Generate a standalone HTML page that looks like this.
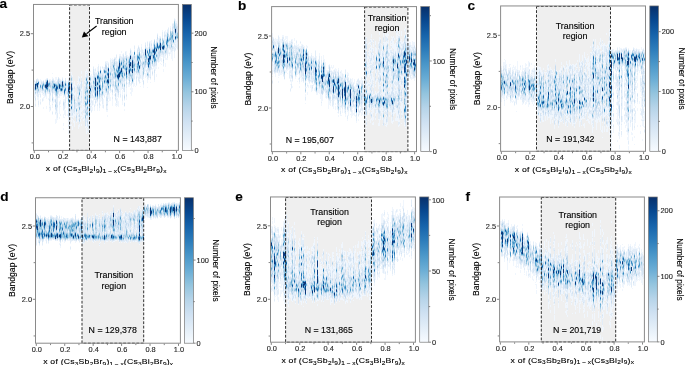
<!DOCTYPE html><html><head><meta charset="utf-8"><style>html,body{margin:0;padding:0;background:#fff;overflow:hidden}svg{display:block;will-change:transform}</style></head><body>
<svg width="685" height="365" viewBox="0 0 685 365" font-family='"Liberation Sans", sans-serif' fill="#000"><style>text{stroke:currentColor;stroke-width:0.12px}</style>
<defs><linearGradient id="cbg" x1="0" y1="1" x2="0" y2="0">
<stop offset="0" stop-color="#f7fbff"/>
<stop offset="0.1" stop-color="#e3eef8"/>
<stop offset="0.2" stop-color="#cfe1f2"/>
<stop offset="0.3" stop-color="#b6d4e9"/>
<stop offset="0.4" stop-color="#93c4de"/>
<stop offset="0.5" stop-color="#6aadd5"/>
<stop offset="0.6" stop-color="#4a97c9"/>
<stop offset="0.7" stop-color="#2d7dbb"/>
<stop offset="0.8" stop-color="#1764ab"/>
<stop offset="0.9" stop-color="#084991"/>
<stop offset="1" stop-color="#08306b"/>
</linearGradient><filter id="sb" x="-5%" y="-5%" width="110%" height="110%"><feGaussianBlur stdDeviation="0.35"/></filter></defs>
<rect width="685" height="365" fill="#fff"/>
<rect x="69.6" y="4.45" width="19.9" height="145.95" fill="#efefef"/>
<g fill="none" stroke-width="1" filter="url(#sb)"><path stroke="#f0f6fd" d="M34.5 80v1m0 1v2m0 7v7m1-17v1m0 13v1m0 5v3m0 2v1m1-14v3m1-18v1m0 18v3m1-21v1m0 13v1m0 3v4m0 4v2m1-26v6m0 6v2m1-16v5m0 8v2m0 3v1m0 1v3m0 2v1m1-25v1m0 10v2m1-12v1m0 11v2m0 3v1m0 2v1m1-22v1m0 10v2m0 1v2m0 1v4m0 6v2m1-27v1m0 5v1m0 4v5m1-19v1m0 16v1m1-19v1m0 13v7m0 7v3m1-16v1m1-13v1m0 10v2m0 4v2m1-21v1m0 25v2m0 1v4m1-33v2m0 15v6m0 3v2m0 3v1m1-31v1m0 11v1m1-20v1m0 3v2m0 23v2m0 1v3m0 3v1m0 2v1m1-37v1m0 14v1m0 3v6m1-23v1m0 12v2m0 4v3m1-25v5m0 15v2m0 11v2m0 2v1m0 4v5m1-47v3m0 1v1m0 31v10m1-44v1m0 28v5m0 5v2m1-26v1m0 1v2m1-20v1m0 13v2m0 2v2m0 3v1m0 3v9m0 3v2m1-40v1m0 14v2m0 4v4m0 2v1m0 7v2m1-36v1m0 13v2m1-19v1m0 15v2m1-15v1m0 12v5m0 1v2m0 9v1m0 3v4m0 5v3m0 2v2m1-49v1m0 14v1m0 2v3m0 7v6m0 2v1m1-15v5m0 2v6m1-35v2m0 11v1m0 2v2m1-18v4m0 10v1m0 1v2m0 15v2m1-38v2m0 38v2m0 2v3m0 2v2m0 1v4m1-58v1m0 21v1m0 4v1m0 6v1m0 10v2m0 3v4m1-27v14m0 5v4m1-54v3m0 41v1m0 1v4m0 2v2m1-51v2m0 4v1m0 34v1m0 2v1m0 6v4m1-46v4m0 1v5m0 2v1m0 3v9m0 4v5m0 2v3m1-42v5m0 7v2m0 19v2m0 5v6m1-42v3m0 4v7m0 2v1m0 7v8m1-31v1m0 14v2m0 4v1m0 14v1m1-42v1m0 1v2m0 9v3m0 9v2m0 3v2m0 2v7m1-46v8m0 24v2m0 4v1m0 2v2m0 1v2m0 3v4m1-52v1m0 6v1m0 12v1m0 26v3m1-45v2m0 8v9m0 4v1m0 2v8m0 3v3m1-51v3m0 2v2m0 11v2m0 12v2m0 3v4m0 2v2m0 1v2m0 5v2m1-44v2m0 3v24m0 4v3m1-14v1m0 1v4m0 3v4m0 2v2m1-41v1m0 3v2m0 8v1m0 8v1m0 3v2m0 4v2m0 1v4m1-49v6m0 4v1m0 44v2m1-59v3m0 1v1m0 32v1m0 9v2m0 4v5m0 1v6m1-63v2m0 54v1m0 3v1m1-52v1m0 3v3m0 1v1m0 9v1m0 3v6m0 1v1m0 2v1m0 2v3m0 2v5m0 7v1m1-63v2m0 3v1m0 52v1m1-58v1m0 3v1m0 23v4m0 2v1m0 4v1m1-37v8m0 16v2m0 3v3m0 1v3m0 2v1m1-37v9m0 13v1m0 1v1m0 4v1m0 1v4m1-45v1m0 26v1m0 1v1m0 2v7m1-36v3m0 32v1m0 2v4m1-43v1m0 2v2m0 25v1m0 5v2m1-34v1m0 24v1m0 2v3m1-36v4m0 1v2m0 28v2m0 2v5m1-47v2m0 26v7m1-28v2m0 35v3m1-45v1m0 25v1m0 4v5m0 2v2m1-36v3m0 12v1m0 12v3m1-35v1m0 1v1m0 3v1m0 31v4m1-41v2m0 19v1m0 1v1m0 4v1m0 3v6m0 3v1m1-35v1m0 15v5m0 2v1m1-37v1m0 31v2m1-34v2m0 30v3m0 14v2m1-51v4m0 41v3m0 1v2m0 3v2m1-55v1m0 32v4m0 2v1m1-33v3m0 3v1m0 13v2m0 2v8m1-43v2m0 31v2m0 4v4m1-42v3m0 13v2m0 7v2m0 3v3m1-34v2m0 12v1m0 14v2m0 6v2m0 2v7m1-47v1m0 27v1m1-31v1m0 21v1m0 1v4m0 4v4m0 1v2m1-39v1m0 2v1m0 5v3m0 23v1m0 7v1m0 2v3m1-52v1m0 3v3m0 31v7m0 4v1m0 1v2m1-46v1m0 31v4m0 1v8m1-47v1m0 37v1m0 3v6m1-53v2m0 27v1m0 1v5m0 1v1m1-38v2m0 29v9m0 3v1m1-47v2m0 3v1m0 27v6m1-36v3m0 33v5m0 6v4m1-52v1m0 28v6m0 2v2m1-36v1m0 35v2m0 6v1m0 1v1m0 3v1m0 2v2m1-60v1m0 3v1m0 4v1m0 15v5m1-30v4m0 33v6m0 3v3m1-45v2m0 15v1m0 6v1m0 3v1m1-28v1m0 23v1m0 1v5m1-34v3m0 29v2m1-39v1m0 30v3m0 1v3m0 2v2m0 2v2m1-44v4m0 26v2m0 3v11m1-44v4m0 32v4m1-38v1m0 27v5m1-42v1m0 3v1m0 29v1m0 3v3m1-31v1m0 11v4m0 1v3m0 11v1m1-33v1m0 19v2m0 9v1m1-38v1m0 26v3m1-33v1m0 5v1m0 22v3m0 4v1m1-35v1m0 31v1m0 3v1m1-34v2m0 1v1m0 15v6m0 3v1m0 3v1m0 3v1m1-43v3m0 12v1m0 1v1m0 4v13m1-30v1m0 3v2m0 15v1m0 9v2m1-32v2m0 7v2m0 16v2m0 6v3m1-39v3m0 20v2m1-32v1m0 25v3m0 2v5m1-31v1m0 17v3m0 1v1m0 2v5m1-36v1m0 4v2m0 19v1m0 3v1m0 7v4m0 4v1m1-41v4m0 27v2m1-39v1m0 30v1m0 1v4m1-37v7m0 31v1m0 2v1m1-43v3m0 21v3m0 2v1m1-23v1m0 18v1m0 1v3m0 4v1m1-34v1m0 19v2m0 3v2m1-2v2m0 11v2m1-39v2m0 21v5m1-32v2m0 17v1m0 7v3m0 5v3m1-44v1m0 27v1m1-24v6m0 18v1m0 4v2m1-33v2m0 20v4m1-26v1m0 19v5m0 2v1m1-21v1m0 11v2m0 1v4m0 2v1m1-35v2m0 23v2m1-19v1m0 27v1m0 2v3m1-41v1m0 22v4m1-28v4m0 3v2m0 4v4m0 9v4m0 3v4m1-35v3m0 19v1m0 3v2m1-31v1m0 28v2m1-33v1m0 20v6m1-19v1m0 13v1m0 2v1m0 1v2m1-30v2m0 22v4m1-2v7m1-36v1m0 21v1m0 5v10m1-38v1m0 5v1m0 14v2m0 3v2m1-33v1m0 21v2m0 3v2m0 5v6m1-39v4m0 20v1m0 3v1m0 2v1m1-30v2m0 17v8m1-24v2m0 23v1"/><path stroke="#e2edf8" d="M34.5 81v1m0 2v3m0 3v1m1-9v1m0 11v1m0 1v2m0 2v1m0 3v2m1-27v1m0 11v2m1-14v3m0 12v3m1-17v1m0 11v1m0 1v3m0 4v4m1-18v6m1-3v2m0 2v3m0 5v2m1-23v1m0 2v1m0 4v2m1-9v1m0 8v2m0 6v2m1-14v1m0 5v1m1-11v1m0 5v1m0 2v1m1-13v2m0 13v1m1-17v1m0 10v2m1-14v1m0 13v1m1-2v1m1-12v1m0 6v2m0 5v5m0 2v4m0 2v1m1-27v1m0 6v5m0 2v1m0 11v3m1-29v2m0 8v1m1-13v1m0 21v1m0 2v1m0 7v2m1-35v1m0 10v3m1-12v2m0 8v2m1-11v1m0 13v1m0 6v1m0 5v1m0 2v2m1-32v1m0 14v5m0 9v2m1-33v1m0 17v7m0 2v1m0 5v5m1-41v1m0 15v1m1-15v2m0 1v1m0 8v1m0 2v2m0 6v3m1-25v1m0 11v2m1-13v1m0 10v2m1-16v1m0 13v1m1-4v4m0 8v1m0 4v4m1-28v1m0 19v7m1-31v2m0 13v10m1-20v1m0 2v8m1-9v6m0 3v1m0 1v1m1-17v1m0 36v1m0 2v2m0 3v2m1-50v4m0 16v1m0 1v4m0 1v2m0 3v1m0 1v1m0 3v6m0 2v3m2-51v1m0 34v6m1-39v4m0 1v1m0 2v2m0 4v2m0 8v4m0 2v6m0 2v1m0 1v2m1-25v2m0 13v4m1-27v1m0 2v4m0 2v1m0 16v2m1-12v7m1-6v4m0 5v3m0 6v1m1-37v1m0 3v5m0 3v9m1-22v3m0 4v4m0 5v2m0 4v2m0 2v4m0 1v2m1-39v1m0 2v1m0 3v1m0 12v4m0 9v3m0 3v1m0 4v2m1-40v5m0 2v1m0 9v4m1-27v3m0 7v1m0 2v5m0 2v5m0 9v2m2-9v1m0 4v3m0 4v2m1-38v3m0 2v8m0 1v2m0 2v2m0 1v1m0 6v4m1-36v4m0 1v1m0 1v3m0 13v1m1-27v3m0 17v1m0 5v2m0 5v1m0 10v4m1-49v3m0 3v1m0 5v1m0 19v1m0 10v4m0 6v1m1-46v3m0 5v5m0 2v2m0 1v3m0 6v1m0 4v2m0 10v1m0 2v4m1-60v3m0 43v10m1-52v1m0 4v2m0 15v1m0 4v2m0 1v4m1-28v3m0 3v2m0 3v5m0 2v3m0 3v1m0 3v2m1-27v2m0 3v4m0 2v2m0 3v4m1-38v2m0 6v5m0 8v2m0 2v1m0 3v2m1-26v2m0 21v5m0 5v2m1-38v2m0 2v3m0 23v2m0 2v1m1-31v6m0 9v2m0 6v1m0 1v2m1-29v1m0 29v1m0 2v2m1-40v5m0 19v2m1-19v2m0 24v4m0 2v3m1-41v2m0 24v1m0 1v2m1-24v3m0 5v1m0 4v3m0 1v2m0 4v2m1-31v1m0 5v1m0 22v2m0 1v5m1-35v1m0 2v13m0 2v1m0 1v1m0 1v4m0 10v3m1-41v2m0 6v1m0 8v6m0 5v2m1-35v2m0 20v2m0 5v2m1-30v2m0 19v2m0 10v1m0 4v3m0 2v4m1-43v1m0 3v1m0 15v4m0 4v3m0 3v3m0 1v1m0 3v1m1-47v1m0 30v1m1-23v3m0 1v3m0 4v6m1-29v6m0 3v2m0 19v1m1-29v6m0 4v3m0 2v2m0 1v4m1-24v2m0 1v1m0 2v3m0 2v1m0 8v4m0 2v1m0 2v1m0 3v2m0 2v2m1-39v3m0 8v5m0 3v2m0 5v1m1-29v1m0 26v4m1-31v2m0 1v2m0 1v2m0 3v2m0 20v1m0 5v1m0 1v1m1-45v3m0 3v1m0 16v2m0 2v3m0 5v2m0 7v4m0 1v1m1-43v3m0 17v3m0 7v1m1-33v4m0 23v2m0 6v2m1-41v1m0 25v1m1-27v6m0 15v2m0 5v1m0 9v3m1-40v3m0 6v1m0 10v1m0 3v3m1-27v1m0 23v2m0 4v2m0 6v6m1-47v1m0 14v2m0 3v2m0 3v3m0 6v2m1-33v1m0 12v2m0 5v1m0 3v2m0 11v1m0 4v1m1-48v3m0 1v2m0 1v1m0 1v2m0 9v4m1-21v1m0 29v3m0 6v1m0 1v1m1-40v5m0 1v2m0 5v2m0 1v3m0 1v2m1-22v2m0 17v1m0 1v2m1-24v1m0 27v1m1-36v1m0 22v1m0 4v2m1-25v2m0 4v2m0 11v1m0 5v1m0 2v3m1-29v1m0 26v1m1-29v1m0 15v11m1-36v3m0 1v1m0 9v1m0 12v6m1-23v7m0 2v2m0 4v1m1-17v5m0 2v2m0 9v1m0 2v1m0 2v6m1-36v1m0 23v2m1-29v1m0 2v2m0 1v2m0 19v1m0 3v4m1-33v1m0 12v4m0 10v4m0 1v3m1-29v1m0 3v1m0 9v1m0 6v3m1-31v8m0 3v1m0 3v1m0 1v2m1-16v3m0 2v7m0 6v2m0 1v9m1-28v1m0 3v3m0 6v2m0 9v1m0 3v1m0 3v1m1-33v4m0 4v1m0 7v4m1-29v2m0 22v1m1-20v5m0 11v1m0 5v2m1-30v4m0 2v1m0 7v1m0 3v2m0 4v1m0 1v3m0 5v3m1-28v1m0 18v3m0 4v1m1-36v1m0 28v1m1-24v1m0 21v7m0 1v1m1-36v1m0 2v4m0 7v3m0 1v3m0 3v2m1-21v1m0 22v1m0 2v1m1-32v1m0 2v2m0 13v1m0 2v3m1-28v1m0 26v1m0 2v1m0 3v7m1-35v1m0 9v2m0 6v3m1-25v1m0 23v1m1-32v1m0 5v2m0 9v3m0 5v2m1-17v1m0 15v2m1-24v1m0 10v1m0 7v1m1-21v1m0 16v2m1-8v2m0 3v2m1-23v6m0 12v1m0 3v1m1-16v1m0 10v2m0 3v4m0 4v3m1-34v3m0 2v5m0 8v4m1-20v1m0 1v1m0 2v4m0 4v3m0 4v2m1-21v4m0 7v2m0 5v1m1-24v2m0 17v9m1-30v6m0 3v1m0 5v2m0 1v2m1-12v1m0 5v3m0 3v1m0 4v1m1-26v2m0 14v3m0 2v1m1-19v1m0 16v4m1-28v3m0 16v2m0 4v2m1-27v2m0 2v1m0 1v2m0 11v1m0 2v3m1-30v1m0 12v8m0 2v3m0 2v5m1-29v1m0 17v2m0 1v3m0 1v2m1-27v3m0 13v1m1-14v6m0 7v1m0 2v7"/><path stroke="#d4e4f4" d="M34.5 87v3m1 1v1m0 6v2m1-20v1m0 9v1m1-9v1m0 10v1m3-5v1m1-8v2m0 1v2m0 1v1m1-6v1m1-3v1m0 6v1m0 1v1m1-1v2m1-10v1m0 11v1m3-13v1m0 5v3m1-10v1m0 11v1m0 5v2m1-19v1m0 10v2m1-12v8m1-11v1m0 12v5m1-18v1m0 8v1m1 0v1m1 4v1m0 3v1m0 2v1m0 4v2m1-26v1m0 12v1m0 5v9m1-30v3m0 12v2m0 7v2m1-29v1m0 11v1m0 1v1m1-12v1m0 8v1m1-10v2m2-4v1m0 11v1m1-11v3m0 4v1m0 13v1m0 2v1m1-23v4m0 8v1m1-16v1m0 11v1m1-9v2m1 5v1m1-11v1m0 25v1m0 8v1m1-36v1m0 10v5m0 9v3m0 3v3m2-39v1m0 4v1m0 23v1m1-23v2m0 15v1m0 4v2m0 6v2m2-28v2m0 7v2m0 11v3m2-4v1m0 6v1m0 2v3m1-35v1m0 1v1m1-2v1m0 2v1m0 4v1m0 3v1m0 5v1m1-27v2m0 5v1m0 18v2m0 3v1m0 3v1m0 3v1m1-30v2m1-10v7m0 8v2m3-1v2m0 2v1m1-19v1m0 3v2m0 19v2m0 3v2m0 4v7m1-33v1m0 1v5m0 8v1m0 2v1m0 3v1m1-40v3m0 1v1m0 3v1m0 1v2m0 6v1m0 15v1m0 9v1m0 2v3m1-32v2m0 30v2m1-52v1m0 3v2m1 3v1m1 4v1m0 1v1m1-6v3m0 4v2m1-27v6m0 12v1m0 2v2m1-18v3m0 3v1m0 4v1m0 5v4m1-19v1m0 24v2m1-16v1m0 2v1m0 4v1m1-22v1m0 5v1m0 19v1m1-12v1m1-15v1m0 22v1m0 4v2m1-36v1m0 4v2m0 5v3m0 7v1m0 2v1m1-19v2m0 2v1m0 8v1m0 2v2m0 1v1m1-22v1m0 20v1m0 2v1m1-29v2m0 13v2m1-14v1m1-10v1m0 4v1m0 13v1m0 2v2m0 2v1m1-26v1m0 3v1m0 5v1m0 10v1m0 5v1m0 4v4m0 3v2m1-38v1m0 1v1m0 15v1m0 4v4m0 3v3m0 3v1m1-41v3m0 23v1m0 2v1m1-15v4m1-17v3m0 2v1m0 4v3m0 4v1m0 4v2m1-22v4m0 7v1m1-18v1m0 1v2m0 3v2m0 2v1m0 3v3m0 4v2m0 6v1m1-30v1m0 5v2m0 5v1m0 1v1m0 2v3m1-6v1m1-16v1m0 7v1m0 7v1m0 7v2m0 1v1m0 2v1m0 2v1m0 1v1m1-37v6m0 9v1m0 2v2m1-17v1m0 14v2m0 3v3m0 3v1m1-28v1m0 24v1m0 3v2m1-38v1m0 20v2m0 1v1m1-20v1m0 13v1m0 6v1m1-6v3m1-23v7m0 14v2m0 2v1m1-29v3m0 13v3m0 4v1m1-21v2m0 2v2m0 12v1m0 1v3m0 2v1m0 3v5m0 3v1m0 2v1m0 4v3m1-48v1m0 4v1m0 7v1m1-16v1m0 23v2m0 2v1m0 10v1m1-34v1m0 2v1m0 10v1m1-18v1m0 6v2m0 7v1m0 1v1m1 5v1m1-34v1m0 2v2m0 6v1m1-6v4m0 12v1m0 1v1m2-19v4m0 10v1m1-12v1m0 1v1m0 10v1m1-10v2m1-5v2m0 2v2m0 1v4m0 6v2m1-29v4m0 18v1m1-26v2m0 5v1m1-6v2m0 19v2m0 1v2m1-20v1m0 3v1m0 3v1m0 3v1m1-13v1m0 7v1m1-2v1m0 4v1m1-15v1m0 1v1m0 5v1m0 13v1m0 5v3m1-28v1m0 1v2m0 1v1m0 5v1m1-23v3m0 18v1m1-14v1m0 9v1m1-15v1m0 4v2m0 1v1m0 7v1m0 6v1m1-4v1m0 3v1m0 2v1m1-34v1m0 26v1m1-22v1m0 11v1m0 6v2m0 7v1m1-34v2m0 4v1m0 5v1m0 3v1m1 4v1m0 6v2m1-30v2m0 2v1m0 11v1m1 3v2m0 4v3m1-11v1m1-21v1m0 9v2m0 3v1m0 1v1m0 2v3m1-30v2m0 2v1m0 9v2m0 3v1m0 2v2m1-9v2m0 2v3m0 2v1m1-21v1m0 10v1m0 5v1m1-4v1m1-10v1m0 5v3m1 0v1m1-2v3m0 4v1m0 1v2m1-28v2m0 5v2m0 5v1m1-15v1m0 17v1m1-3v2m1-21v1m0 15v1m1-11v1m0 3v1m0 2v1m1-5v1m0 3v3m1-18v1m0 10v3m0 3v2m1-17v1m1-6v4m0 10v2m0 3v3m1-23v2m0 4v1m0 2v4m1-19v1m0 9v2m1-8v1m0 10v1m0 4v1m1-15v1m0 5v2m1 6v2"/><path stroke="#c6dbef" d="M35.5 93v1m1-13v1m0 7v1m1-1v4m1-8v4m0 2v1m2-8v1m0 3v1m1-2v1m1 2v1m1-9v1m0 3v1m0 2v1m1-6v1m0 2v1m1-5v1m0 9v1m1-14v1m1-2v1m0 11v1m1-5v1m1 4v1m1-10v2m0 2v1m2-5v2m0 5v3m0 5v1m0 1v1m1-20v2m1 6v1m1-7v1m0 8v3m0 5v2m0 2v1m2-21v1m0 5v1m0 3v2m1-17v3m0 7v1m0 1v1m1-3v1m1-7v1m0 7v1m1-10v2m1-4v1m1 22v2m1-18v2m1-8v1m0 4v1m0 4v1m2 0v2m1 12v1m0 1v1m0 2v5m3-39v1m0 26v1m1-18v1m0 2v1m0 2v1m0 5v1m2-2v1m0 5v5m2 7v2m1-31v1m1 0v2m0 6v1m0 5v1m0 1v1m1-18v2m0 6v1m0 6v1m0 12v2m0 2v1m0 1v1m6-33v2m0 4v1m0 11v1m0 2v1m0 7v1m1-42v1m0 3v2m0 6v1m0 2v1m0 9v1m0 2v1m0 3v2m0 1v1m1-25v2m0 3v1m0 10v1m0 6v1m0 3v1m0 5v2m2-6v1m1-41v1m0 2v1m0 2v2m0 1v1m0 5v1m0 1v4m1-13v1m0 1v1m0 3v1m2-12v1m0 3v3m1-6v1m0 2v1m0 5v1m1 6v1m1-19v2m0 10v4m1 4v1m1-29v1m0 13v4m1-13v1m0 20v1m1-22v1m0 3v1m0 3v1m1-7v2m0 14v1m1-20v2m0 3v1m0 8v2m2-22v1m0 6v1m1-12v4m0 4v2m0 7v1m0 5v2m1-24v3m0 1v1m0 2v2m0 1v1m0 2v1m0 3v1m0 3v1m1-19v1m0 6v3m1 10v1m0 1v2m2-11v1m0 4v1m2-12v1m0 13v2m1-28v1m0 12v1m0 6v2m1-27v3m0 4v1m0 8v3m1 0v1m0 1v1m0 8v1m0 4v2m1-24v2m0 11v1m0 3v1m1-24v4m0 9v1m0 8v1m0 1v1m1-26v1m0 15v1m0 4v1m0 3v3m1-13v1m1-14v3m0 5v1m0 3v1m1-20v1m0 15v1m1-12v1m0 3v1m0 8v1m0 7v1m1-29v1m0 17v1m1-17v1m0 3v1m0 4v1m0 2v1m0 23v2m1-34v1m1-8v1m0 7v1m0 13v1m0 2v2m1-18v1m0 2v1m1-10v1m0 2v1m0 1v1m0 2v1m0 5v1m1-18v1m0 18v4m0 1v2m1-32v2m0 7v1m0 10v1m0 1v1m0 2v1m1-10v2m0 9v1m1-22v1m0 18v2m0 4v1m1-23v2m0 6v2m1-19v1m0 3v1m0 2v1m0 3v1m2 3v1m0 4v2m1-12v2m0 7v2m2-21v1m0 20v1m1-17v2m0 4v1m0 1v1m0 1v1m1-11v2m1 5v1m0 1v2m1-13v1m0 9v1m0 2v1m1-11v1m0 4v5m1-9v1m0 6v1m1-12v1m0 5v3m1-5v2m1-8v1m0 4v1m0 10v1m0 5v2m1-32v3m0 18v5m1-20v1m0 11v6m1-17v1m1 1v2m0 1v4m0 4v1m1-12v1m1-14v1m0 22v1m1-18v1m0 7v1m1-12v1m0 16v2m1-25v2m0 16v2m1-12v1m0 6v2m0 3v2m1-19v3m0 8v5m1-18v1m1 8v1m1-10v1m0 2v1m0 9v2m1 7v1m1-17v1m1 5v1m1-12v1m0 5v1m0 2v3m2-17v3m1 0v1m1 2v1m1 1v2m0 3v1m1-8v1m1-8v2m1-6v1m1-5v3m1-1v5m0 2v1m0 3v1m1-7v1"/><path stroke="#afd1e7" d="M35.5 83v1m0 6v1m0 1v1m1-11v1m0 4v1m2-7v1m4 2v1m3 4v1m0 2v1m4-11v1m0 3v1m0 2v1m1-5v2m2-6v2m0 2v1m0 3v1m0 9v1m3-13v1m0 3v1m0 13v2m1-12v1m1-5v3m1-12v1m0 4v2m1-6v1m2 0v1m0 2v1m0 3v1m2-8v1m0 2v1m2-6v1m0 4v1m3 14v1m0 6v2m1-29v1m0 8v1m2-12v1m0 1v1m0 26v1m1-16v1m0 1v3m2 0v1m0 1v3m2 7v1m2-15v2m0 4v1m1-15v3m0 11v2m0 15v1m6-27v1m0 4v1m0 1v1m0 4v1m0 4v2m0 2v1m1-33v1m0 1v2m0 3v1m0 23v1m1-20v1m0 10v1m0 2v1m2-33v1m0 1v1m0 8v2m0 1v2m0 12v1m0 2v2m1-23v1m0 5v1m1-8v1m3-10v1m0 1v1m0 2v2m0 2v1m2-6v3m0 2v1m1-8v1m0 1v1m0 4v1m0 11v1m1-19v5m1-2v2m0 11v1m3-20v1m0 1v1m0 14v1m2-16v1m0 3v1m1-14v1m0 8v3m1-11v2m0 7v1m0 10v1m1-20v1m0 12v1m1-19v1m0 16v2m2-14v1m0 2v1m0 3v1m0 4v1m2-11v2m1-8v1m1-7v4m0 1v1m0 3v1m0 2v1m1-3v1m0 8v1m0 4v1m1-19v1m0 5v1m0 1v1m0 9v1m0 1v1m1-16v1m0 15v1m1-8v1m1-25v1m1 4v1m0 2v1m0 13v1m0 1v1m1-18v1m0 1v1m1-2v1m0 1v1m0 1v1m0 13v2m1-27v1m0 17v1m1-17v1m0 3v3m0 16v1m0 1v1m1-20v1m0 2v1m1-10v2m0 3v1m1 0v2m1-8v2m0 1v1m0 4v1m0 2v2m1 1v1m0 4v1m1-14v1m0 6v1m1-13v1m0 1v3m0 8v3m1-20v1m0 15v2m1-14v2m1-8v2m0 5v1m0 3v1m0 3v1m3-18v1m1 0v1m0 3v1m0 8v1m0 3v1m1-13v1m0 8v1m1-10v2m0 3v1m2-2v1m1 4v3m0 2v1m2-27v1m0 8v1m0 5v2m1-6v1m1 2v1m0 1v1m0 8v1m0 1v1m1-20v1m1-10v1m0 6v1m1-4v1m0 1v2m0 5v1m1-7v2m1-7v1m0 5v1m0 4v1m1-7v1m0 4v1m1-19v3m0 18v1m1-14v2m0 6v1m0 3v1m1-18v2m0 8v1m1-13v1m2 0v1m0 4v1m1-9v2m0 10v1m1-8v2m1-8v2m0 1v1m0 2v1m1-6v1m0 3v1m1 3v1m1 3v1m2-20v1m0 13v1m1-9v1m2-9v1m0 4v1m1-4v1m0 5v3m0 2v1m1-14v1m1 7v1m1-19v1m0 6v1m1 5v1m1 0v1m1 2v1"/><path stroke="#97c6df" d="M36.5 86v1m0 1v1m2 0v2m4-2v1m1-7v1m1 1v2m1 1v1m0 1v2m1-11v1m0 7v1m1 0v1m1-5v1m1-2v1m0 4v2m3-4v1m1-6v1m0 1v1m0 2v1m1-6v1m0 4v1m1-3v1m1-3v1m0 8v2m1-10v1m0 3v1m1-7v4m2-3v1m0 2v1m1-3v1m1 4v1m2 3v1m4-13v1m0 14v2m0 4v1m0 1v1m1-23v1m2-6v2m1 8v2m0 5v1m2 4v1m2 8v1m3-3v1m0 1v1m6-19v1m0 1v1m0 2v1m0 8v1m0 10v2m1-34v1m0 2v2m0 2v1m0 21v1m1-17v2m0 13v3m2-37v1m0 3v1m0 7v1m0 2v2m0 9v1m0 1v1m0 3v1m0 5v1m1-39v2m0 11v1m3-9v1m1-6v1m0 10v1m2-6v2m1-1v1m0 11v1m1-26v1m0 1v1m0 4v1m1 15v1m1-23v1m0 3v1m0 1v1m0 5v2m2-9v1m0 2v1m0 6v1m0 2v1m2-15v2m1-1v1m1-2v2m0 9v1m1-5v1m1 3v1m2-9v2m0 4v1m4-17v1m0 1v2m1 3v1m0 4v4m1-15v1m0 3v1m0 11v1m2-8v1m1-10v1m1-8v2m0 8v1m0 6v1m1-21v1m0 12v2m1-9v1m0 3v1m0 5v1m1-18v2m0 1v2m0 3v1m1-1v1m0 16v1m1-21v2m1-9v1m0 5v1m0 13v1m2-9v2m1-14v1m0 15v1m1-16v1m0 6v1m0 8v1m1-13v1m0 5v1m0 1v1m1-13v1m0 13v1m0 4v1m1-15v1m0 2v1m1-2v1m3 2v1m1-10v1m0 6v1m0 1v1m1-18v1m0 3v1m4 5v2m0 4v1m0 3v2m2-15v2m0 1v1m1-8v1m0 2v1m1-6v1m0 9v1m2-16v1m1 3v1m1-1v2m1-2v1m0 10v1m4-18v1m1 1v1m1 0v1m1-6v1m1-6v1m0 11v1m2-9v2m0 4v1m1-7v1m2 7v1m1-12v1m1-7v2m0 7v1m1-3v1m1-4v1m0 1v1m1-9v4m0 1v1m1-4v2m0 2v1m0 6v2m1-15v3m0 4v1m1 2v1m1-21v6m1 0v1m1 7v2m1-5v3"/><path stroke="#7ab6d9" d="M37.5 88v1m1-5v1m2 2v1m3-3v1m5-3v1m4 2v2m1-4v1m0 1v1m2-3v1m1 7v1m4-3v1m1-5v1m1 1v1m1-4v2m5 6v1m0 7v1m0 2v1m3-13v1m5 17v1m3-19v1m0 15v1m6-17v1m0 5v1m0 3v1m1-25v1m0 1v1m0 22v2m1-24v1m0 1v1m0 8v1m0 3v1m0 2v1m0 8v1m2-2v1m0 3v2m4-32v2m1 4v1m1-11v1m0 8v1m2-12v1m1-3v1m0 1v1m1 1v1m0 16v1m1-25v1m0 16v1m0 2v1m2-9v1m0 4v1m0 5v1m3-22v1m1 8v2m0 7v1m1-16v1m0 7v1m3-11v2m0 10v1m3-21v1m0 1v1m1 0v2m1 3v1m1-5v1m1 0v1m0 3v1m0 3v1m1-13v1m0 5v1m0 12v1m1-27v1m0 9v2m0 6v1m1-8v1m1 2v1m1-2v1m1-11v1m1 10v1m0 1v1m1-8v2m1-10v1m0 2v1m3 4v1m2 1v1m1-3v1m0 12v1m1-17v2m1-3v2m3-11v1m0 4v1m0 2v1m0 1v1m0 2v1m1-3v1m0 4v1m1-19v1m0 1v1m6 0v1m0 4v1m1-6v2m1-8v1m0 23v1m1-22v1m1-1v1m0 1v1m0 8v1m3-3v1m2-19v1m1 2v1m0 10v1m1-12v1m0 8v1m4-15v1m0 7v1m3-10v2m1 2v1m3-10v1m0 7v1m0 1v1m1-7v1m1-2v1m1-2v2m1-4v2m1 0v1m3-6v1m0 5v1m2-4v1"/><path stroke="#5fa6d1" d="M36.5 83v1m4 1v1m2-1v1m1-2v1m2-1v1m2 4v1m2-7v2m6 3v1m5-3v1m0 1v1m2-2v1m0 1v1m2-1v1m1-7v1m0 6v1m3 5v1m1-13v1m0 5v1m2 2v1m0 7v1m0 1v1m0 2v1m8-13v1m6 2v1m0 6v1m2-15v1m0 9v1m0 6v1m2-25v1m0 3v1m0 7v1m5-8v1m1 7v1m2-1v1m1-19v1m1-1v1m0 13v2m1-16v1m2 4v4m0 5v1m2-23v1m0 9v1m1-10v1m0 3v1m1 13v1m2-18v1m7 1v3m1-7v1m1 1v1m1-2v1m0 11v1m1-24v1m3 13v1m1-10v1m1 8v1m2-16v1m0 7v1m0 9v1m3-19v1m1-5v1m0 12v1m0 1v1m2 8v1m2-26v1m0 13v1m0 1v1m3-7v1m0 1v2m1-10v1m0 11v1m1-17v1m0 2v1m0 1v1m0 5v1m9-11v1m0 11v1m2-13v1m2-6v2m0 9v1m1-13v1m0 8v1m1 2v1m1-14v1m0 2v1m0 1v1m0 6v1m1-10v1m0 3v1m2-10v1m5-2v1m1 1v1m2-7v1m0 2v1m1-3v1m5-6v1m5-1v1"/><path stroke="#4896c8" d="M36.5 85v1m4 0v1m2 1v1m5-2v1m1-4v2m5 1v1m1-1v1m1-3v1m0 4v1m1-6v1m0 5v1m1-6v1m3-2v1m0 3v1m4 3v1m1-9v1m0 2v1m3-4v2m0 5v1m0 1v1m0 4v2m3-18v1m0 7v1m0 8v1m0 1v1m8-10v1m6 9v1m1-25v1m1 2v1m0 8v1m0 11v1m2-8v1m0 2v2m0 2v1m0 9v1m0 1v1m6-25v1m4-13v1m0 2v1m0 6v1m0 1v1m5-20v1m0 9v1m1-6v1m2-5v1m0 5v1m1-2v1m0 4v1m0 3v1m5-22v1m4 4v1m1 1v1m0 5v1m0 4v1m3-23v1m0 1v1m0 7v1m1 0v1m0 1v2m4-2v2m3-17v1m0 12v1m5-22v1m3 3v4m1-4v1m0 8v1m10-12v1m0 7v1m1-11v1m0 7v2m1-3v1m4-15v2m0 8v6m1-2v1m2-17v1m1 4v1m1-4v1m3 0v1m1 2v1m1-4v1m2-5v1m1-6v1m0 7v1m5-11v2m3-1v1"/><path stroke="#3484bf" d="M35.5 89v1m2-3v1m1-6v2m4 2v2m4-6v1m1-3v1m0 7v1m8 0v1m6-2v1m1-8v1m3 7v1m3-7v2m0 10v1m3 12v1m18-23v1m0 10v1m0 3v1m0 12v1m6-23v1m2-15v1m0 3v1m0 6v2m1-15v2m1 2v1m0 9v1m1-3v1m4-18v1m1 4v1m2-3v1m1-4v1m0 7v1m0 6v1m10-17v1m1-10v1m0 6v1m1 4v1m3-7v1m3 2v1m3-10v3m0 5v1m1-1v1m2 10v1m2-28v1m0 15v1m4-9v1m1-4v1m6-4v1m2-5v2m1 10v1m1-15v1m0 1v1m0 10v2m4-12v1m0 2v1m1-9v1m1 4v1m1-5v1m2-2v1m1-1v1m7-5v1m1-6v1m0 2v1m6-2v2"/><path stroke="#2070b4" d="M46.5 83v1m0 4v1m10-3v1m0 3v1m1-3v1m2-5v1m0 3v1m2 1v1m1-5v1m2 3v1m0 1v1m1-9v1m3 2v1m1-3v1m0 1v1m2 2v1m16 10v2m2-19v2m0 12v1m0 3v1m1-15v1m0 1v1m5-1v1m0 2v1m0 1v1m2-20v1m0 10v1m0 7v1m2-15v1m0 3v1m1-14v1m0 16v1m4-9v1m3 0v1m1-15v1m9 8v1m1-11v1m0 1v1m1-8v1m0 9v1m1-2v1m1-9v1m2 2v1m3 1v1m6-9v1m6-4v1m0 6v1m1 3v1m6-20v1m3 8v1m1-9v1m0 8v1m8-16v1m0 2v1m2-2v1m8-8v1"/><path stroke="#125ea6" d="M36.5 84v1m9 2v1m9-4v1m3 2v1m7 3v1m5-6v1m0 1v1m2 5v1m0 4v1m0 7v1m24-14v1m2-11v1m3-14v1m8 1v1m0 6v1m10-13v1m3-1v1m5 0v1m0 1v1m0 2v1m3-8v1m1-6v1m18 1v3m5-17v1m0 5v2m1-10v1m3-4v2m5 1v1m5-9v1m8-9v1m0 5v1"/><path stroke="#084c95" d="M46.5 84v1m10 2v3m12-2v1m0 2v1m1-3v1m2 8v1m24-12v1m2-11v1m0 10v1m0 5v1m2-7v1m18-14v1m1 2v1m1-12v1m1 4v1m9-3v1m0 1v1m9-10v1m11-8v1m11-14v1m0 1v2m2 0v1"/><path stroke="#083979" d="M35.5 84v5m2-6v4m8-2v2m1-2v3m1-7v6m7-2v2m5-2v3m2 1v1m1-8v4m6 3v2m3-7v6m0 5v3m19-9v1m5-12v8m0 2v2m2-7v1m0 7v3m2-8v2m8-8v2m1-13v2m0 3v4m0 3v2m9-7v1m1-3v4m1-15v4m0 6v4m2-8v3m5 0v2m3-10v3m0 4v1m1-16v3m0 4v3m2-5v7m0 1v4m6-11v1m1 3v2m6-18v5m3 4v3m1-5v2m1-3v3m3-8v1m1-3v6m2-6v2m4-7v1m0 2v3m3-4v3m12-20v3m0 5v1"/></g>
<rect x="69.6" y="4.9" width="19.9" height="145.5" fill="none" stroke="#1a1a1a" stroke-width="0.9" stroke-dasharray="2.8 1.6"/>
<rect x="33.5" y="4.45" width="144.9" height="145.95" fill="none" stroke="#8a8a8a" stroke-width="1"/>
<path d="M34.3 150.9v2.2M48.52 150.9v1.4M62.74 150.9v2.2M76.96 150.9v1.4M91.18 150.9v2.2M105.4 150.9v1.4M119.62 150.9v2.2M133.84 150.9v1.4M148.06 150.9v2.2M162.28 150.9v1.4M176.5 150.9v2.2M33 142.9h-1.4M33 106.5h-2.2M33 70.1h-1.4M33 33.7h-2.2" stroke="#666" stroke-width="0.8" fill="none"/>
<text x="34.8" y="159.3" text-anchor="middle" font-size="7.4" fill="#333">0.0</text>
<text x="63.24" y="159.3" text-anchor="middle" font-size="7.4" fill="#333">0.2</text>
<text x="91.68" y="159.3" text-anchor="middle" font-size="7.4" fill="#333">0.4</text>
<text x="120.12" y="159.3" text-anchor="middle" font-size="7.4" fill="#333">0.6</text>
<text x="148.56" y="159.3" text-anchor="middle" font-size="7.4" fill="#333">0.8</text>
<text x="177" y="159.3" text-anchor="middle" font-size="7.4" fill="#333">1.0</text>
<text x="30" y="109.2" text-anchor="end" font-size="7.4" fill="#333">2.0</text>
<text x="30" y="36.4" text-anchor="end" font-size="7.4" fill="#333">2.5</text>
<text transform="translate(12.5 77.42) rotate(-90)" text-anchor="middle" font-size="8.6">Bandgap (eV)</text>
<text transform="translate(106.25 171) scale(1.085 1)" text-anchor="middle" font-size="8" letter-spacing="0.2"><tspan>x of (</tspan><tspan>Cs</tspan><tspan dy="1.8" font-size="6.0">3</tspan><tspan dy="-1.8">Bi</tspan><tspan dy="1.8" font-size="6.0">2</tspan><tspan dy="-1.8">I</tspan><tspan dy="1.8" font-size="6.0">9</tspan><tspan dy="-1.8">)</tspan><tspan dy="1.8" font-size="6.0">1 − x</tspan><tspan dy="-1.8">(</tspan><tspan>Cs</tspan><tspan dy="1.8" font-size="6.0">3</tspan><tspan dy="-1.8">Bi</tspan><tspan dy="1.8" font-size="6.0">2</tspan><tspan dy="-1.8">Br</tspan><tspan dy="1.8" font-size="6.0">9</tspan><tspan dy="-1.8">)</tspan><tspan dy="1.8" font-size="6.0">x</tspan></text>
<rect x="182.5" y="4.45" width="8.8" height="145.95" fill="url(#cbg)" stroke="#777" stroke-width="0.7"/>
<path d="M191.3 150.4h2.2M191.3 91.79h2.2M191.3 33.17h2.2M191.3 121.09h1.4M191.3 62.48h1.4" stroke="#666" stroke-width="0.8" fill="none"/>
<text x="194.5" y="153.1" font-size="7.4" fill="#333">0</text>
<text x="194.5" y="94.49" font-size="7.4" fill="#333">100</text>
<text x="194.5" y="35.87" font-size="7.4" fill="#333">200</text>
<text transform="translate(211.3 77.42) rotate(90)" text-anchor="middle" font-size="8.3">Number of pixels</text>
<text x="-0.6" y="7.8" font-size="13.6" font-weight="bold" fill="#000">a</text>
<text x="137.7" y="142.2" text-anchor="middle" font-size="8.8">N = 143,887</text>
<g><text x="114.2" y="23.9" text-anchor="middle" font-size="8.9">Transition</text><text x="114.2" y="34.5" text-anchor="middle" font-size="8.9">region</text></g>
<rect x="364.6" y="6.6" width="43.3" height="145" fill="#efefef"/>
<g fill="none" stroke-width="1" filter="url(#sb)"><path stroke="#f0f6fd" d="M272.5 33v4m0 14v1m0 14v4m0 4v1m0 1v1m0 3v1m0 2v1m1-47v1m0 13v1m0 6v1m0 2v2m0 1v8m1-33v2m0 32v1m1-36v4m0 4v1m0 2v1m0 23v4m1-38v6m0 5v1m0 21v1m1-34v2m0 3v1m0 3v1m0 10v1m1-25v1m0 35v5m0 1v1m0 3v2m1-46v4m0 27v1m0 4v3m1-37v8m0 18v10m1-36v4m0 3v4m0 16v4m0 3v2m1-40v2m0 15v1m0 19v2m1-39v2m0 2v1m0 36v1m1-38v5m0 24v2m0 9v1m1-44v4m0 1v1m0 25v1m0 2v3m1-37v3m0 1v3m0 7v1m0 19v3m1-37v6m0 27v2m0 2v1m1-31v2m0 4v1m0 2v1m0 14v3m1-29v2m0 26v2m0 7v1m1-38v2m0 26v1m0 3v2m0 1v4m0 1v1m0 2v1m0 3v1m0 2v1m1-53v1m0 28v2m0 8v1m0 1v4m0 4v1m1-50v3m0 2v1m0 36v1m0 4v2m1-42v1m0 9v1m0 3v1m0 2v1m0 1v4m1-31v3m0 2v2m0 4v1m0 1v1m0 8v1m0 4v4m0 2v2m1-28v1m0 7v1m0 23v2m1-39v1m0 2v3m0 19v2m0 8v2m1-32v2m0 3v1m0 19v5m0 6v1m1-38v3m0 22v5m0 4v2m1-34v2m0 5v1m0 12v1m0 8v2m0 5v2m0 2v2m1-47v1m0 1v1m0 2v2m0 24v6m1-34v2m0 31v5m1-38v1m0 31v1m0 2v2m1-36v2m0 35v1m1-37v3m0 3v2m0 4v4m0 9v1m0 3v4m1-30v1m0 44v3m0 3v1m0 2v1m1-59v3m0 31v2m0 6v1m1-42v2m0 30v2m0 3v2m0 1v1m0 5v3m1-44v3m0 27v1m0 3v3m1-32v4m0 1v1m0 21v1m1-28v1m0 18v5m0 1v1m0 3v3m1-35v2m0 27v1m0 2v7m1-36v4m0 7v2m0 1v1m0 2v3m0 7v1m0 5v2m1-35v2m0 23v1m0 2v2m1-29v1m0 2v4m0 20v1m0 3v3m1-41v1m0 34v2m0 4v1m1-36v4m0 33v2m1-34v14m0 3v4m0 4v2m0 1v6m1-36v1m0 26v7m1-40v3m0 33v5m1-26v4m0 2v1m0 9v1m0 2v12m1-43v4m0 34v8m0 1v3m1-43v2m0 30v6m1-46v5m0 33v1m1-35v4m0 14v1m0 9v2m0 2v1m1-30v12m0 12v1m0 6v5m1-28v4m0 14v1m0 6v1m0 2v1m1-29v1m0 25v2m1-33v4m0 1v1m0 29v9m1-45v1m0 36v4m1-38v4m0 1v3m0 19v2m0 7v3m1-41v3m0 2v1m0 23v1m0 5v1m1-34v2m0 2v1m0 2v3m0 16v1m0 12v1m1-42v3m0 2v2m0 33v4m1-40v1m0 4v1m0 1v1m0 17v1m0 4v2m1-33v3m0 23v2m0 3v1m0 3v2m0 1v4m1-41v5m0 25v1m1-29v1m0 1v3m0 33v1m0 2v1m1-45v2m0 43v1m0 1v2m1-42v1m0 25v1m0 1v7m1-39v1m0 1v3m0 12v1m0 14v3m0 1v4m0 3v2m1-46v7m0 19v1m0 2v6m0 2v1m0 7v1m1-43v1m0 35v4m1-39v6m0 17v10m1-31v2m0 31v4m1-44v1m0 44v3m1-40v3m0 2v2m0 19v2m1-33v3m0 8v2m0 17v4m0 4v2m0 3v1m0 3v2m1-48v3m0 1v1m0 5v1m0 27v5m1-36v1m0 22v2m0 1v2m1-30v1m0 32v1m0 2v1m1-36v3m0 8v2m0 9v3m0 8v6m1-40v6m0 20v2m0 1v2m0 1v6m1-34v1m0 24v1m0 5v2m1-36v5m0 2v1m0 14v2m0 1v1m0 2v9m1-31v4m0 4v2m0 8v1m0 5v4m0 2v2m1-36v2m0 4v2m0 32v2m1-44v1m0 2v1m0 4v1m0 19v1m1-30v1m0 33v2m0 2v1m0 2v2m1-41v1m0 25v1m0 3v1m0 2v2m1-35v4m0 2v2m0 1v2m0 13v3m0 1v1m0 3v1m1-36v6m0 27v1m0 1v4m1-38v1m0 1v1m0 9v2m0 12v4m0 3v4m1-31v4m0 3v2m0 6v4m0 5v2m1-70v7m0 5v2m0 6v1m0 6v3m0 2v2m0 1v5m0 3v1m0 2v2m0 22v1m0 8v1m0 2v1m1-86v2m0 10v2m0 9v2m0 14v1m0 5v1m0 29v2m0 1v2m0 1v3m1-84v1m0 4v1m0 7v1m0 27v2m0 4v2m0 8v2m0 21v1m0 3v1m0 3v1m0 2v1m1-73v7m0 2v2m0 5v1m0 10v2m0 6v2m0 11v1m0 3v3m1-68v2m0 6v1m0 2v1m0 2v2m0 3v5m0 1v3m0 3v3m0 5v2m0 2v7m0 3v5m0 2v1m0 3v2m0 1v5m0 5v1m1-79v2m0 4v8m0 3v4m0 1v2m0 1v8m0 5v2m0 1v1m0 2v1m0 3v3m0 17v3m1-74v1m0 2v1m0 1v1m0 2v1m0 2v1m0 2v5m0 6v1m0 3v2m0 6v3m0 3v1m0 1v2m0 5v1m0 13v5m0 9v4m1-89v4m0 1v3m0 3v7m0 9v2m0 1v1m0 8v1m0 5v5m0 26v1m0 1v2m0 4v2m1-79v1m0 6v1m0 4v1m0 1v9m0 6v2m0 1v7m0 6v1m0 4v3m0 1v1m0 11v1m0 1v12m0 2v2m1-86v1m0 2v1m0 1v3m0 1v3m0 2v2m0 5v2m0 4v1m0 3v1m0 6v4m0 1v1m0 1v4m0 6v2m0 8v1m0 3v5m0 4v3m0 2v3m1-60v1m0 28v1m0 11v3m1-68v4m0 2v6m0 1v4m0 1v2m0 4v2m0 3v3m0 8v3m0 1v2m0 4v3m0 5v1m0 8v1m0 4v3m0 2v2m1-72v6m0 19v3m0 3v3m0 11v2m0 13v1m0 1v4m1-60v4m0 6v5m0 10v1m0 12v1m0 13v1m0 3v3m1-71v2m0 4v1m0 21v2m0 3v2m0 5v7m0 2v2m0 26v1m0 3v3m1-94v3m0 2v4m0 32v1m0 11v1m0 33v7m1-88v1m0 16v1m0 17v2m0 7v1m0 2v1m0 8v1m0 13v3m0 5v4m1-76v1m0 6v6m0 2v2m0 7v11m0 1v2m0 4v3m0 4v1m0 13v2m0 1v3m1-68v6m0 6v4m0 8v3m0 2v2m0 5v4m0 1v9m0 11v5m0 1v8m0 4v1m1-92v4m0 5v1m0 50v3m1-54v7m0 3v7m0 1v1m0 11v1m0 1v1m0 2v3m0 3v1m0 2v2m0 2v6m0 15v1m0 7v4m1-90v3m0 6v10m0 10v3m0 7v3m0 16v1m0 18v1m0 3v1m0 2v7m0 1v1m1-92v3m0 4v4m0 15v1m0 49v2m0 3v2m0 7v3m1-95v6m0 4v1m0 79v3m1-91v2m0 4v4m0 2v6m0 5v1m0 4v3m0 9v2m0 4v1m0 4v3m0 4v1m0 12v2m0 2v2m1-62v4m0 3v3m0 5v1m0 1v3m0 2v3m0 2v4m0 4v3m0 4v1m0 15v5m0 3v2m1-76v5m0 3v1m0 3v3m0 4v2m0 7v1m0 1v7m0 2v1m0 2v1m0 3v7m0 16v2m1-76v2m0 1v2m0 2v1m0 1v1m0 2v2m0 10v1m0 4v1m0 10v4m0 4v3m0 2v2m0 19v5m0 2v6m1-86v11m0 3v1m0 2v1m0 66v3m1-88v2m0 3v8m0 33v2m0 7v1m0 20v4m0 4v2m1-84v2m0 4v10m0 14v1m0 10v3m0 2v2m0 3v5m0 10v2m0 1v1m0 2v1m0 1v2m1-71v8m0 28v2m0 4v3m0 2v1m0 16v6m0 5v3m1-91v1m0 2v6m0 2v1m0 5v8m0 3v3m0 6v2m0 4v1m0 6v2m0 4v5m0 3v1m0 2v1m0 10v13m1-90v4m0 1v5m0 3v2m0 39v2m0 2v4m0 4v1m0 4v1m0 7v6m0 2v3m1-87v2m0 79v7m0 3v2m1-97v4m0 1v1m0 47v1m0 29v1m0 6v2m0 2v2m1-85v1m0 2v3m0 3v2m0 23v1m0 4v1m0 1v4m0 4v2m0 4v2m0 1v1m0 1v2m0 3v3m1-78v5m0 3v5m0 2v2m0 28v3m0 6v4m0 13v9m0 2v2m0 3v1m0 4v1m1-82v2m0 7v1m0 18v1m0 5v2m0 2v1m0 2v1m0 1v3m0 2v5m0 1v1m0 4v1m0 1v12m0 2v2m1-78v2m0 7v1m0 19v3m0 3v4m1-51v2m0 4v2m0 85v4m1-99v2m0 3v2m0 93v1m1-93v3m0 3v3m0 55v1m0 17v2m1-86v4m0 4v2m0 24v2m0 7v3m0 11v2m0 12v1m0 4v1m0 1v2m0 3v7m1-80v2m0 25v2m0 2v2m0 2v1m1-37v3m0 30v2m1-35v3m0 2v2m0 21v5m0 3v1m1-34v2m0 1v2m0 24v2m0 1v3m1-39v6m0 4v1m0 4v3m0 16v4m1-37v5m0 31v1m1-37v3m0 4v1m0 7v1m0 20v3m1-34v1m0 26v2m0 1v1"/><path stroke="#e2edf8" d="M272.5 37v3m0 5v2m0 5v1m0 9v4m0 4v4m0 7v2m1-45v1m0 2v1m0 7v2m0 1v1m1-12v5m0 5v2m0 6v2m0 4v3m0 4v1m1-31v4m0 4v1m0 21v1m1-28v5m0 1v1m0 15v5m1-31v3m0 14v1m0 13v1m1-37v6m0 28v1m1-30v2m0 14v3m0 9v1m0 2v1m1-26v1m0 15v2m1-15v1m0 7v2m0 3v3m0 4v3m1-36v2m0 2v1m0 9v1m0 1v1m0 3v2m0 8v5m1-35v2m0 1v1m0 31v4m1-32v1m0 3v1m0 18v1m0 2v1m1-29v1m0 16v2m0 2v1m1-15v1m0 9v4m0 6v1m1-28v1m0 25v1m1-24v4m0 4v1m0 2v4m0 2v2m0 1v2m1-24v4m0 21v1m0 2v7m1-35v2m0 17v3m0 2v2m0 1v3m0 2v1m0 4v1m0 8v2m1-51v2m0 1v1m0 26v5m0 2v1m0 6v4m1-46v2m0 1v1m0 3v3m0 19v4m0 4v2m1-34v4m0 2v3m0 1v3m0 1v2m1-18v4m0 1v1m0 1v2m0 4v1m0 2v4m1-19v7m0 1v2m0 20v1m1-36v2m0 3v2m0 1v3m0 8v2m0 5v1m0 5v2m1-28v3m0 1v1m0 4v6m0 7v1m1-23v1m0 3v3m0 3v1m0 10v1m1-21v1m0 3v1m0 1v3m0 8v1m0 1v3m0 4v1m0 2v1m0 1v3m1-40v1m0 5v5m0 18v1m1-26v3m0 4v2m0 7v2m0 9v4m1-32v9m0 14v8m0 1v2m1-9v3m0 3v2m0 3v1m1-33v1m0 1v1m0 2v4m0 4v1m0 3v1m1-17v1m0 36v1m0 4v1m0 4v3m1-27v2m1-23v1m0 3v2m0 18v2m0 7v1m1-32v2m0 18v1m0 5v1m1-21v1m0 1v1m0 18v2m1-26v6m0 5v7m0 5v1m1-26v3m0 13v1m0 7v3m1-22v3m0 3v1m0 4v2m0 3v5m0 1v1m0 2v2m0 1v1m1-31v1m0 16v3m0 1v2m1-23v2m0 4v1m0 3v5m0 2v4m0 4v1m1-33v7m0 26v1m0 2v4m1-31v1m0 31v1m1-18v3m0 4v4m0 2v1m1-29v4m0 20v2m1-30v5m0 27v1m1-14v1m0 3v1m0 5v2m1-27v4m0 38v1m1-38v2m0 1v2m1-10v2m0 17v1m0 4v1m0 6v2m1-30v2m0 13v3m0 5v1m0 2v2m1-17v1m0 12v1m0 2v3m1-15v2m0 4v4m0 1v1m0 3v2m0 1v2m1-27v1m0 4v3m0 9v2m0 4v2m1-25v1m0 14v2m0 11v1m1-35v1m0 27v3m0 4v1m1-30v1m0 12v4m0 5v1m0 2v1m0 2v4m1-32v2m0 2v2m0 7v1m0 4v2m0 1v2m1-22v2m0 3v2m0 7v3m0 5v1m0 5v6m1-34v1m0 26v6m1-35v4m0 3v1m0 9v4m0 2v1m0 4v1m1-28v1m0 7v2m0 12v1m0 2v3m1-25v3m0 13v3m0 2v2m0 1v1m1-27v1m0 3v1m0 27v2m0 1v2m1-39v2m0 39v2m1-37v1m0 21v3m1-29v1m0 3v1m0 1v4m0 5v1m0 14v1m0 3v1m0 4v3m1-37v1m0 3v1m0 13v1m0 9v2m1-33v4m0 1v2m0 25v3m1-29v3m0 3v1m0 4v6m1-19v1m0 6v1m0 21v2m1-39v4m0 4v2m0 30v1m0 1v2m1-30v1m0 8v4m0 5v1m1-28v4m0 2v2m0 2v1m0 8v1m0 6v1m0 4v1m0 9v3m1-41v3m0 1v1m0 1v1m0 6v1m0 13v6m1-30v2m0 3v3m0 8v3m0 1v2m0 2v1m1-27v4m0 27v1m1-29v3m0 7v1m0 3v2m0 6v8m1-28v1m0 4v2m0 1v8m0 3v1m0 2v1m1-24v3m0 16v2m0 2v1m1-20v2m0 16v2m1-18v2m0 1v1m0 2v1m0 6v1m0 1v5m1-26v4m0 2v1m0 26v5m1-41v2m0 1v1m0 22v1m1-28v5m0 5v1m0 14v1m0 3v4m0 2v2m1-35v6m0 24v2m1-25v1m0 2v2m0 3v8m0 5v3m1-29v1m0 21v5m1-29v3m0 5v1m0 2v2m0 3v7m0 4v3m1-23v3m0 2v1m0 3v2m1-52v5m0 2v3m0 4v6m0 3v2m0 8v3m0 5v5m0 13v1m0 2v1m0 1v1m0 5v1m0 2v2m1-83v5m0 4v1m0 2v1m0 1v2m0 2v3m0 2v1m0 4v3m0 5v1m0 4v1m0 2v1m0 3v3m0 1v4m0 19v1m1-77v4m0 1v1m0 5v1m0 1v1m0 1v1m0 4v3m0 8v1m0 7v1m0 2v1m0 5v3m0 7v1m0 18v1m0 2v3m0 1v1m0 1v1m1-32v1m0 9v1m1-52v2m0 13v1m0 3v3m0 10v2m0 7v3m0 5v2m0 1v3m0 2v1m1-54v3m0 4v1m0 20v2m0 7v1m0 14v2m1-70v2m0 6v2m0 8v2m0 1v3m0 1v3m0 6v2m0 3v3m0 4v2m0 2v1m0 1v1m0 11v1m0 7v4m1-74v3m0 7v1m0 1v4m0 2v1m0 4v4m0 1v2m0 2v5m0 5v1m0 2v3m0 2v3m0 13v2m0 7v1m1-69v4m0 1v1m0 9v6m0 10v6m0 10v1m0 8v2m1-67v2m0 13v1m0 2v2m0 2v4m0 1v3m0 18v6m0 2v1m0 5v2m0 1v3m1-13v1m0 6v4m1-61v2m0 14v1m0 2v1m0 2v3m0 3v1m0 2v2m0 2v1m0 3v1m0 9v1m0 3v1m0 1v4m0 5v4m0 3v2m1-64v1m0 15v3m0 22v2m0 8v3m1-50v2m0 1v3m0 29v1m0 11v1m1-62v4m0 1v1m0 6v3m0 3v1m0 4v3m0 2v3m0 2v1m0 2v2m0 11v3m0 17v6m1-78v2m0 6v3m0 19v2m0 1v5m0 4v2m0 2v5m0 16v2m0 4v5m1-80v1m0 3v12m0 1v5m0 6v6m0 2v1m0 5v1m0 4v4m0 2v2m0 1v1m0 8v4m0 3v5m1-59v2m0 2v1m0 2v4m0 26v3m0 6v4m1-56v2m0 3v1m0 4v1m0 6v1m0 3v2m0 23v1m0 7v1m1-69v1m0 2v2m0 1v2m0 6v3m0 1v1m0 36v1m0 15v3m0 1v1m0 5v5m0 2v1m1-65v6m0 4v1m0 3v2m0 7v2m0 2v2m0 6v1m0 9v5m1-75v6m0 10v1m0 8v1m0 3v1m0 3v3m0 3v1m0 8v1m0 3v3m0 1v1m0 3v1m0 9v4m0 1v3m0 10v1m1-88v4m0 4v1m0 12v1m0 2v1m0 10v1m0 11v1m0 4v8m0 12v1m0 2v3m0 2v2m0 3v1m1-85v1m0 1v1m0 2v1m0 10v2m0 32v2m0 5v2m0 20v5m1-70v1m0 3v1m0 1v1m0 2v1m0 11v1m0 2v1m0 2v1m0 13v2m0 8v2m1-52v3m0 3v1m0 2v2m0 1v1m0 3v2m0 21v3m0 3v2m0 6v1m1-57v3m0 3v4m0 2v4m0 2v1m0 12v2m0 11v1m0 7v1m0 5v2m1-69v2m0 3v2m0 2v2m0 1v7m0 1v1m0 2v1m0 1v2m0 2v6m0 4v1m0 2v1m0 3v2m0 2v1m0 4v1m0 8v5m1-58v2m0 1v1m0 9v1m0 7v7m0 4v3m0 7v5m0 7v3m0 4v1m0 3v4m1-83v3m0 8v4m0 19v1m0 8v1m0 2v7m0 1v1m0 17v2m1-58v2m0 1v1m0 7v3m0 1v1m0 2v1m0 4v2m0 3v2m0 10v2m0 7v1m0 4v2m1-59v1m0 16v2m0 6v3m0 2v4m0 3v2m0 1v5m0 5v6m1-76v2m0 9v5m0 8v3m0 3v1m0 2v3m0 2v1m0 1v2m0 1v1m0 3v2m0 2v4m0 5v3m0 4v7m1-64v3m0 2v2m0 2v7m0 21v7m0 8v1m0 2v1m0 4v1m0 2v1m0 3v1m0 7v2m1-82v2m0 10v3m0 10v1m0 3v1m0 27v1m0 12v4m0 4v1m0 7v3m1-89v1m0 6v2m0 8v2m0 8v2m0 15v3m0 1v1m0 15v2m0 3v2m0 2v4m0 1v1m0 3v1m0 3v2m1-82v2m0 3v1m0 1v1m0 3v1m0 3v2m0 11v2m0 1v2m0 1v1m0 2v1m0 12v4m0 4v1m1-57v2m0 2v1m0 7v3m0 16v1m0 3v2m0 3v1m0 4v1m0 6v2m0 3v1m0 9v2m0 2v3m1-74v4m0 2v1m0 1v2m0 2v1m0 7v1m0 4v1m0 1v2m0 2v1m0 5v2m0 5v2m0 7v4m0 1v1m1-60v1m0 25v1m1-33v1m0 6v6m0 24v2m0 12v2m0 15v2m0 10v5m1-93v3m0 2v1m0 4v3m0 48v1m0 22v1m0 11v2m1-89v3m0 3v3m0 19v3m0 9v1m0 6v5m0 7v2m0 1v10m0 2v5m1-80v1m0 2v1m0 2v2m0 16v2m0 3v1m0 2v1m0 4v2m0 3v2m0 5v1m0 5v1m0 4v6m0 2v1m0 2v1m0 4v3m1-71v1m0 4v2m0 4v1m0 4v2m0 2v5m0 2v2m0 2v2m1-33v1m0 17v1m0 4v2m0 4v1m1-30v2m0 2v4m0 16v1m0 5v3m1-31v1m0 2v1m0 18v5m1-27v4m0 1v1m0 11v2m0 8v1m1-28v2m0 17v1m0 9v2m1-33v1m0 2v1m0 1v1m0 5v1m0 20v1m1-30v1m0 24v1m0 2v1"/><path stroke="#d4e4f4" d="M272.5 40v1m0 2v2m0 2v1m0 2v1m1-12v2m0 1v2m0 9v1m0 3v1m1-12v5m0 2v1m0 3v2m0 2v2m0 1v1m0 3v2m0 1v1m1-7v1m0 4v2m1-20v1m1-4v1m0 5v1m0 1v1m0 2v1m0 10v1m1-30v1m0 12v1m0 13v1m1-27v2m0 2v1m0 4v1m0 14v1m0 2v2m1-16v7m1-12v1m0 2v1m0 5v3m1-24v2m0 1v1m0 13v1m1-16v1m0 29v1m1-27v3m0 1v1m0 25v4m1-36v1m0 2v5m0 2v1m0 7v2m0 1v3m1-24v1m0 7v1m0 6v1m0 4v6m1-26v1m0 20v1m0 2v1m1-14v2m0 4v2m0 2v1m1-4v1m0 5v1m1-23v1m0 3v8m0 4v1m0 3v2m1-25v1m0 24v1m0 7v2m1-31v1m0 5v1m0 8v1m0 8v1m0 4v1m0 2v1m1-28v2m1 1v1m1 1v2m0 6v1m1-17v1m0 3v1m0 11v1m0 3v1m0 3v1m1-18v1m0 6v1m0 5v1m1-21v3m0 7v5m1-6v1m0 6v1m0 8v1m0 4v1m2-30v4m0 2v1m0 16v1m1-19v1m0 12v1m1-21v1m0 21v1m0 3v3m0 2v3m1-31v1m0 12v3m0 1v1m0 2v1m1 10v2m0 3v1m0 1v1m1-41v1m0 16v1m0 6v1m0 5v1m1-21v1m0 4v2m0 5v6m1-20v1m0 4v1m0 6v4m0 1v1m0 1v2m0 1v2m1-17v1m0 14v3m1-18v1m0 3v1m1 4v1m0 2v4m1-16v3m0 15v1m0 5v1m1-29v1m0 3v7m0 3v2m0 3v1m1-14v1m0 1v1m0 5v2m0 4v1m1-22v2m1 1v1m2 11v2m0 6v3m1-23v1m0 2v2m0 2v2m0 8v2m0 7v1m1-12v3m0 1v1m0 2v1m1-20v1m0 16v3m0 5v1m0 3v1m1-27v1m0 2v3m0 16v2m0 3v1m1-17v1m0 1v1m0 4v1m0 4v1m1-26v1m0 15v1m0 3v1m1-11v1m0 2v1m0 6v1m0 2v2m1-16v1m0 2v1m0 5v1m0 6v1m0 1v1m1-21v1m0 2v1m0 11v1m0 2v4m1-6v1m1-23v1m0 25v1m0 3v1m0 2v1m1-25v1m0 3v5m0 4v2m0 2v1m0 4v2m1-26v2m0 2v1m0 5v1m0 1v4m0 2v1m1-7v1m0 6v1m0 2v5m1-27v2m0 19v3m0 1v1m1-13v1m0 4v2m0 2v3m1-26v2m0 7v2m1-6v2m0 5v1m0 8v2m0 2v1m1-21v1m0 13v2m0 3v2m0 3v3m0 2v1m1-35v1m0 25v2m0 5v1m0 4v1m1-34v2m0 3v3m0 12v1m1-21v1m0 4v1m0 6v1m0 11v1m1-24v3m0 6v5m1-14v1m0 2v1m0 23v1m1-23v3m0 1v1m1-9v1m0 4v1m0 13v1m0 4v4m1 2v1m0 1v1m1-27v1m0 15v1m1-23v2m0 5v1m0 6v1m0 1v1m0 13v1m1-29v1m0 10v1m0 6v2m0 3v1m1-22v3m0 3v1m0 10v1m1-18v1m0 23v3m1-25v1m0 3v1m0 3v1m0 1v1m0 2v1m0 1v1m1-16v4m0 2v1m0 8v1m0 1v1m1-17v1m0 5v3m0 3v1m0 5v2m1-17v2m0 4v1m0 4v1m1-10v1m0 4v6m1-12v3m0 20v3m1-30v1m0 1v1m0 13v4m1-16v1m0 2v1m0 9v1m0 1v1m0 1v1m1-21v1m0 17v1m1-13v3m1-12v1m0 8v2m0 5v2m0 1v2m1-21v1m0 3v1m0 5v3m1-3v3m1 8v1m0 1v2m0 3v2m1-70v1m0 2v1m0 4v1m0 2v2m0 13v1m0 3v1m0 2v1m0 6v3m0 3v1m0 4v1m0 15v1m1-68v2m0 6v1m0 1v4m0 3v1m0 1v2m0 2v2m0 1v1m0 5v1m0 4v1m0 1v1m0 9v1m0 3v1m0 6v2m0 3v1m0 13v1m1-24v3m3-43v1m0 9v1m0 2v1m0 14v2m0 7v1m0 5v1m1-51v1m0 4v2m0 9v1m0 15v2m0 3v2m0 3v2m0 8v3m0 6v1m0 1v1m1-13v1m1-49v2m0 39v1m0 3v1m1-6v6m1-40v2m0 10v2m0 2v2m0 15v1m0 1v1m0 9v1m1-45v2m0 4v1m0 27v1m0 6v1m1-45v1m0 33v1m0 7v3m1-55v1m0 4v1m0 3v1m0 1v1m0 1v1m0 2v1m0 11v2m0 16v1m0 11v1m0 3v1m1-70v3m0 2v1m0 3v1m0 9v2m0 6v1m0 8v4m0 9v6m0 12v1m0 2v1m1-74v3m0 18v1m0 14v1m0 13v2m0 11v1m1-42v2m0 33v1m0 4v1m1-50v3m0 6v1m0 4v1m1-30v2m0 14v1m0 1v1m0 11v4m0 10v1m0 4v2m0 12v1m0 9v1m0 1v1m0 9v2m1-55v1m0 34v1m1-53v1m0 1v2m0 3v1m0 7v1m0 7v1m0 8v3m0 5v1m0 1v1m0 9v1m1-60v5m0 11v5m0 3v2m0 1v1m0 9v1m0 4v1m0 8v1m0 21v3m1-83v1m0 9v1m0 6v1m0 12v2m0 7v2m0 10v1m0 3v1m0 2v1m0 11v1m0 2v2m0 2v1m1-64v3m0 3v1m0 5v1m0 6v1m0 4v2m0 16v3m0 4v1m1-43v2m0 33v3m0 2v4m1-38v2m0 27v1m0 2v4m0 1v2m0 1v2m1-56v1m0 9v2m0 4v2m0 11v2m0 9v4m0 8v1m1-49v1m0 7v1m0 1v1m0 5v1m0 14v1m0 1v5m0 5v1m0 5v1m0 3v1m0 2v1m0 1v3m1-64v2m0 18v1m0 6v1m0 12v4m0 9v1m0 2v1m1-54v1m0 13v2m0 4v1m0 19v2m0 4v1m1-51v1m0 3v2m0 8v2m0 2v3m0 1v2m0 20v1m0 2v2m1-39v2m0 6v1m0 4v3m0 27v3m1-60v2m0 19v2m0 23v2m0 2v3m1-50v1m0 8v1m0 1v1m0 19v6m0 3v2m0 1v1m0 7v1m0 2v1m0 4v1m0 2v1m1-77v1m0 4v1m0 2v1m0 6v1m0 9v1m0 2v3m0 10v2m0 5v4m0 7v1m0 5v3m0 2v2m0 6v3m1-70v1m0 5v1m0 4v1m0 6v4m0 2v1m0 4v2m1-30v4m0 2v1m0 3v3m0 19v3m0 6v2m0 1v3m1-48v2m0 4v2m0 1v1m0 7v1m0 2v1m0 4v2m1-31v2m0 3v1m0 1v1m0 13v1m0 2v1m1-31v4m0 1v1m0 14v1m0 38v1m0 9v1m0 8v1m1-79v1m0 3v1m0 32v1m0 15v1m0 5v2m0 3v2m0 10v1m0 8v2m1-78v1m0 3v4m0 1v2m0 19v1m0 1v1m0 2v3m0 5v4m0 16v2m1-74v2m0 5v1m0 6v2m0 9v1m0 6v1m0 10v5m0 7v4m0 9v2m1-62v1m0 2v1m0 5v1m0 1v1m0 2v1m0 2v2m1-19v4m0 14v1m0 8v1m1-21v3m0 4v2m1-11v1m1 3v1m0 3v1m0 3v1m0 5v5m1-25v2m0 6v1m0 9v2m0 6v1m1-30v2m0 3v1m0 6v1m0 17v1m1-28v2m0 20v2"/><path stroke="#c6dbef" d="M272.5 41v2m0 18v1m1-18v1m0 11v1m1 6v1m0 6v1m1-13v1m0 5v1m0 1v1m0 2v1m1-17v1m0 12v1m1-17v1m0 2v2m0 1v1m0 9v5m1-28v2m1 0v2m0 1v1m0 14v2m1-17v1m0 6v1m1-4v2m0 1v3m1-15v1m0 10v2m0 3v1m1 10v1m1 0v1m0 2v1m1-31v2m0 5v2m0 5v1m1-11v1m0 8v1m1-14v1m0 20v2m2-20v1m0 1v3m0 10v1m0 3v1m1-21v1m0 1v1m0 8v1m1-14v1m0 3v1m1-2v2m0 4v3m0 13v1m0 6v2m2-23v3m1 7v1m0 9v1m1-23v1m0 5v1m0 2v2m0 5v3m1-20v1m0 14v1m1-14v3m0 10v1m1-8v2m0 8v1m1-18v1m0 7v1m1-6v1m0 7v5m0 2v1m1-14v1m0 1v1m0 4v2m1-19v1m0 12v4m0 3v1m1-1v2m1-19v1m0 3v2m0 28v1m0 3v1m0 1v1m1-26v1m0 8v1m1-23v1m0 1v1m0 3v1m0 2v1m0 2v1m0 2v2m1-13v1m0 2v1m0 6v1m0 4v1m0 4v1m1-7v1m0 2v2m0 1v1m1-14v3m1-9v1m0 5v1m0 8v2m2-15v1m0 1v1m0 7v3m1-7v1m0 13v3m1-18v1m0 17v1m1-17v2m0 22v1m2-28v1m0 2v1m0 4v1m0 7v1m1-19v2m0 2v2m0 9v1m0 2v1m0 5v1m1-5v1m1-18v1m0 7v1m0 6v1m0 3v1m0 3v1m0 1v3m1-11v2m0 4v1m0 2v3m1-11v1m1-2v3m1-9v2m0 1v3m1-7v2m0 3v1m0 1v1m0 8v1m1-19v2m0 4v1m0 5v2m1-15v1m0 12v1m0 12v1m1-32v4m0 26v2m1-21v1m0 11v2m1-14v2m0 2v1m1 0v2m0 4v1m0 1v1m1-17v1m0 2v1m0 4v1m0 13v1m1-20v1m1-5v2m0 2v1m0 13v1m1-14v3m0 1v1m0 1v1m0 3v1m1 5v1m0 2v3m1-28v3m0 27v2m0 1v1m0 2v1m1-31v3m0 8v1m0 5v1m1-5v4m0 4v1m1-19v1m0 3v1m0 5v3m1 9v1m1-15v1m1-11v1m0 2v1m0 13v1m0 4v1m1-23v1m0 27v1m1-23v4m0 2v1m0 4v1m1-2v1m0 3v1m0 6v2m1-19v1m0 2v3m0 1v2m0 2v1m1-12v3m0 3v1m2-11v1m0 7v1m0 4v1m1 1v1m1-15v1m0 7v3m0 1v1m1-6v1m0 1v1m0 2v1m2-7v1m1-10v2m0 5v2m0 3v2m0 3v1m1-18v1m0 6v2m0 13v1m3-22v1m0 9v1m0 6v1m3 11v3m1-72v2m0 24v3m0 4v2m0 26v2m0 2v1m1-65v3m0 13v1m0 2v2m0 8v1m0 6v1m0 6v1m0 16v3m0 1v2m0 2v1m1-21v1m2-1v1m0 8v1m0 3v1m1-12v1m0 5v1m1-6v1m0 5v2m0 10v1m1-13v1m1-6v3m2-5v1m1-42v1m0 6v1m1 32v1m0 5v1m1-51v1m0 8v1m0 3v2m0 31v1m0 3v1m0 5v1m0 1v3m1-66v2m0 9v1m0 11v1m0 37v1m0 3v2m1-51v1m0 3v1m0 10v1m0 2v1m0 15v1m0 5v1m1-2v1m1-36v1m0 31v1m0 1v1m1-56v1m0 4v1m0 25v2m0 3v1m0 18v1m0 5v2m0 9v1m1-51v1m0 29v1m0 6v1m1-51v1m0 2v3m0 6v2m0 9v3m0 3v1m0 10v1m0 2v1m0 3v1m0 2v1m1-51v2m0 11v1m0 10v5m0 2v1m0 22v1m1-65v1m0 2v2m0 1v1m0 2v1m0 3v4m0 2v3m0 5v1m0 1v2m0 5v1m0 2v1m0 3v1m0 3v1m0 6v1m0 11v2m0 2v2m1-56v1m0 8v1m0 28v1m0 1v2m1 2v2m1-10v2m0 7v1m1-3v1m1-47v2m0 3v2m0 3v5m0 8v1m0 2v1m0 4v1m0 21v2m1-57v1m0 18v1m0 22v1m0 3v1m0 3v1m0 1v2m1-51v1m0 5v1m0 8v3m1-23v3m0 2v1m0 5v2m0 7v1m0 23v2m2-42v2m0 2v1m0 9v7m0 27v1m0 1v1m1-70v2m0 12v1m0 10v2m0 1v1m0 14v1m0 6v3m0 10v1m0 1v2m0 6v2m1-72v1m0 7v3m0 9v1m0 6v1m0 5v2m0 1v1m0 11v1m0 1v5m0 1v1m0 1v1m1-45v2m1-4v2m0 7v5m0 1v2m0 4v1m0 17v1m0 5v3m1-43v1m0 7v1m1-21v3m0 15v1m0 1v2m1-26v1m0 47v1m0 4v2m0 16v3m1-81v1m0 7v1m0 30v1m0 1v1m0 9v1m0 12v3m0 10v1m0 6v4m1-75v3m0 4v1m0 2v1m0 6v1m0 3v3m0 8v2m0 12v3m1-51v6m0 2v1m0 5v1m0 4v1m0 7v1m1-27v2m0 3v3m0 3v2m1-10v1m0 2v1m0 13v1m0 2v1m1-15v1m0 5v1m0 4v2m1-1v1m1-16v2m0 7v1m0 3v1m0 1v1m1-18v3m0 1v2m0 12v1m0 2v3m1-23v1m0 2v1m0 16v2m1-23v2m0 3v2m0 3v1m0 8v1"/><path stroke="#afd1e7" d="M272.5 48v2m0 3v1m1 0v2m1-2v1m0 1v1m1-6v1m0 5v1m0 1v1m0 7v2m1-6v2m1-14v2m0 8v1m1-17v1m0 8v1m0 1v1m0 7v1m0 3v1m1-18v1m0 4v1m0 3v1m0 5v1m1-18v2m2-7v1m0 5v1m0 11v3m0 1v1m1-25v1m0 9v1m0 12v1m0 3v1m1-12v1m0 7v1m0 6v1m1-20v1m1-8v1m0 4v1m1-8v1m0 4v1m2-3v1m0 4v3m1-9v1m0 10v1m0 1v1m1-14v1m0 8v1m0 2v2m0 4v2m1-11v1m0 3v1m0 1v1m0 5v1m3 0v2m1-17v2m0 2v1m1-6v2m0 8v1m0 2v1m1-4v4m1-18v1m0 1v1m0 6v2m0 2v2m0 7v2m1-16v1m0 12v1m1-14v1m0 11v2m1-16v1m0 1v1m0 1v1m0 1v1m1 3v1m0 1v1m2-16v1m0 1v1m0 2v1m0 22v1m0 2v2m0 5v1m1-27v1m0 2v1m0 9v1m1-24v1m0 5v2m0 4v2m1-10v2m0 2v1m0 3v1m1-1v1m0 5v2m0 2v1m2-18v1m0 5v1m0 4v1m2-10v1m2-2v1m0 5v1m0 15v1m1-21v1m0 3v1m0 9v2m2-13v2m0 1v1m0 10v1m1-10v1m0 14v1m1-5v1m1-3v1m0 5v3m1-15v1m0 10v1m1-23v1m0 14v1m0 3v2m0 3v1m0 2v1m1-24v1m0 2v4m0 3v1m1 5v1m1-2v1m1-2v1m0 3v1m1-12v1m0 15v2m1-20v2m0 4v2m1-3v2m1 2v2m1-3v1m0 10v1m1-15v2m2-2v2m0 5v1m1-2v1m1-5v1m0 6v2m0 3v1m0 2v1m1-18v1m0 23v3m0 5v1m1-24v1m0 3v1m0 5v1m1-6v2m0 4v1m0 2v1m2-18v1m0 20v1m1-16v2m1-9v2m0 3v1m0 12v1m1-26v1m0 2v1m0 28v2m1-18v2m0 6v1m0 1v1m1-4v1m1-2v1m0 5v2m1-11v1m1-10v1m0 3v1m3-1v2m0 1v1m0 9v1m1-11v3m0 3v1m2-4v2m1-7v2m0 4v1m0 4v1m1-7v1m0 7v1m1-15v1m0 15v1m2-9v4m1-15v1m0 1v1m2 5v1m0 10v1m1-42v1m0 2v1m0 41v2m1 2v2m3-14v3m0 1v3m1-36v2m0 20v1m0 4v1m1-1v1m1-2v1m0 4v1m3 1v1m0 1v1m1-46v1m0 40v2m1-8v1m0 3v1m1-49v1m0 1v1m0 47v1m1-50v1m0 2v1m0 7v1m0 33v1m0 7v1m1-42v1m0 12v2m0 21v1m1-4v1m1-36v1m0 1v1m0 33v1m0 1v1m1-24v1m0 17v1m0 17v1m1-46v1m1 32v2m1-53v1m0 4v2m0 10v2m0 7v1m0 9v1m0 10v1m0 2v2m1-58v2m0 4v2m0 8v2m0 3v3m0 3v1m0 2v3m0 3v2m0 10v1m0 5v1m0 8v1m1-43v1m0 1v1m0 1v2m0 27v1m3-3v1m1-39v1m1-4v1m0 10v1m0 3v1m0 3v1m0 3v1m0 20v1m0 1v1m0 1v1m1-4v1m1-39v1m2-5v2m0 45v1m1-67v4m0 3v1m0 11v1m0 35v1m0 3v2m1-63v1m0 7v1m0 1v1m0 6v1m0 3v2m0 8v1m0 3v1m0 2v1m0 13v1m0 7v1m1-34v1m1 1v1m0 2v1m1-12v1m0 3v1m0 3v1m1-16v1m1 20v1m0 20v1m0 3v1m0 5v1m1-68v1m0 6v4m0 29v1m0 9v1m0 1v1m0 6v1m0 7v1m2-41v1m0 6v2m2-22v2m0 9v1m0 2v1m0 5v2m1-16v1m0 1v1m0 6v1m2-7v2m0 5v1m1-14v1m0 3v1m0 2v1m0 8v2m1-19v1m0 20v2m1-18v1m0 1v1m0 1v1"/><path stroke="#97c6df" d="M272.5 55v1m0 4v1m1-13v1m1 6v1m2-2v1m0 10v1m1-1v1m1-20v1m0 12v2m0 4v1m1-17v2m0 2v1m0 8v1m0 2v1m1-15v1m2-7v3m0 12v2m0 3v1m1-23v1m0 9v1m1 9v1m0 8v1m1-16v1m1-14v1m0 11v1m1-11v2m0 1v1m0 1v4m0 1v1m0 6v1m2-12v1m0 3v1m0 6v1m0 1v1m1-7v1m1-15v1m0 3v3m0 3v1m0 1v2m0 2v1m0 1v2m1-8v1m0 1v1m3-2v1m0 4v1m0 2v1m0 1v1m0 2v1m0 2v1m1-19v2m1 7v1m2-16v1m1 3v1m0 1v1m0 1v1m0 1v1m0 1v1m1-2v1m1-6v1m0 5v1m0 1v1m1 1v1m2-14v1m0 4v1m0 18v1m1-29v1m0 21v1m0 4v1m3-13v1m0 5v1m2-11v1m4 3v1m0 15v2m1-17v1m0 15v1m0 3v2m0 3v1m2-22v3m0 6v1m1 2v1m0 2v1m2-19v1m0 1v2m2-5v1m0 21v2m1-22v2m0 4v1m1 9v2m3 6v1m0 5v1m1-7v1m3-10v1m1 1v1m0 8v1m1-15v1m1 7v2m0 2v1m2-13v1m0 7v1m0 6v1m1-18v1m0 19v1m0 9v1m2-25v1m0 13v2m1-16v3m1-3v2m0 16v2m2-7v1m0 4v1m1-21v1m0 23v1m1-7v1m1-8v1m0 5v2m1-15v1m1 8v2m1-11v3m0 18v1m1-20v2m2 1v1m0 9v1m1-3v1m3-1v1m1 2v1m1-13v1m0 6v1m0 3v4m2-18v1m0 3v1m0 1v1m1-7v1m2 14v3m1-8v1m0 2v1m0 5v1m1-16v1m0 1v1m0 5v1m0 4v1m1-9v1m0 3v1m2-1v1m1-1v1m0 1v1m2-4v1m3 6v1m1-50v1m0 8v1m0 32v1m2-46v1m0 44v1m0 1v1m0 2v1m0 2v1m1-39v1m0 35v1m1-42v1m0 33v1m0 2v1m1-2v2m1-37v1m0 39v1m1-59v1m0 2v1m0 17v1m0 4v1m0 6v2m0 2v1m0 2v1m0 2v1m0 1v1m1-24v1m0 29v2m1-20v1m0 19v1m1-49v2m0 32v1m0 13v1m0 2v1m0 3v1m1-24v1m0 7v1m0 7v4m1-37v1m3 34v1m1-43v2m0 19v2m1-26v1m0 8v1m0 9v3m0 24v1m1-45v5m0 34v1m1-40v1m0 2v1m2-1v1m1-5v1m0 8v1m0 1v2m0 3v3m0 20v2m1-60v2m0 6v1m0 22v1m2 2v1m2-21v2m0 8v1m1-14v1m0 8v1m0 3v1m0 12v1m0 14v3m0 6v3m0 5v1m0 3v1m1-77v1m0 14v1m0 10v1m0 10v1m0 4v1m0 6v1m0 2v1m0 16v1m0 9v1m0 2v1m1-55v1m0 7v1m0 3v1m3-11v1m1-9v1m1-7v1m0 14v1m2-3v1m1-12v1m0 16v1m1-19v1m0 1v1m0 3v1m0 9v1"/><path stroke="#7ab6d9" d="M272.5 56v1m3 6v1m1-3v2m1 1v1m1-8v1m1 3v1m1-8v1m2-7v1m1 15v1m0 1v1m0 1v1m1-16v1m0 10v2m1-11v1m1-10v1m0 6v1m1-6v1m0 6v1m2 8v1m2-19v1m0 5v3m0 7v1m1-5v1m0 4v1m0 3v1m3-9v1m0 7v1m0 4v2m2-10v1m3-10v1m0 3v1m0 6v1m2-4v1m3-5v2m0 15v1m0 1v2m1-20v1m0 7v1m2-6v1m0 1v1m1-1v1m0 1v1m7-5v2m0 8v1m0 13v1m2-13v1m1-5v1m0 4v1m2-10v1m0 2v1m0 1v1m1 12v1m0 1v1m6-14v1m0 9v1m0 7v2m0 1v2m1-10v2m5-9v1m0 4v1m1 0v1m0 2v2m1-5v1m1-3v1m0 3v2m2-4v1m0 4v1m1-6v1m2-2v1m0 14v1m2-1v1m1-26v2m0 24v1m2-15v1m1 1v1m2 9v1m6 12v1m1-20v2m0 4v1m1-12v1m0 6v1m1-2v2m2-7v1m0 1v1m3 8v1m1-3v1m1-28v1m0 2v1m1 21v1m3-2v1m0 4v1m2-2v3m4-1v1m1-5v1m1 1v1m0 5v1m1-52v2m0 5v1m0 3v1m0 39v1m1-42v1m3-8v1m0 17v1m0 39v2m2-19v1m1-25v1m0 1v1m0 22v1m0 4v1m1-19v1m0 17v2m0 1v1m5-4v1m1-47v1m0 5v2m0 32v2m1 0v1m4-57v1m0 23v1m0 4v1m0 3v1m0 18v1m1-39v1m0 12v2m1-13v1m0 3v1m3-6v4m1-6v1m0 25v1m0 15v1m0 3v1m1-56v1m0 1v1m0 10v1m0 17v1m0 3v2m0 7v1m0 2v1m1-37v1m1-5v1m0 3v1m2-6v1m1 10v1m1-2v1m2-6v2m2-7v1m0 8v1m0 3v2"/><path stroke="#5fa6d1" d="M272.5 54v1m0 2v1m0 1v1m3-8v1m0 3v1m0 3v1m2 1v1m1-5v1m0 4v1m0 2v2m2-16v1m2-4v1m1 1v1m0 11v1m1-5v1m0 2v1m1-7v1m1-12v1m0 9v1m9 4v1m5 2v1m0 1v1m0 1v1m0 1v1m3-21v1m0 10v1m2 0v1m0 13v1m1-26v2m0 7v1m2 4v1m3-4v1m0 1v1m0 2v1m0 2v1m4 9v1m1-11v1m0 5v1m0 2v1m0 1v1m0 1v1m0 1v1m0 3v2m2-13v1m1-6v1m0 9v2m2-10v1m1-1v1m0 11v1m1-24v2m0 1v1m1 7v1m3 6v1m0 1v1m1-9v1m0 18v1m1-22v1m0 5v1m0 9v2m3-11v1m1 4v1m1-5v1m1 2v1m1 3v1m1-9v1m1 2v1m1 3v2m0 5v1m3-9v2m0 11v1m5-12v4m9 15v1m2-8v1m3-14v2m4-24v1m0 31v1m0 2v1m0 1v3m1-14v1m0 7v1m1-3v2m2-4v1m1-2v1m6-35v1m0 7v1m1 29v2m1 4v1m1-47v1m0 40v1m0 3v1m1-6v2m2 2v1m1-56v2m0 10v2m0 29v1m1 9v1m1-20v2m0 16v1m1 5v2m1-22v1m0 20v1m4-6v1m3-3v1m1-40v2m2 6v1m1-24v2m0 6v1m0 17v2m0 7v1m1-25v1m1 6v1m1 7v2m1-13v1m1-6v1m1 6v1m1-14v1m0 6v1m0 1v1m0 52v1m4-57v1m1 7v1m1-8v1m0 6v1m0 1v2m3-1v1"/><path stroke="#4896c8" d="M273.5 45v1m3 9v6m1 2v1m1-17v1m0 5v1m0 7v1m2-9v1m3-10v1m0 3v1m0 5v1m0 12v1m1-18v1m2 3v1m1 2v1m2 2v1m3 5v1m3-6v2m5 1v1m0 3v1m1-11v1m2-7v1m3-1v1m0 16v2m9-10v1m0 1v1m0 12v3m1-7v1m0 1v1m0 4v1m0 3v1m2-8v1m1-4v1m0 1v1m2-5v1m3 3v1m3 6v1m1-7v1m0 6v1m4-3v1m3 3v1m1 1v1m2-4v1m4 3v1m3 11v1m0 1v1m0 1v1m3-19v1m8 21v1m2-24v1m0 10v1m1 0v1m0 1v1m5-6v1m0 4v1m1-36v1m0 36v1m4-4v1m7-42v1m3 8v2m3 35v1m1-46v1m0 14v1m0 25v1m0 5v1m1-3v1m2-29v1m6 24v1m1-38v1m0 4v1m4-6v1m1-7v1m1-1v1m1 3v2m2-1v1m1-5v1m1 5v1m0 46v1m1-60v1m0 4v1m0 1v2m0 11v1m0 7v3m0 23v1m0 1v3m0 5v2m1-45v1m1-18v1m2 4v1m1 2v1m1-12v1m0 3v1m3 1v1m1 6v1"/><path stroke="#3484bf" d="M272.5 58v1m3-6v1m0 1v1m0 6v1m3-1v1m1-9v2m5-2v1m0 2v1m0 2v1m5-4v1m3 6v1m11-15v2m0 1v1m0 2v1m2 5v1m0 11v1m1-20v2m0 4v1m0 1v1m3 4v2m2-8v1m4 4v1m4 6v1m3 0v1m1-3v1m0 2v1m5 5v1m5-4v1m4 1v1m1-4v1m2 5v2m2 12v1m2-12v1m0 5v1m0 1v1m6 2v1m0 1v1m8-2v1m1-2v1m5-2v2m2 3v1m10-45v2m0 6v1m0 32v2m7-37v1m0 1v1m0 7v1m0 9v2m0 11v1m8 0v1m2-29v1m5 7v2m4-19v1m1-5v1m1 7v1m0 21v1m0 21v1m1-55v1m0 37v2m0 12v1m2-51v2m4-5v2m0 6v1m2-1v1m1 2v1m0 4v1"/><path stroke="#2070b4" d="M275.5 54v1m0 6v1m8-15v1m0 1v2m1 1v1m0 8v1m8 3v1m9-6v1m2-2v1m12 2v1m0 11v2m6 2v1m2-7v1m5 8v1m1-2v1m4 1v1m0 9v1m1-11v1m3 0v1m2 8v2m5 0v1m1 4v1m0 3v1m3-16v1m2 12v1m0 3v1m6-6v1m0 5v1m2-10v2m1-9v1m5 5v1m2-25v2m0 26v1m10-34v1m3 34v1m4-38v1m0 36v1m8-4v2m2-42v1m10-4v1m1-6v1m0 8v1m0 11v1m0 4v1m0 1v2m0 3v1m0 25v1m1-48v1m0 2v2m0 1v2m1-8v1m0 11v1m3-16v1m2-3v1m3 8v1m1-4v1"/><path stroke="#125ea6" d="M273.5 47v1m14 10v2m0 2v1m14-4v1m2-3v2m2 8v1m1-6v1m5 4v2m4 3v2m1-4v2m7-3v2m0 3v2m5 1v1m5 8v1m1-3v1m10 7v1m4-6v1m2 1v1m6 6v1m0 6v2m3-12v1m5 1v1m2 5v1m3-6v1m10-38v2m4 0v1m0 36v1m10-30v1m5-16v1m6 1v1m0 4v1m0 4v1m0 15v1m1-15v1m0 2v1m4-16v1m4 7v1m2 0v1"/><path stroke="#084c95" d="M273.5 46v1m11 4v1m19 2v2m2 7v1m1-6v1m17 12v1m6 14v1m8-5v1m1 13v1m6-9v1m0 2v1m1-10v1m5 19v1m6-2v1m0 3v1m2-19v1m11 9v1m2 4v1m8-3v1m4-38v1m1 37v2m13-39v1m1-9v1m6 21v1m0 2v1m1-29v2m0 10v1m1 8v1"/><path stroke="#083979" d="M278.5 48v5m5-8v2m0 8v8m1-8v2m3 3v2m2-4v2m16 4v3m0 1v6m1-21v2m0 2v1m9 10v4m6 3v3m1-2v6m1-15v2m5 9v3m1-7v3m0 4v5m4-6v2m0 5v5m1-9v1m4-5v4m0 2v11m4-7v9m2-9v2m1-8v16m5-9v8m0 5v2m6-8v3m0 2v1m0 6v3m2-26v1m1 4v2m12 6v3m8-1v1m4-40v1m0 40v2m9-4v3m1-44v3m4 2v3m1-13v1m6-4v4m0 11v5m0 13v2m1-23v1m1-5v3m3-6v3m2-1v3m2 1v1m1-4v5m0 3v2"/></g>
<rect x="364.6" y="7.05" width="43.3" height="144.55" fill="none" stroke="#1a1a1a" stroke-width="0.9" stroke-dasharray="2.8 1.6"/>
<rect x="271.6" y="6.6" width="144.9" height="145" fill="none" stroke="#8a8a8a" stroke-width="1"/>
<path d="M272.4 152.1v2.2M286.62 152.1v1.4M300.84 152.1v2.2M315.06 152.1v1.4M329.28 152.1v2.2M343.5 152.1v1.4M357.72 152.1v2.2M371.94 152.1v1.4M386.16 152.1v2.2M400.38 152.1v1.4M414.6 152.1v2.2M271.1 144h-1.4M271.1 108h-2.2M271.1 72h-1.4M271.1 36h-2.2" stroke="#666" stroke-width="0.8" fill="none"/>
<text x="272.9" y="160.5" text-anchor="middle" font-size="7.4" fill="#333">0.0</text>
<text x="301.34" y="160.5" text-anchor="middle" font-size="7.4" fill="#333">0.2</text>
<text x="329.78" y="160.5" text-anchor="middle" font-size="7.4" fill="#333">0.4</text>
<text x="358.22" y="160.5" text-anchor="middle" font-size="7.4" fill="#333">0.6</text>
<text x="386.66" y="160.5" text-anchor="middle" font-size="7.4" fill="#333">0.8</text>
<text x="415.1" y="160.5" text-anchor="middle" font-size="7.4" fill="#333">1.0</text>
<text x="268.1" y="110.7" text-anchor="end" font-size="7.4" fill="#333">2.0</text>
<text x="268.1" y="38.7" text-anchor="end" font-size="7.4" fill="#333">2.5</text>
<text transform="translate(250.6 79.1) rotate(-90)" text-anchor="middle" font-size="8.6">Bandgap (eV)</text>
<text transform="translate(344.35 172.2) scale(1.085 1)" text-anchor="middle" font-size="8" letter-spacing="0.2"><tspan>x of (</tspan><tspan>Cs</tspan><tspan dy="1.8" font-size="6.0">3</tspan><tspan dy="-1.8">Sb</tspan><tspan dy="1.8" font-size="6.0">2</tspan><tspan dy="-1.8">Br</tspan><tspan dy="1.8" font-size="6.0">9</tspan><tspan dy="-1.8">)</tspan><tspan dy="1.8" font-size="6.0">1 − x</tspan><tspan dy="-1.8">(</tspan><tspan>Cs</tspan><tspan dy="1.8" font-size="6.0">3</tspan><tspan dy="-1.8">Sb</tspan><tspan dy="1.8" font-size="6.0">2</tspan><tspan dy="-1.8">I</tspan><tspan dy="1.8" font-size="6.0">9</tspan><tspan dy="-1.8">)</tspan><tspan dy="1.8" font-size="6.0">x</tspan></text>
<rect x="420.8" y="6.6" width="8.8" height="145" fill="url(#cbg)" stroke="#777" stroke-width="0.7"/>
<path d="M429.6 151.6h2.2M429.6 60.97h2.2M429.6 106.29h1.4M429.6 15.66h1.4" stroke="#666" stroke-width="0.8" fill="none"/>
<text x="432.8" y="154.3" font-size="7.4" fill="#333">0</text>
<text x="432.8" y="63.67" font-size="7.4" fill="#333">100</text>
<text transform="translate(449.6 79.1) rotate(90)" text-anchor="middle" font-size="8.3">Number of pixels</text>
<text x="238" y="10.1" font-size="13.6" font-weight="bold" fill="#000">b</text>
<text x="309.8" y="142.6" text-anchor="middle" font-size="8.8">N = 195,607</text>
<g><text x="387.1" y="20.8" text-anchor="middle" font-size="8.9">Transition</text><text x="387.1" y="31.4" text-anchor="middle" font-size="8.9">region</text></g>
<rect x="536.5" y="5.95" width="74" height="145.35" fill="#efefef"/>
<g fill="none" stroke-width="1" filter="url(#sb)"><path stroke="#f0f6fd" d="M501.5 66v2m0 29v5m1-32v3m0 23v2m1-36v4m0 28v5m1-40v1m0 2v6m0 2v2m0 4v1m0 19v4m0 1v5m1-46v5m0 7v2m0 15v1m0 2v1m1-29v5m0 7v3m0 14v1m0 1v1m0 2v2m1-27v1m0 22v3m1-31v2m0 25v2m1-33v3m0 1v2m0 22v2m0 1v2m1-33v1m0 2v1m0 33v2m1-29v1m0 2v1m0 18v6m1-35v3m0 28v2m0 1v2m1-38v3m0 1v2m0 3v2m0 15v3m0 3v1m0 2v2m1-35v3m0 3v3m0 10v1m0 7v2m0 5v1m0 3v1m1-40v5m0 28v4m1-34v4m0 3v1m0 18v2m0 7v1m0 6v1m1-51v9m0 22v1m0 3v4m1-30v2m0 4v1m0 20v3m1-30v1m0 2v1m0 22v1m1-32v1m0 1v3m0 18v1m0 3v1m0 2v2m0 2v1m1-28v2m0 3v1m0 20v2m1-35v6m0 21v1m0 9v3m1-37v2m0 1v1m0 31v1m1-36v2m0 16v1m0 13v2m1-39v5m0 32v1m0 1v3m1-41v2m0 1v7m0 3v4m0 10v13m1-37v6m0 15v3m0 1v2m0 1v7m1-41v10m0 24v3m0 4v5m1-45v1m0 3v1m0 33v3m0 1v1m1-31v2m0 14v1m0 7v2m1-37v2m0 5v3m0 1v1m0 23v1m0 1v2m1-33v1m0 2v4m0 23v5m1-36v3m0 1v5m0 15v2m0 6v2m0 2v2m1-41v3m0 13v1m0 14v2m0 3v3m1-34v6m0 14v5m0 5v1m1-33v6m0 22v2m0 1v2m1-34v2m0 1v3m0 5v3m0 5v3m0 4v1m0 14v5m0 1v1m1-49v6m0 2v1m0 13v3m1-24v2m0 42v1m0 1v5m1-51v5m0 4v4m0 31v2m0 9v1m1-53v4m0 37v2m0 1v1m0 1v4m1-48v4m0 5v2m0 10v1m0 19v9m1-54v2m0 50v2m1-50v1m0 8v1m0 3v4m0 20v7m1-46v1m0 1v3m0 3v1m0 17v2m0 18v5m1-49v1m0 2v7m0 15v2m0 12v1m0 1v3m1-51v5m0 3v2m0 2v1m0 1v1m0 3v6m0 4v2m0 19v6m1-56v2m0 2v3m0 46v1m1-30v1m0 7v2m0 13v1m0 2v4m1-51v3m0 38v1m0 6v9m1-55v1m0 3v1m0 5v2m0 5v3m0 4v1m0 21v4m1-49v2m0 1v1m0 10v1m0 26v3m0 1v2m0 3v3m1-51v6m0 10v2m0 16v2m0 3v6m1-48v3m0 2v1m0 17v2m0 1v1m0 23v1m0 5v4m1-70v3m0 45v2m0 8v1m0 3v2m1-53v1m0 46v2m0 1v5m1-54v1m0 3v3m0 5v1m0 7v1m0 23v5m1-43v1m0 48v2m1-58v2m0 38v2m0 8v1m0 1v3m1-57v5m0 19v2m0 14v2m0 6v1m0 2v3m1-60v3m0 1v4m0 25v2m0 21v2m0 1v1m1-47v2m0 1v2m0 10v3m0 17v1m0 9v1m1-56v2m0 56v1m1-58v3m0 3v7m0 2v2m0 6v1m0 1v1m0 7v1m0 8v1m0 5v1m1-47v4m0 12v3m0 2v1m0 6v1m0 18v1m0 6v4m1-65v4m0 2v2m0 42v4m0 1v2m0 1v1m0 1v2m1-59v8m0 25v2m0 17v2m0 1v2m0 5v1m1-61v3m0 3v3m0 3v5m0 5v5m0 3v4m0 10v2m0 3v1m0 2v4m1-62v6m0 19v4m0 25v1m0 3v1m0 2v2m1-59v1m0 6v2m0 50v1m1-59v1m0 3v5m0 2v2m0 12v1m0 13v3m0 8v7m1-58v1m0 11v2m0 11v1m0 29v7m1-62v7m0 1v2m0 2v1m0 18v1m0 1v1m0 14v1m0 10v1m1-59v2m0 4v2m0 50v1m0 2v2m1-64v3m0 3v3m0 2v9m0 1v2m0 7v2m0 7v1m0 1v2m0 3v1m0 3v3m0 5v2m1-61v2m0 2v1m0 1v1m0 3v2m0 27v1m0 16v3m1-62v2m0 5v1m0 5v9m0 2v2m0 5v8m0 15v2m1-45v1m0 5v8m0 5v8m0 3v4m0 2v7m0 1v3m1-64v8m0 5v1m0 1v2m0 43v1m0 6v6m1-65v4m0 46v1m0 3v6m1-61v1m0 2v1m0 3v2m0 16v1m0 31v2m0 5v1m1-71v6m0 37v2m0 13v3m0 1v2m1-56v3m0 8v4m0 2v3m0 1v2m0 2v1m0 2v3m0 4v6m0 4v7m0 1v3m0 5v2m1-74v6m0 11v1m0 1v1m0 4v2m0 13v1m0 26v1m0 4v5m1-71v3m0 3v1m0 2v1m0 2v4m0 35v1m0 1v2m0 1v3m1-57v3m0 2v2m0 6v2m0 11v2m0 5v1m0 15v1m0 4v1m0 6v1m1-67v1m0 3v7m0 2v2m0 7v3m0 1v2m0 6v1m0 4v3m0 3v3m0 8v2m0 7v2m1-65v6m0 1v8m0 4v1m0 1v1m0 23v2m0 6v3m0 4v2m0 1v4m1-61v5m0 1v9m0 2v1m0 5v12m0 2v1m0 7v2m0 5v5m0 2v3m1-78v2m0 4v1m0 6v2m0 19v1m0 4v2m0 9v1m0 11v2m0 4v5m1-67v2m0 1v13m0 2v2m0 1v1m0 14v1m0 8v1m0 1v8m0 1v2m0 5v10m1-81v3m0 3v1m0 3v1m0 27v1m0 19v3m0 14v2m0 2v1m0 1v8m1-94v2m0 11v1m0 56v1m0 9v1m0 7v1m1-81v4m0 2v1m0 5v4m0 12v7m0 4v7m0 2v1m0 6v6m0 7v3m1-79v9m0 1v1m0 33v1m0 36v2m1-74v1m0 6v2m0 4v1m0 1v1m0 11v1m0 42v12m1-85v8m0 3v3m0 4v4m0 16v1m0 10v1m0 5v1m0 8v1m0 2v1m0 6v4m1-77v4m0 4v4m0 1v3m0 2v5m0 37v1m0 10v3m1-78v3m0 3v1m0 14v1m0 23v2m0 3v1m0 13v1m0 5v2m0 4v4m1-84v4m0 3v4m0 2v2m0 10v4m0 32v2m0 2v2m0 11v14m1-86v3m0 4v1m0 4v3m0 1v3m0 9v3m0 7v1m0 7v6m0 8v8m0 3v1m0 14v2m1-92v1m0 2v1m0 1v1m0 4v1m0 41v2m0 28v1m0 3v7m0 4v1m1-94v8m0 5v4m0 2v1m0 2v2m0 6v2m0 2v2m0 13v1m0 4v1m0 3v1m0 3v1m0 3v8m1-75v3m0 11v2m0 1v7m0 24v1m0 12v1m0 10v2m0 5v2m0 2v6m1-87v1m0 6v1m0 3v1m0 6v1m0 3v1m0 30v2m0 5v1m0 2v8m1-83v2m0 10v2m0 60v3m0 4v1m0 10v2m0 2v3m1-88v2m0 2v2m0 6v1m0 24v1m0 26v6m0 1v1m0 4v1m0 5v6m1-91v7m0 9v5m0 46v1m0 1v3m0 3v2m0 2v1m0 2v4m1-98v2m0 1v4m0 5v1m0 86v1m0 3v3m1-100v3m0 9v2m0 7v3m0 5v8m0 1v1m0 7v1m0 6v1m0 3v2m0 11v3m0 6v1m0 2v2m1 9v1m0 7v5m0 1v8m1-101v1m0 10v1m0 1v1m0 1v2m0 10v1m0 9v4m0 3v2m1-46v3m0 17v2m0 11v10m0 4v2m0 4v3m0 2v5m0 5v5m0 2v1m0 2v6m1-82v1m0 5v1m0 8v3m0 13v2m1-34v1m0 19v1m0 2v2m0 4v1m0 2v7m1-39v1m0 16v1m0 1v2m0 1v2m0 7v1m0 4v2m0 2v4m0 8v3m0 3v2m0 3v1m0 5v3m1-75v1m0 28v1m0 10v1m0 3v2m0 6v3m0 3v1m0 3v13m0 2v1m0 15v2m1-92v1m0 15v1m0 5v1m0 5v2m0 6v4m0 6v5m0 8v7m0 3v7m0 6v4m1-89v3m0 46v1m0 5v2m0 15v2m0 4v1m0 5v2m0 1v5m0 6v4m1-101v4m0 14v3m0 6v3m0 2v3m0 1v3m1-39v1m0 73v2m0 1v5m0 5v2m1-88v1m0 3v3m0 10v1m0 1v2m0 5v3m0 4v14m0 3v10m0 7v6m1-74v1m0 16v1m1-18v1m0 17v5m0 1v2m0 2v2m0 1v4m0 4v4m0 6v1m0 3v5m0 1v1m0 2v1m0 3v1m0 1v4m0 2v2m1-77v1m0 22v3m0 7v1m0 1v1m0 2v7m0 1v1m0 2v4m0 2v10m0 4v6m0 3v3m1-81v1m0 29v1m0 8v1m0 4v2m0 8v1m0 9v2m0 4v1m0 1v1m0 3v3m0 4v2m1-53v2m0 5v1m0 1v1m0 33v6m0 4v3m0 2v3m1-92v1m0 72v2m0 10v8m0 3v1m0 1v4m1-100v2m0 4v1m0 11v2m0 2v3m0 2v2m0 6v3m0 3v10m0 4v3m0 4v6m1-68v4m0 32v4m0 2v1m0 1v1m0 7v3m0 8v1m0 2v4m0 3v4m1-75v1m0 8v1m0 20v2m0 4v1m0 1v2m0 6v3m0 3v5m0 3v10m0 10v3m1-36v1m0 2v7m0 13v1m0 7v1m0 2v2m0 2v4m1-94v1m0 18v2m0 9v3m0 12v3m0 4v3m0 6v3m1-63v2m0 44v5m0 5v2m0 5v1m0 1v1m0 2v3m0 1v6m0 2v2m0 6v2m0 6v1m1-96v2m0 23v4m0 3v1m0 3v1m0 3v1m0 1v8m0 1v3m0 3v2m0 2v1m0 3v9m1-75v1m0 13v1m0 6v3m0 4v3m0 1v3m0 3v4m1-41v3m0 20v1m0 2v6m0 2v5m0 9v1m0 4v2m0 4v3m0 14v2m1-78v1m0 13v2m0 1v5m1-22v2m0 15v1m0 3v3m0 28v3m1-53v1m0 17v2m0 5v2m0 8v6m0 5v1m0 10v3m0 2v2m0 10v2m0 4v3m1-87v3m0 1v1m0 10v2m0 10v1m0 3v4m0 5v2m0 1v6m0 1v10m0 2v2m0 4v1m0 3v2m1-72v1m0 68v2m0 1v5m0 13v2m1-93v1m0 16v2m0 12v1m0 13v1m0 3v7m0 2v3m0 4v2m0 1v4m0 1v6m1-77v2m0 12v2m0 2v3m0 3v1m0 13v2m0 21v10m0 5v2m0 1v1m0 2v1"/><path stroke="#e2edf8" d="M501.5 68v2m0 21v6m1-24v2m0 20v1m1-30v3m0 2v3m0 18v2m1-26v2m0 2v1m0 2v1m0 1v2m0 6v2m0 8v1m0 4v1m1-36v4m0 2v1m0 2v3m0 1v2m0 8v1m0 1v2m1-23v2m0 4v1m0 3v1m0 7v6m0 3v2m1-17v2m0 12v1m1-26v3m0 3v1m0 3v6m0 5v4m1-25v1m0 3v11m0 6v1m0 2v1m1-27v5m0 1v1m0 5v1m0 13v1m0 4v2m1-26v2m0 1v1m0 3v1m0 9v4m1-26v2m0 4v3m0 6v1m0 11v1m1-27v3m0 2v1m0 13v1m0 3v3m1-21v1m0 2v2m0 4v1m0 1v1m0 3v3m0 8v3m1-34v1m1 5v1m0 19v7m1-34v2m0 5v2m0 12v1m0 1v3m1-24v4m0 3v1m0 6v3m0 7v1m1-26v2m0 1v1m0 20v1m1-30v1m0 9v1m0 10v1m0 1v3m0 5v2m1-25v3m0 1v1m0 3v1m0 4v3m0 4v4m1-27v4m0 21v6m1-30v4m0 8v1m0 10v3m0 1v4m1-33v3m0 3v3m0 16v5m1-32v3m0 19v2m0 5v3m1-19v1m0 7v2m1-18v2m0 3v1m0 1v2m0 3v3m0 3v1m1-21v3m0 18v3m0 3v1m0 1v2m1-39v3m0 3v1m0 1v8m0 16v2m0 2v1m0 3v1m1-28v2m0 13v1m0 3v3m1-25v1m0 1v2m0 11v1m0 3v1m0 4v1m0 1v1m1-30v2m0 4v1m0 17v5m1-28v1m0 6v1m0 15v1m0 4v1m1-32v8m0 6v1m0 12v1m0 2v3m1-25v4m0 3v1m0 1v1m0 3v1m0 5v5m1-26v1m0 5v3m0 12v1m0 2v1m1-30v1m0 3v5m0 3v2m0 2v1m0 6v1m0 5v1m0 8v1m1-36v2m0 1v8m0 2v3m0 3v3m0 15v3m0 3v1m1-47v2m0 16v2m0 19v1m0 1v1m1-39v1m0 2v1m0 4v1m0 15v2m0 2v3m0 6v2m0 5v2m0 3v1m1-48v2m0 29v2m0 3v1m0 4v1m1-40v1m0 2v2m0 2v2m0 2v6m0 1v1m0 14v2m0 1v1m1-43v4m0 35v1m0 5v5m1-31v11m0 8v1m1-30v1m0 4v3m0 2v1m0 5v1m0 2v1m0 11v2m0 3v1m1-43v2m0 7v1m0 4v5m0 3v1m0 3v2m0 2v1m0 5v2m0 1v1m1-43v3m0 2v2m0 3v3m0 6v2m0 1v1m0 2v1m0 14v4m1-48v2m0 3v2m0 4v2m0 29v2m0 6v1m1-47v1m0 3v1m0 1v4m0 2v1m0 4v1m0 1v5m0 1v1m0 2v1m0 8v4m0 1v2m1-44v5m0 6v2m0 24v1m0 1v1m0 2v3m1-45v3m0 1v5m0 2v1m0 2v2m0 8v1m0 4v2m0 10v4m1-43v1m0 2v1m0 6v1m0 2v1m0 2v1m0 8v2m0 11v1m0 3v1m0 2v3m1-42v1m0 4v5m0 2v4m0 3v2m0 3v4m0 2v3m1-36v2m0 9v2m0 2v2m0 4v2m0 13v3m0 4v1m0 1v1m0 3v1m1-61v1m0 41v1m0 2v3m0 3v2m0 1v3m1-45v2m0 4v1m0 4v2m0 20v5m0 2v1m1-45v3m0 3v5m0 1v2m0 4v1m0 1v1m0 6v3m0 3v2m0 1v4m0 1v2m1-37v4m0 4v2m0 25v7m0 4v2m1-54v2m0 9v6m0 16v1m0 6v4m0 2v2m1-47v3m0 2v3m0 1v2m0 2v2m0 3v1m0 2v1m0 11v2m0 2v1m0 4v1m1-46v1m0 1v3m0 9v1m0 6v4m0 2v1m0 12v2m0 5v1m0 2v1m1-44v1m0 2v2m0 1v7m0 3v1m0 20v6m1-53v1m0 3v3m0 11v4m0 4v2m0 3v2m0 9v5m0 1v8m1-44v2m0 2v1m0 3v2m0 3v7m0 1v1m0 2v5m0 1v1m0 3v1m1-42v12m0 6v1m0 2v3m0 1v1m0 8v2m0 3v1m0 2v1m0 1v3m0 1v2m1-57v2m0 2v6m0 35v1m0 4v1m0 4v1m1-47v1m0 6v2m0 12v2m0 18v1m0 5v5m1-51v3m0 15v3m0 4v1m0 8v1m0 2v1m0 1v1m1-49v1m0 2v2m0 2v5m0 6v1m0 11v1m0 7v1m0 3v1m0 4v1m0 1v3m1-53v1m0 3v2m0 2v1m0 7v4m0 30v2m0 5v1m1-57v3m0 5v2m0 2v5m0 3v4m0 1v1m0 1v3m0 7v1m0 3v4m0 1v3m1-50v4m0 6v1m0 8v1m0 3v1m0 25v5m1-42v1m0 12v5m0 3v1m0 12v1m0 1v10m1-56v4m0 2v1m0 41v1m0 5v2m0 1v2m1-53v2m0 12v1m0 1v5m0 2v2m0 4v1m0 8v3m1-49v2m0 3v3m0 2v2m0 2v1m0 4v1m0 9v3m0 4v1m0 1v3m0 6v4m0 1v2m1-51v5m0 9v2m0 2v5m0 8v1m0 3v2m0 5v4m1-42v2m0 2v1m0 8v1m0 3v1m0 8v3m1-39v1m0 2v2m0 4v1m0 10v3m0 10v2m0 18v1m0 3v2m1-55v2m0 5v6m0 6v1m0 8v5m0 12v1m1-50v2m0 1v1m0 1v1m0 2v2m0 3v2m0 2v3m0 3v1m0 1v1m0 6v2m0 14v2m0 4v2m0 2v5m1-64v2m0 2v2m0 5v2m0 9v6m0 8v1m0 2v1m0 6v3m0 2v1m0 3v1m1-34v1m0 5v2m0 6v1m0 17v1m1-58v7m0 2v2m0 6v1m0 2v3m0 2v1m0 1v1m0 6v5m0 10v5m0 2v4m1-58v3m0 10v1m0 3v2m0 3v2m0 10v4m0 6v2m0 1v1m0 4v1m1-47v6m0 2v1m0 5v5m0 2v3m0 3v4m0 1v1m0 8v1m0 1v4m0 1v6m1-41v1m0 2v2m0 1v3m0 1v4m0 3v3m0 3v8m1-39v4m0 7v4m0 5v2m0 7v1m0 2v3m0 2v1m0 3v4m1-39v2m0 1v5m0 15v1m0 5v1m0 2v1m0 3v1m1-61v6m0 2v5m0 3v5m0 2v4m0 1v1m0 2v1m0 2v2m0 4v3m0 6v6m0 2v1m0 1v2m1-60v1m0 13v2m0 4v5m0 3v6m0 1v8m0 10v1m0 2v5m1-68v3m0 1v3m0 1v7m0 8v1m0 12v1m0 3v3m0 2v1m0 8v1m0 3v1m0 4v3m0 5v1m0 2v2m1-78v1m0 2v2m0 1v1m0 1v1m0 48v1m0 5v1m0 5v1m0 3v1m0 1v7m1-76v2m0 10v3m0 8v1m0 7v4m0 7v2m0 1v2m0 2v2m0 6v1m0 2v1m1-62v1m0 29v3m0 1v1m0 3v1m0 23v8m1-71v6m0 2v4m0 1v1m0 1v7m0 3v1m0 1v1m0 2v3m0 3v12m0 6v2m0 10v3m1-65v3m0 5v2m0 4v5m0 9v2m0 1v1m0 10v5m0 1v1m0 5v2m0 1v2m0 1v6m1-69v4m0 4v1m0 3v2m0 5v1m0 10v2m0 4v7m0 1v2m0 8v1m0 2v1m0 1v3m0 4v1m1-68v6m0 7v1m0 1v8m0 14v1m0 2v3m0 1v1m0 3v1m0 1v2m0 7v1m0 5v4m1-76v3m0 8v1m0 7v2m0 4v1m0 14v5m0 8v4m0 6v1m0 3v2m0 1v1m0 2v1m1-53v1m0 2v6m0 3v2m0 3v1m0 2v1m0 5v1m0 6v2m0 4v2m0 8v3m1-74v2m0 3v4m0 1v1m0 32v2m0 8v1m0 19v4m0 3v1m1-69v2m0 1v1m0 4v2m0 5v6m0 2v2m0 2v9m0 3v1m0 1v1m0 1v2m0 1v3m0 5v3m1-64v7m0 3v1m0 2v1m0 7v1m0 6v2m0 16v1m0 4v3m0 3v1m0 1v2m0 6v2m0 6v1m0 2v2m1-80v6m0 5v6m0 5v1m0 9v3m0 2v9m0 3v1m0 10v2m1-61v2m0 3v3m0 17v3m0 20v3m0 12v3m0 2v4m0 1v1m0 3v1m1-75v2m0 3v1m0 1v2m0 3v2m0 2v1m0 3v2m0 8v1m0 1v2m0 1v2m0 10v1m0 4v6m0 6v1m0 6v1m0 2v2m1-78v4m0 3v2m0 5v5m0 3v4m0 4v2m0 2v2m0 3v6m0 6v5m0 3v1m0 5v3m0 2v2m1-89v1m0 4v1m0 3v1m0 1v1m0 37v1m0 36v3m0 3v5m1-79v3m0 3v1m0 7v1m0 10v1m0 5v1m0 1v3m0 2v1m0 1v3m0 16v2m0 3v1m0 1v2m1-67v1m0 66v2m0 7v2m0 2v2m0 1v3m1-86v2m0 7v1m0 3v1m1-12v1m0 18v1m0 9v1m0 10v1m0 2v1m0 2v4m0 3v2m0 6v1m0 2v1m0 8v2m1-69v1m0 6v1m1-15v3m0 9v7m0 5v4m1-28v1m0 7v8m0 4v1m0 2v7m0 1v4m1-38v3m0 13v3m0 3v1m0 6v2m0 4v4m0 1v3m0 2v2m0 7v3m0 17v2m1-73v5m0 9v1m0 1v5m0 2v2m0 1v1m0 2v6m0 4v6m0 5v8m1-59v1m0 40v5m0 1v5m0 2v1m0 13v1m0 2v1m0 2v1m0 1v5m0 2v1m1-82v1m0 2v2m0 7v2m1-17v3m0 12v2m0 5v4m0 4v4m0 5v2m0 3v4m0 2v4m0 3v10m0 4v2m0 2v1m0 6v4m1-85v2m0 4v1m0 8v1m0 4v5m0 3v4m0 14v3m1-50v3m0 11v2m1-16v1m0 11v1m0 2v2m0 8v2m0 7v4m0 4v6m0 11v2m0 5v1m1-68v2m0 19v1m0 3v3m0 3v1m0 3v2m0 9v2m0 16v4m1-68v1m0 9v2m0 16v1m0 1v1m0 4v3m0 1v4m0 2v4m0 3v1m0 1v9m0 2v2m0 1v1m0 3v3m1-72v1m0 26v1m0 2v2m0 6v1m0 9v1m0 5v1m0 6v10m0 6v4m1-83v1m0 73v5m0 4v1m0 8v3m1-92v1m0 2v1m0 11v1m0 11v6m0 3v3m1-37v5m0 26v1m0 4v2m0 3v2m0 4v1m0 3v5m0 2v1m0 7v3m1-70v1m0 6v1m0 1v1m0 1v3m0 2v2m0 6v5m0 2v4m0 1v1m0 2v6m0 3v3m0 5v3m1-62v1m0 18v2m0 7v1m0 19v1m0 1v2m0 11v4m0 3v2m0 1v7m1-82v1m0 2v1m0 10v1m0 2v1m1-16v1m0 12v1m0 5v2m0 12v1m0 8v2m0 5v1m0 3v1m0 4v3m0 3v2m0 3v1m0 6v2m1-55v1m0 4v3m0 1v3m0 1v3m0 22v3m1-65v1m1 2v2m0 14v4m0 1v2m0 18v1m0 2v1m0 1v4m1-52v1m0 9v3m0 2v1m1-15v1m0 13v1m1-14v1m0 11v5m0 9v8m1-34v1m0 8v1m0 2v1m0 5v1m0 11v2m0 1v2m0 2v1m0 21v4m1-65v1m0 4v2m0 12v3m0 2v1m0 9v2m0 9v4m0 2v4m0 1v12m0 2v1m1-72v1m0 1v2m0 11v1m0 2v2m0 5v5m0 1v1m0 3v3m0 5v1m0 1v3m0 12v4m0 7v1m1-69v1m0 2v2m0 5v2m0 7v3m0 1v7m0 4v2m0 2v1m0 6v1m0 4v2m0 2v1m0 23v2"/><path stroke="#d4e4f4" d="M501.5 70v3m1 2v1m0 17v2m1-26v2m0 3v1m0 15v2m1-19v2m0 4v1m1-11v2m0 6v1m0 2v1m0 6v1m1-17v1m0 8v1m0 5v1m1-13v1m0 8v1m0 4v3m0 3v1m1-22v1m0 1v1m0 1v1m0 8v5m1-20v1m0 1v1m0 11v1m0 3v2m1-18v1m0 1v1m0 3v1m0 1v1m0 8v4m0 4v1m1-20v3m0 1v1m0 1v2m0 4v1m1-20v4m0 7v2m0 1v1m0 2v2m0 2v4m1-20v3m0 9v1m1-13v2m0 2v1m0 6v1m0 1v1m1-19v1m0 3v4m0 13v2m1-17v1m0 1v6m0 4v1m0 3v1m1-23v2m0 2v1m0 2v1m0 10v1m1-11v1m0 3v2m0 3v4m0 2v1m1-14v3m0 7v3m2-16v1m0 1v1m0 1v1m0 1v2m1-12v1m0 15v1m0 1v3m1-20v1m0 8v1m0 8v1m0 3v1m1-26v3m0 18v1m1-24v1m0 24v1m1-15v1m0 4v2m1-14v3m0 1v1m0 2v3m1-11v1m0 16v1m0 7v1m1-30v1m0 8v1m0 14v1m0 2v2m1-21v1m0 13v3m1-13v1m0 6v1m0 3v1m1-17v1m0 4v1m0 10v1m1 1v1m0 2v1m1-23v1m0 17v1m1-15v3m0 5v1m1-14v1m0 3v1m1 3v2m0 4v1m0 4v1m0 2v1m0 1v1m0 6v1m1-24v2m0 9v1m0 13v1m0 3v1m1-42v1m0 1v2m0 10v2m0 2v1m0 17v1m0 1v1m1-37v2m0 9v1m0 10v1m0 2v2m0 8v1m0 4v3m0 2v3m1-34v8m0 12v1m1-31v2m0 6v2m0 8v1m0 12v1m0 2v1m1-38v1m0 5v2m0 11v1m0 14v1m0 1v1m0 2v2m1-8v1m1-28v1m0 6v2m0 1v3m0 1v1m0 4v2m0 1v2m0 1v5m0 4v1m1-32v4m0 5v3m0 6v2m0 1v1m0 3v1m1-18v1m0 4v1m0 12v1m1-37v1m0 9v4m0 15v1m0 9v4m1-43v1m0 1v1m0 4v2m0 1v1m0 2v1m0 7v1m0 4v5m0 2v1m1-32v1m0 2v3m0 2v1m0 3v2m0 5v7m0 5v1m0 3v2m1-30v2m0 5v1m0 2v1m0 2v1m0 2v1m0 2v1m0 4v3m0 1v1m1-35v6m0 4v2m0 1v1m0 6v1m0 2v1m1-21v4m0 11v1m1-18v1m0 6v2m0 2v2m0 8v1m0 4v1m0 6v1m0 3v4m0 3v3m1-59v1m0 39v1m0 6v3m1-40v1m0 5v1m0 4v1m0 2v1m0 4v2m0 12v1m0 5v2m1-27v1m0 3v6m0 3v1m0 1v1m0 2v1m0 4v1m1-28v1m0 2v1m0 23v1m0 7v1m0 2v1m1-50v2m0 6v1m0 13v1m0 4v4m0 4v1m0 6v2m1-42v2m0 3v1m0 2v2m0 2v1m0 9v1m0 5v2m0 5v1m0 2v1m1-44v1m0 3v2m0 4v3m0 1v6m0 21v1m0 3v1m1-35v1m0 11v1m0 14v1m1-40v1m0 3v1m0 4v1m0 4v1m0 7v1m0 2v3m0 2v2m0 6v1m0 5v1m1-31v3m0 14v2m0 7v3m1-22v2m0 5v2m0 5v1m0 4v1m0 1v2m0 5v1m1-45v1m0 8v1m0 4v3m0 14v4m1-35v1m0 11v2m0 10v1m0 3v1m0 10v1m1-14v1m0 11v1m1-47v2m0 2v2m0 5v1m0 12v1m0 3v1m0 1v1m0 5v1m0 1v3m0 1v1m0 2v1m1-47v3m0 5v1m0 4v2m0 4v1m0 31v1m1-35v1m0 1v1m0 6v1m0 3v3m0 12v1m1-43v6m0 3v1m0 4v1m0 1v1m0 4v1m0 3v1m0 4v2m0 12v1m1-36v2m0 19v1m0 3v1m0 6v1m1-26v2m0 27v1m0 1v5m1-33v1m0 9v1m0 2v1m1-25v2m0 1v1m0 2v1m0 1v1m0 11v1m0 13v1m0 4v1m1-17v1m0 4v1m1-32v2m0 10v3m1-26v2m0 7v4m0 5v1m0 3v1m0 11v1m0 15v1m1-46v2m0 2v1m0 6v1m0 3v2m0 1v1m0 2v1m0 9v1m0 5v2m0 3v1m1-45v1m0 5v3m0 2v2m0 5v1m0 3v2m0 6v6m0 7v1m0 2v1m1-50v2m0 2v5m0 2v1m0 7v1m0 10v1m0 12v1m0 3v2m1-18v1m0 12v1m1-43v2m0 5v1m0 8v2m0 1v1m0 1v1m0 3v1m0 10v2m0 1v3m0 5v2m1-40v1m0 1v1m0 2v3m0 2v1m0 1v4m0 3v1m0 4v1m0 4v1m0 2v1m1-32v1m0 1v3m0 17v1m0 5v1m1-20v1m1-7v1m0 2v1m0 4v5m0 4v3m0 1v1m0 6v2m1-7v5m0 4v3m1-47v3m0 5v2m0 13v4m0 4v1m0 3v1m0 9v1m1-33v3m1-20v1m0 2v2m0 8v3m0 3v1m0 2v3m0 3v2m0 1v1m0 3v1m0 2v1m0 5v4m1-69v1m0 2v1m0 1v2m0 2v1m0 3v1m0 15v2m0 35v1m0 2v1m0 2v1m0 1v1m0 1v1m1-52v1m0 2v5m0 24v2m0 9v2m1-60v1m0 2v1m0 10v2m0 12v1m0 5v3m0 1v1m0 16v1m0 4v1m1-41v1m0 5v2m0 3v1m0 1v1m0 12v1m0 11v6m1-56v2m0 14v1m0 4v1m0 4v2m0 19v1m1-37v2m0 10v2m0 1v1m0 7v1m0 2v5m0 7v1m0 3v4m1-61v1m0 16v9m0 4v1m0 8v3m0 1v1m0 2v1m0 3v1m0 3v1m0 1v1m1-44v1m0 3v3m0 1v2m0 9v2m0 4v2m0 11v3m0 2v1m0 1v2m1-51v2m0 13v1m0 4v1m0 3v1m0 9v1m1-47v2m0 15v2m0 3v2m0 10v1m0 18v6m0 2v1m0 4v1m0 1v1m1-66v1m0 33v1m0 1v1m0 3v1m1-43v3m0 12v2m0 3v1m0 6v1m0 15v1m0 3v1m0 6v1m0 9v1m1-49v1m0 4v4m0 3v2m0 9v3m1-46v3m0 3v7m0 8v2m0 3v1m0 2v3m0 6v4m0 15v1m0 12v1m0 1v1m1-70v3m0 4v3m0 2v2m0 1v3m0 2v1m0 3v2m0 1v1m0 4v1m0 2v1m0 7v2m0 1v4m0 20v2m1-72v3m0 12v3m0 4v1m0 2v1m0 2v2m0 2v3m0 6v3m0 8v1m0 1v1m1-70v3m0 3v1m0 27v1m0 35v2m0 11v1m0 1v1m1-71v3m0 4v1m0 2v1m0 16v1m0 5v2m0 7v1m0 3v4m0 2v1m0 5v1m0 1v1m1-62v2m0 46v4m0 20v3m0 6v1m1-81v1m1 15v1m0 3v2m0 6v1m0 12v2m0 19v2m1-64v1m0 3v1m0 2v1m0 4v1m1-3v1m1-8v4m1-8v1m0 10v2m0 5v1m0 9v4m0 15v1m1-43v1m0 19v1m1 4v1m0 3v2m0 3v1m0 14v1m0 7v5m0 4v2m1-71v2m0 2v7m1-1v1m0 2v5m0 12v1m0 3v1m0 2v3m0 4v2m0 4v3m0 10v4m1-56v1m1-13v5m0 3v3m1-3v1m0 1v2m1-14v4m0 4v1m0 9v1m0 7v3m1-27v1m0 7v1m0 6v2m0 3v1m0 2v1m0 6v1m0 14v3m0 15v1m1-33v3m0 12v1m0 5v1m0 1v1m0 3v2m1-8v2m0 7v1m0 1v1m0 4v1m0 7v1m0 2v1m1-79v2m0 2v1m0 3v6m1-8v1m0 5v3m0 5v7m0 4v1m0 25v2m1-49v1m0 3v2m0 2v1m0 4v1m1-16v2m0 4v2m0 2v3m0 3v1m0 1v2m0 9v2m0 1v2m0 14v1m0 2v1m0 6v1m1-71v1m0 2v1m0 4v1m0 3v1m0 1v2m1-14v1m0 16v1m0 2v1m0 4v1m0 5v1m0 1v4m0 3v1m0 10v1m1-52v1m0 16v5m1-23v4m0 7v1m1-8v1m0 7v1m0 4v1m0 26v2m1-45v1m0 7v1m1 1v4m1-12v3m0 7v1m1-4v1m0 8v1m0 1v3m0 10v1m1-17v1m0 3v2m0 1v1m0 6v2m0 2v1m0 2v2m0 2v2m0 4v2m0 4v1m1-56v1m0 12v1m0 5v2m0 1v2m0 13v1m0 1v3m1-39v2m0 6v1m0 20v1m0 2v1m0 5v6m0 1v1m0 2v1m0 2v2"/><path stroke="#c6dbef" d="M501.5 79v1m1 7v3m0 2v1m1-18v1m0 4v1m0 3v1m0 4v1m1 4v1m1-14v1m0 4v1m1-15v3m0 6v1m1-5v2m0 1v1m0 3v1m0 2v1m0 3v1m0 1v1m1-20v1m0 3v2m1-8v1m1 3v1m0 11v2m0 5v1m1-12v1m0 2v1m0 2v1m1-4v2m0 2v2m1-13v1m0 4v4m1-5v1m0 4v1m1-17v1m0 1v1m0 22v1m1-20v1m0 6v1m0 2v1m1-16v2m0 8v4m1-7v3m0 9v2m1-20v1m0 5v1m0 3v1m0 1v1m0 3v1m1-15v1m0 3v2m0 3v1m1-7v1m0 3v1m0 5v1m0 2v1m1-8v2m1-6v2m0 5v2m1-12v1m1-6v1m0 4v1m0 9v1m0 2v1m1-10v4m2 3v1m1 2v1m1-15v1m0 4v2m1-9v2m0 2v1m0 1v1m0 6v2m1-14v4m0 5v1m0 3v2m1-14v1m0 2v1m0 8v1m0 4v2m1-21v1m0 2v1m0 2v1m0 2v1m0 4v3m1-8v2m1-12v1m0 1v1m0 4v1m0 10v1m1-5v2m0 3v2m0 8v1m1-11v1m0 4v2m0 5v1m0 6v1m1-43v1m0 2v3m0 6v1m0 5v1m0 1v1m1-12v1m0 8v1m0 12v1m1-28v1m0 9v1m0 8v1m0 8v1m0 3v2m1-11v1m1-25v1m0 1v3m0 12v1m0 11v2m0 5v2m1-13v1m0 2v2m1-12v1m0 7v1m0 2v1m0 7v2m2-6v1m1-35v1m0 1v1m0 2v1m0 2v1m0 7v1m0 10v1m0 1v1m0 3v1m0 2v1m1-40v2m0 11v2m0 18v2m1-30v2m0 8v1m0 2v5m0 7v1m0 3v1m1-10v2m0 7v1m0 3v1m1-20v1m0 2v3m0 13v1m1-15v2m0 2v1m0 1v1m1-24v1m0 20v1m0 2v1m0 1v1m0 4v1m1-44v5m0 2v2m0 4v2m0 2v1m0 13v2m0 4v2m1-34v1m0 6v1m0 1v1m0 2v1m0 6v2m0 1v1m0 6v1m0 6v1m1-22v3m0 14v1m1-22v3m0 4v4m0 10v1m0 17v2m1-47v2m0 2v2m0 7v1m0 7v2m0 1v1m0 5v1m1-18v2m0 4v3m0 1v1m0 12v2m1-37v1m0 2v1m0 17v1m0 10v1m0 3v3m1-21v1m0 2v3m1-33v2m0 8v1m0 10v1m0 12v1m2-3v1m0 3v1m0 3v2m1-34v4m0 3v1m0 4v1m0 7v1m0 8v1m1-26v1m0 2v1m0 5v1m0 10v1m0 3v1m0 1v4m1-8v3m1-22v1m0 18v1m0 7v1m1-36v4m0 35v1m0 3v1m0 1v2m1-38v1m0 14v1m0 2v1m1-17v2m0 10v1m0 6v2m0 1v5m1-33v7m0 2v1m0 10v3m0 5v2m1-36v1m0 9v1m0 2v1m0 19v1m0 4v2m1-15v2m1-15v2m0 4v2m0 6v1m0 5v1m0 1v3m1-5v1m0 2v1m2-34v1m0 3v1m0 9v1m0 7v2m0 16v1m0 1v1m1-49v2m0 8v3m0 5v1m0 1v1m0 2v1m0 6v1m0 8v1m1-28v2m0 9v1m0 10v2m0 9v1m1-35v1m0 7v1m0 2v1m0 3v1m0 8v1m1-11v2m1-23v1m0 12v3m0 13v1m1-29v1m0 9v1m0 4v1m0 1v1m1-17v1m0 29v1m2-28v2m0 12v2m0 3v1m2-17v2m0 16v1m2-37v1m0 4v1m0 1v1m0 24v1m0 16v1m0 3v1m1-39v2m0 2v2m0 18v1m0 8v1m0 3v1m1-50v2m1-17v2m0 1v2m0 10v1m0 10v1m0 18v2m0 4v3m0 1v4m1-38v1m0 9v1m0 14v1m0 2v2m0 2v1m0 2v1m1-37v3m0 12v2m0 4v1m0 8v1m0 2v1m1-34v5m0 2v1m0 4v1m0 18v1m1-48v2m0 44v1m0 1v1m0 5v1m1-57v1m0 2v1m0 2v1m0 8v1m0 1v1m0 3v1m0 2v1m0 2v1m0 7v4m1-16v1m0 7v3m0 11v3m1-44v1m0 3v2m0 9v1m0 2v1m0 18v1m0 8v1m0 6v2m0 6v1m1-30v1m1-21v3m0 3v1m0 13v1m0 10v2m0 9v1m0 5v1m0 1v1m2-59v1m0 2v1m0 10v2m0 3v2m0 11v1m0 3v1m0 23v2m1-51v1m0 1v1m0 2v1m0 9v1m0 1v5m1 3v1m0 6v1m1-59v3m0 15v1m0 4v1m0 1v4m0 17v3m0 13v1m0 2v3m0 1v1m0 4v1m1-62v2m0 13v1m0 2v1m0 18v1m0 4v2m0 7v1m1-54v2m0 38v1m0 4v1m0 8v1m0 3v1m0 2v1m0 2v1m2-70v2m0 19v2m0 3v1m2-26v1m0 6v1m1-10v1m0 1v1m1 6v1m0 5v2m0 26v1m0 1v1m1-34v1m1-14v1m0 13v4m0 4v2m0 5v1m0 3v1m0 2v1m0 18v7m2-51v1m0 15v1m0 5v1m0 1v1m2-30v1m1-8v1m0 3v1m0 1v1m1-3v1m0 2v1m0 7v3m1-19v1m0 1v1m0 1v1m0 3v1m0 3v3m0 7v1m0 1v2m0 4v1m0 1v1m1-30v1m0 24v1m0 12v1m0 9v1m1-51v1m0 47v3m0 2v1m0 2v1m0 5v1m0 1v1m0 1v1m0 12v1m1-70v1m1-1v1m0 3v1m0 3v1m0 3v1m0 7v1m0 2v1m0 13v1m0 2v1m1-29v1m0 2v1m1-25v1m0 14v1m0 7v1m0 6v1m0 3v5m0 2v1m0 17v2m0 5v2m1-69v1m0 9v1m1-9v4m0 6v1m0 1v1m0 2v1m0 9v1m0 3v1m0 6v1m0 1v1m0 9v2m1-50v1m0 1v1m0 12v1m1-8v1m1-6v1m0 7v1m0 2v1m1-15v1m0 5v1m1-7v1m0 7v1m1-5v2m1-5v1m0 5v1m0 5v1m1-15v1m0 2v1m0 10v3m0 8v6m0 5v2m0 2v2m1-40v1m0 5v1m0 1v2m0 8v1m0 9v3m0 4v1m1-32v1m0 26v1m0 14v1"/><path stroke="#afd1e7" d="M501.5 73v1m0 4v1m0 11v1m1-15v2m0 3v1m0 4v1m0 3v2m1-16v1m0 1v2m0 3v1m0 1v1m0 2v1m1-5v1m0 2v1m1-6v1m0 1v2m1-4v1m1-8v2m0 2v1m0 6v1m0 5v1m2-7v1m0 1v1m1-12v2m0 8v1m0 8v2m1-10v2m1-11v1m1 1v1m1 0v1m1-9v1m0 17v1m1-6v2m0 2v1m0 1v1m1-11v1m0 4v2m2-11v2m0 5v1m0 1v3m1-13v3m0 2v1m1 8v1m1-17v1m0 5v1m1-6v1m0 2v2m0 6v1m0 4v1m1-14v2m0 5v1m0 5v1m1-22v2m0 1v1m0 19v1m3-21v4m0 4v2m0 4v1m2-10v4m0 5v1m1-11v2m0 6v1m0 8v1m1-14v1m0 2v1m0 3v1m1-11v2m1 3v1m0 4v1m2-14v1m0 12v2m1 8v2m1 4v1m0 6v1m1-36v6m0 7v1m0 1v1m0 9v1m0 2v1m1-25v2m0 1v1m0 3v1m0 17v1m1-31v1m0 2v3m0 2v1m0 10v4m1-4v3m0 1v1m0 6v1m1-32v1m0 5v1m0 2v1m0 8v1m0 4v1m1 5v2m1-26v1m0 1v1m1 21v1m0 1v1m1-11v1m1-23v1m0 13v1m0 21v1m2-28v2m1 4v2m0 10v1m0 1v1m1-13v1m0 7v2m0 4v1m0 1v1m1-9v1m1-22v1m0 25v1m0 2v1m1-38v2m0 9v1m0 8v2m1-14v1m0 4v2m0 6v1m0 3v1m0 8v2m2 4v1m1-34v2m0 10v1m0 4v1m0 3v1m0 8v1m1-6v1m1-26v2m1 16v2m0 3v2m0 2v1m1-31v3m0 2v1m0 2v1m0 7v1m0 11v1m0 3v1m3-28v3m0 2v1m0 1v1m0 4v1m0 4v1m0 5v2m1-29v1m0 9v1m0 3v1m0 10v2m0 2v1m2-27v1m0 14v1m0 6v1m0 9v1m1-13v2m0 2v1m0 15v1m2-41v1m0 13v1m0 1v1m0 1v1m0 3v1m0 5v1m1-21v2m0 15v1m0 2v1m1-32v2m0 3v3m0 6v2m0 14v1m0 4v1m2-31v2m0 15v2m0 7v1m1-7v2m0 4v2m2-15v1m0 9v2m0 4v3m0 4v1m1-31v1m0 13v1m0 5v2m1-19v1m0 11v2m0 4v1m0 4v2m1-40v1m0 1v4m0 13v2m1 8v1m1-32v1m1 17v1m0 7v1m0 2v1m1-4v1m0 2v1m0 1v2m4-8v2m2-37v1m0 3v1m0 10v1m0 1v1m0 13v1m0 3v2m1-58v2m0 11v1m0 13v1m0 11v2m0 28v1m2-35v1m0 12v1m0 2v4m0 2v1m1-28v1m0 26v2m0 5v2m1-32v1m0 2v1m0 9v1m0 13v2m1-4v1m1-44v1m0 2v1m0 19v1m0 2v1m0 18v1m1-48v1m0 1v2m0 10v1m1 7v1m1-25v1m0 2v1m0 1v3m0 6v1m0 2v1m0 5v1m0 2v1m0 2v1m0 7v1m0 11v1m2-23v1m0 2v2m0 7v1m0 14v1m0 10v1m1-50v1m0 2v1m1-11v2m0 4v1m0 16v1m0 4v1m0 10v1m0 2v1m1-32v1m0 14v1m1-15v2m0 19v2m1-54v1m0 13v1m0 5v1m0 14v1m0 8v1m0 3v1m0 13v1m0 8v1m1-40v2m0 17v2m1-44v1m0 29v2m0 26v1m0 1v3m0 4v2m1-69v1m1 1v1m0 3v3m0 4v2m0 8v3m1-26v1m0 1v1m1 4v1m1-8v1m1-2v1m0 43v1m1-36v1m1 10v1m0 2v1m0 3v1m0 2v2m0 4v2m2-38v1m0 8v1m0 13v1m0 9v1m1-23v1m1-6v2m1-7v1m0 1v1m0 1v1m0 1v1m1 4v1m1-15v1m0 13v1m0 4v1m0 10v1m1-28v3m0 4v1m0 5v2m0 26v1m0 2v1m0 5v1m0 3v1m0 1v1m1-42v2m0 20v1m0 2v1m0 2v2m0 3v2m0 4v1m0 9v1m0 1v1m0 10v1m2-50v2m1-24v1m0 13v2m1-23v1m0 10v1m0 1v1m0 9v2m0 5v1m0 1v1m0 10v1m0 1v1m1-40v1m1 6v2m0 5v1m0 2v1m0 2v1m0 1v1m0 8v1m1-37v1m0 1v1m2 0v2m0 3v1m0 2v2m1-13v1m2 4v1m1-2v2m0 9v1m1-12v1m0 3v1m0 2v1m1-7v1m0 1v1m1 22v1m0 16v1"/><path stroke="#97c6df" d="M501.5 80v2m0 1v1m1-6v3m0 1v1m0 2v1m1-9v1m0 3v2m0 3v2m1-8v1m1 2v1m1-1v1m0 1v1m1-1v1m2 1v1m1-2v1m3-3v1m1-2v1m1-4v1m0 1v2m0 11v1m2-16v1m0 1v1m2-7v3m1 5v2m1 5v1m1-15v1m0 3v1m1-4v2m0 6v1m0 4v2m1-2v1m1-16v3m0 5v1m0 3v1m0 4v1m3-12v1m0 2v1m0 2v1m1 2v2m1-7v1m1 7v2m1-8v1m1-6v1m1-6v2m0 4v1m2 8v1m1 10v1m1-3v1m1-9v1m0 3v1m0 5v2m1-15v1m0 2v1m1-17v2m0 3v2m0 15v1m2-18v2m0 1v1m0 2v3m0 8v1m0 5v2m1-7v2m1-21v1m1 23v1m1-9v1m1-19v2m0 5v2m0 2v1m0 12v1m0 1v1m2-5v1m0 1v1m1-2v1m1-13v1m0 15v1m2-25v1m0 16v2m0 4v1m1-32v1m0 2v1m0 2v1m0 2v1m0 11v1m0 2v1m0 2v1m1-29v1m0 22v3m2-7v1m0 8v1m0 1v1m1-14v1m0 15v1m2-6v2m0 4v1m1-1v1m1-19v1m0 13v1m2-4v1m0 1v1m1-18v1m0 8v1m1-12v2m0 27v1m1-6v1m1-17v1m0 5v1m1-13v1m0 11v1m0 3v1m0 1v1m0 3v2m1-10v2m1-20v1m0 8v2m0 3v1m2-22v1m0 2v1m0 1v1m0 7v2m0 18v1m0 1v1m5-34v3m0 9v1m0 1v1m0 17v1m1-19v2m1-2v2m1-17v1m0 13v2m3 8v2m7-34v1m0 5v1m0 4v1m0 15v1m0 18v1m0 1v1m1-50v2m0 3v1m0 12v1m2-29v1m0 6v1m0 7v1m0 1v1m0 1v1m0 15v1m0 9v1m2-26v2m1 23v1m1-44v2m1-6v1m0 23v2m2-26v2m0 7v1m0 7v1m0 5v2m0 1v2m0 17v3m2-24v1m0 3v1m0 2v1m0 8v1m2-30v1m0 16v1m0 15v1m0 1v1m0 1v2m3-60v2m0 16v1m0 17v1m0 7v1m0 20v1m2-29v1m0 9v1m1-39v1m0 3v1m1 3v1m0 1v2m1-12v1m0 8v1m1-9v3m0 1v1m3 3v1m1-12v1m0 16v1m2-11v2m3-10v2m0 5v1m1-4v2m0 2v1m0 3v1m1-10v1m0 1v1m0 9v1m0 3v1m1-15v1m0 11v1m0 22v1m0 1v1m0 1v2m0 4v1m0 6v1m1-58v1m0 18v3m0 16v1m0 1v2m0 1v2m0 12v1m0 9v1m1-61v2m1 9v1m0 1v1m0 26v2m1-46v1m1 1v2m0 6v1m0 18v1m0 12v1m1-44v1m0 2v1m0 2v1m1 13v2m0 4v1m1-14v1m3-13v1m1 4v1m1-1v1m0 2v1m1-9v1m0 1v1m0 9v2m1-16v2m0 8v2"/><path stroke="#7ab6d9" d="M501.5 74v1m0 2v1m0 4v1m0 1v1m3 5v2m0 1v1m2-10v1m6-3v1m1-1v1m2-2v1m0 2v1m1 7v1m1-12v1m5 3v1m0 2v1m0 1v1m1-4v1m1-6v1m0 2v1m0 6v1m1-13v1m0 2v1m0 10v1m3-9v2m3-4v1m1 4v1m1 0v1m1-4v1m2 1v1m0 2v1m1 9v2m1-8v1m0 2v1m0 5v1m1-11v3m2 3v1m0 1v1m1 1v2m1-19v1m4 10v4m0 4v1m1-8v1m0 4v1m2-3v1m2-2v1m0 2v1m2 1v1m1-7v1m1-30v1m2 23v1m1-5v1m0 1v1m1 5v1m1-2v1m1 3v2m0 1v2m1-27v1m0 23v2m2-5v1m1-5v1m0 3v1m1-24v1m0 30v1m2-29v1m0 10v1m0 5v2m1-10v1m0 9v1m0 11v1m2-10v1m1 1v1m1-10v1m0 6v2m0 3v1m2-22v1m0 2v1m3-6v1m1 17v1m1 1v1m1-6v1m1 3v2m1-10v1m0 2v1m8-29v1m0 42v1m1-51v2m0 37v1m0 1v1m2-47v1m0 7v1m0 2v1m0 1v1m0 1v1m0 15v1m0 8v2m3-25v2m1 3v2m5-2v1m0 4v3m0 4v1m1-24v2m1-6v2m0 24v1m0 6v1m3-51v1m0 6v1m0 8v1m0 24v1m0 4v1m0 5v1m0 2v1m0 5v1m2-55v1m0 18v2m0 3v1m0 9v1m0 1v1m0 3v1m0 12v1m2-55v1m0 6v1m2-6v1m3 1v1m0 1v1m1 1v1m0 11v1m2 0v1m1-16v1m3-2v2m1-8v1m0 9v1m1 3v1m0 6v1m0 15v1m0 9v1m1-36v1m0 11v3m0 27v1m0 1v1m2-42v1m2-11v1m4-7v1m1 3v1m1-2v1m1-5v1m2 1v1m2-2v1m0 2v1m1 2v1"/><path stroke="#5fa6d1" d="M501.5 75v1m1 7v2m2 3v1m0 3v1m9-10v1m2 7v1m0 5v1m7-20v1m0 4v1m0 5v1m2 0v1m1-9v1m0 2v1m0 1v1m3-9v1m0 1v1m1-2v1m0 9v1m1-4v2m2-5v2m1-2v1m0 3v2m1-1v1m2-2v1m2 15v1m1-6v1m0 2v1m2-1v1m1-2v1m1-15v1m0 10v1m5 0v1m6-20v1m1 4v3m0 2v1m0 9v1m1-28v1m0 27v1m2-5v1m1-5v1m2 13v1m2-26v1m3 10v1m1-17v2m1 26v1m1-26v2m1 14v2m0 9v1m0 2v1m2-31v1m0 21v1m1 2v1m1-27v1m0 12v1m0 3v1m0 1v1m5-7v2m1 8v1m1 4v1m11-35v1m1-12v1m0 28v1m0 5v1m0 7v1m2-48v2m0 1v1m7 3v1m0 1v1m0 19v1m2-11v1m0 33v1m2-28v2m0 6v1m3-40v1m0 5v1m0 16v1m0 13v1m0 12v2m2-27v3m0 9v1m1-36v1m1 2v1m4-6v1m1 3v1m1 13v1m0 5v2m2-3v1m1-20v1m3 2v1m2-4v3m0 10v1m0 4v1m1-24v1m0 3v1m0 20v1m0 4v1m2-20v1m1-6v1m1-6v1m3 2v1m0 5v1m1-4v1m1 0v1m1-6v1m2 4v2m4-4v1"/><path stroke="#4896c8" d="M501.5 76v1m0 8v1m0 3v1m3-1v1m8-10v1m3 4v1m0 4v1m0 5v1m7-17v1m0 3v1m3-4v1m0 4v1m3-7v1m1 2v1m2 2v1m2 0v1m1 0v1m2-2v1m2 15v1m2-18v1m0 1v1m0 15v1m2-1v1m1-10v1m4 7v1m5-1v2m2-24v2m1-7v1m0 16v1m0 1v1m1 8v1m2-11v2m0 5v1m0 3v2m0 3v1m2-9v1m1-3v2m5-8v1m0 4v1m1-6v1m3-5v1m0 1v4m0 9v1m2-25v1m2 11v1m0 1v1m2-7v1m3 10v1m0 5v1m1-4v1m2 0v1m4-5v2m7-46v1m0 3v2m0 1v2m0 13v1m0 7v1m0 3v1m0 10v1m2-39v1m0 5v2m2 19v1m0 1v1m5-27v1m0 29v1m0 2v1m2-22v1m0 30v1m5-59v2m0 1v1m0 7v1m0 15v1m0 22v1m2-42v1m0 7v1m0 1v1m0 4v1m0 9v1m0 3v1m1-33v1m1-1v1m1 2v1m3-1v1m2-1v2m0 8v1m3-10v1m5 3v1m0 7v2m1-10v2m0 6v1m0 2v1m0 1v1m0 4v1m0 26v1m2-50v1m4-6v1m0 4v1m1 3v1m4-12v3m4-2v2"/><path stroke="#3484bf" d="M501.5 86v1m11-6v1m3 7v1m7-11v1m7 2v1m0 1v1m2 0v1m5-2v1m2 12v1m1 2v2m1-10v2m0 12v1m3-4v1m4 1v2m8-30v1m0 10v1m3 18v1m2-7v1m6-1v1m1 9v2m1-6v1m2-2v1m0 4v2m2-10v1m2-10v1m0 8v1m2-14v1m3-4v2m0 19v1m14-50v1m2 2v1m9 47v1m5-55v1m2 12v1m0 34v1m0 3v2m1-54v1m2 5v1m7-10v1m6 17v2m1-16v1m4-4v2m0 2v2m1-6v2m2 7v1m2-5v1m1-4v1m1 1v1m3 1v1m2-2v1"/><path stroke="#2070b4" d="M501.5 88v1m3-6v1m6-2v1m14 5v2m5-9v1m4 3v2m5 11v1m2-12v1m2 15v1m1-7v1m0 3v1m4 2v1m1-10v1m0 2v1m7-10v1m0 4v1m3 13v1m3-3v1m5-7v1m2 5v1m2-20v1m9 19v1m3-6v1m11-46v2m0 14v1m0 13v1m0 1v1m0 2v1m0 3v1m4-6v1m12-31v1m0 7v1m0 7v1m0 4v1m0 4v1m2-34v1m0 6v1m0 32v1m0 1v1m8-35v2m9 20v1m0 3v1m2-27v1m1-8v1m0 1v1m5 0v1m6-1v1"/><path stroke="#125ea6" d="M501.5 87v1m3-7v1m11 4v1m0 1v1m9-6v2m5 0v1m7 0v1m4 18v1m2-4v1m1-7v1m5-5v1m0 3v2m10 0v1m0 10v1m3-6v2m6-15v1m3-3v1m4 9v1m8 3v1m11-16v1m9 9v1m7-44v1m0 4v1m0 36v1m2 9v1m3-47v1m4-4v2m1-7v1m0 5v1m3 0v1m6-8v1m0 1v1m0 18v2m3-20v1m4 7v1m1-10v1"/><path stroke="#084c95" d="M510.5 85v1m5 1v1m21-3v1m7 16v1m5-9v1m8 7v1m2-3v1m21 2v1m5-6v2m9-26v1m9 22v1m7 2v1m2-13v1m0 6v1m8-39v1m9 6v1m6-5v1m1-4v1m0 3v1m4-5v1m3 1v1"/><path stroke="#083979" d="M504.5 82v1m6 0v2m19 1v4m19 3v1m8 9v1m2-5v1m9-8v2m3-6v1m4 11v3m5-2v2m14-28v3m0 15v3m0 2v3m9-13v3m7-24v2m0 14v4m0 11v2m2-45v2m0 5v6m0 3v4m0 11v2m0 17v2m6-53v6m2-6v3m0 1v1m2-5v5m1-1v2m5 1v4m1-11v1m0 3v6m0 21v3m6-31v3m1-2v3m1-5v2"/></g>
<rect x="536.5" y="6.4" width="74" height="144.9" fill="none" stroke="#1a1a1a" stroke-width="0.9" stroke-dasharray="2.8 1.6"/>
<rect x="500.6" y="5.95" width="144.9" height="145.35" fill="none" stroke="#8a8a8a" stroke-width="1"/>
<path d="M501.4 151.8v2.2M515.62 151.8v1.4M529.84 151.8v2.2M544.06 151.8v1.4M558.28 151.8v2.2M572.5 151.8v1.4M586.72 151.8v2.2M600.94 151.8v1.4M615.16 151.8v2.2M629.38 151.8v1.4M643.6 151.8v2.2M500.1 143.6h-1.4M500.1 107.5h-2.2M500.1 71.4h-1.4M500.1 35.3h-2.2" stroke="#666" stroke-width="0.8" fill="none"/>
<text x="501.9" y="160.2" text-anchor="middle" font-size="7.4" fill="#333">0.0</text>
<text x="530.34" y="160.2" text-anchor="middle" font-size="7.4" fill="#333">0.2</text>
<text x="558.78" y="160.2" text-anchor="middle" font-size="7.4" fill="#333">0.4</text>
<text x="587.22" y="160.2" text-anchor="middle" font-size="7.4" fill="#333">0.6</text>
<text x="615.66" y="160.2" text-anchor="middle" font-size="7.4" fill="#333">0.8</text>
<text x="644.1" y="160.2" text-anchor="middle" font-size="7.4" fill="#333">1.0</text>
<text x="497.1" y="110.2" text-anchor="end" font-size="7.4" fill="#333">2.0</text>
<text x="497.1" y="38" text-anchor="end" font-size="7.4" fill="#333">2.5</text>
<text transform="translate(479.6 78.62) rotate(-90)" text-anchor="middle" font-size="8.6">Bandgap (eV)</text>
<text transform="translate(573.35 171.9) scale(1.085 1)" text-anchor="middle" font-size="8" letter-spacing="0.2"><tspan>x of (</tspan><tspan>Cs</tspan><tspan dy="1.8" font-size="6.0">3</tspan><tspan dy="-1.8">Bi</tspan><tspan dy="1.8" font-size="6.0">2</tspan><tspan dy="-1.8">I</tspan><tspan dy="1.8" font-size="6.0">9</tspan><tspan dy="-1.8">)</tspan><tspan dy="1.8" font-size="6.0">1 − x</tspan><tspan dy="-1.8">(</tspan><tspan>Cs</tspan><tspan dy="1.8" font-size="6.0">3</tspan><tspan dy="-1.8">Sb</tspan><tspan dy="1.8" font-size="6.0">2</tspan><tspan dy="-1.8">I</tspan><tspan dy="1.8" font-size="6.0">9</tspan><tspan dy="-1.8">)</tspan><tspan dy="1.8" font-size="6.0">x</tspan></text>
<rect x="649.8" y="5.95" width="8.7" height="145.35" fill="url(#cbg)" stroke="#777" stroke-width="0.7"/>
<path d="M658.5 151.3h2.2M658.5 91.49h2.2M658.5 31.67h2.2M658.5 121.39h1.4M658.5 61.58h1.4" stroke="#666" stroke-width="0.8" fill="none"/>
<text x="661.7" y="154" font-size="7.4" fill="#333">0</text>
<text x="661.7" y="94.19" font-size="7.4" fill="#333">100</text>
<text x="661.7" y="34.37" font-size="7.4" fill="#333">200</text>
<text transform="translate(678.5 78.62) rotate(90)" text-anchor="middle" font-size="8.3">Number of pixels</text>
<text x="467.5" y="9.9" font-size="13.6" font-weight="bold" fill="#000">c</text>
<text x="570.4" y="141.7" text-anchor="middle" font-size="8.8">N = 191,342</text>
<g><text x="575.1" y="28.7" text-anchor="middle" font-size="8.9">Transition</text><text x="575.1" y="39.3" text-anchor="middle" font-size="8.9">region</text></g>
<rect x="82" y="197.75" width="61.7" height="145.45" fill="#efefef"/>
<g fill="none" stroke-width="1" filter="url(#sb)"><path stroke="#f0f6fd" d="M36.5 213v1m0 31v1m2-7v1m1 5v1m1-31v1m0 25v1m1-2v1m1-24v1m0 27v1m0 3v1m1-31v1m0 21v1m1-26v1m1 21v3m1-23v2m0 23v1m1-26v1m1-2v2m0 24v1m1-25v1m0 20v1m1-26v1m0 24v1m1-26v1m0 24v1m1-25v1m0 22v1m2-23v1m0 21v1m1-23v1m1 22v1m2-23v1m0 11v1m0 8v1m1-25v1m0 25v1m0 1v2m1-2v1m0 2v2m1-32v3m1 22v1m1-25v1m1 23v2m1-25v1m0 22v1m1-24v2m1 20v1m1-23v2m0 11v1m0 7v2m1-22v1m0 20v1m1-23v1m0 24v1m0 2v1m0 2v1m1-9v1m1-25v1m1 0v1m0 21v1m1-22v1m1 21v2m1-24v1m0 21v1m1-23v1m1-2v1m1 1v1m0 21v1m2-3v1m1-25v1m0 27v1m1-30v1m0 27v1m1-27v3m1-1v2m0 19v1m2 0v1m1-24v3m0 1v1m1-6v1m2 7v2m0 5v1m1-18v1m0 25v1m1-25v1m0 1v2m0 21v1m1-21v1m0 2v3m0 2v1m0 9v1m1-28v2m0 26v1m1-27v1m1-1v1m0 6v1m0 1v1m0 8v1m1-16v1m0 8v1m1-14v1m0 1v1m0 26v1m0 1v1m1-28v1m0 23v1m2-32v1m0 1v2m1 16v1m0 1v1m1-21v2m0 28v1m1-12v1m1-20v1m0 27v1m1-30v3m0 1v1m0 8v2m0 14v1m1-28v1m0 15v1m0 1v1m1-18v1m0 14v2m1-20v1m0 28v1m1-13v1m1-18v1m0 1v1m0 27v1m1-38v2m0 34v1m1-26v2m0 23v1m1-30v1m0 19v1m0 7v1m1-27v2m0 24v1m1-30v1m1-3v1m0 30v1m1 1v1m2-32v1m0 30v1m1-31v1m0 3v2m1-4v3m0 2v1m0 12v1m1-20v3m0 26v1m1-32v1m0 29v1m1-25v1m0 24v1m1-30v1m0 6v1m0 7v1m1 0v3m1-21v1m0 20v1m0 7v1m1-33v1m0 33v1m1-31v1m0 14v1m0 3v1m1-19v1m0 7v2m0 2v2m0 1v4m1 9v1m1-32v2m1 9v1m0 2v1m0 5v1m0 2v1m0 7v1m1-30v4m0 5v2m0 5v2m0 11v1m1-34v1m1 0v1m1-4v3m0 35v1m1-36v1m0 18v1m0 1v2m0 2v1m2-27v1m1 20v3m0 10v1m1-28v1m1-12v1m0 11v2m1-2v1m1 0v1m1-1v1m1-11v1m1-4v1m0 14v1m1-2v2m1-15v1m0 10v1m1-12v1m0 12v1m1-2v1m1-14v1m0 13v1m1-13v1m0 10v1m1 0v1m1-4v1m2-12v1m1-2v2m0 12v1m2-2v1m3-14v1m1-1v2m0 12v1m1-16v1m0 14v1m1-16v1m0 13v1m1 1v1m1-2v1m1-16v1m0 12v1m1-14v1m0 13v1m2-14v1m0 11v1m2-13v1m0 12v1m1-14v1m1 12v1"/><path stroke="#e2edf8" d="M36.5 214v4m0 20v7m1-30v4m0 19v1m1-23v1m0 21v1m0 1v3m1-25v2m0 24v1m1-29v2m0 22v1m1-23v1m0 20v1m1-22v1m0 23v3m1-25v3m0 7v1m0 9v1m2-24v2m0 18v1m1-18v2m0 7v1m0 9v4m1-24v1m0 2v2m0 5v3m0 6v1m1-20v2m0 20v2m1-23v1m0 18v1m1-24v1m0 22v1m1-24v1m0 22v1m1-23v1m0 1v2m1-4v1m0 21v1m1-22v2m0 11v1m1-14v1m0 2v2m0 17v1m1-26v2m0 22v1m1-24v5m0 8v3m0 8v1m1-22v7m0 2v2m0 1v1m0 6v1m1-23v1m0 1v2m0 20v1m1-22v1m0 22v1m0 1v2m1-27v1m0 19v1m1-21v4m0 16v2m1-23v2m0 19v1m1-22v3m0 19v1m1-22v2m1-1v1m0 18v1m1-22v2m1 0v2m0 8v1m0 1v1m1-13v1m0 18v1m1-21v1m0 20v3m0 4v2m1-31v1m0 20v2m1-23v1m0 21v1m1-22v3m1-2v1m0 19v1m1-27v2m0 24v1m1-21v1m1 7v5m0 6v1m1-21v1m0 11v2m0 7v1m1-20v1m0 4v1m0 13v2m1-23v2m0 18v1m1-23v1m0 20v2m1-23v3m0 21v3m1-28v3m0 2v1m0 3v2m0 6v1m0 6v3m1-23v3m0 19v1m1-22v1m1 1v10m1-20v4m0 22v2m1-20v1m0 1v10m0 6v1m1-22v1m0 1v1m0 1v2m0 6v4m0 5v1m1-24v5m0 1v1m0 5v1m0 1v2m0 8v1m1-8v1m0 4v2m1-24v2m0 15v1m0 6v1m1-23v1m0 2v1m0 5v1m0 13v1m1-19v2m0 6v2m1-18v1m1 0v3m0 21v1m1-25v6m0 3v4m0 2v2m0 1v1m0 5v1m1-22v8m0 1v2m0 2v1m0 7v1m1-26v1m0 1v2m0 20v1m0 4v1m1-26v6m0 7v3m0 6v1m1-23v2m0 5v6m0 8v1m1-29v1m0 3v1m0 23v1m1-25v7m0 6v2m0 3v1m0 5v1m1-26v1m0 25v2m1-30v2m0 18v2m0 5v1m1-27v7m0 1v1m0 6v1m0 10v1m1-24v1m0 4v2m0 3v6m0 7v1m1-26v1m0 2v8m0 2v2m0 3v1m0 5v2m1-25v2m0 1v2m0 8v1m0 2v1m0 6v1m1-27v2m0 13v1m1-18v4m0 13v1m0 4v1m0 6v1m1-28v1m0 3v1m0 13v2m0 8v1m1-35v1m0 25v1m1-20v2m0 2v2m0 20v1m1-28v1m0 3v1m0 10v4m0 1v2m1-19v5m0 8v2m0 1v3m1-23v5m0 6v1m0 4v1m0 3v2m0 5v1m1-30v1m0 2v3m0 16v2m0 4v2m1-26v2m0 10v6m1-24v1m0 24v1m1-22v3m0 1v3m0 5v2m0 5v2m0 8v1m1-24v9m0 4v2m0 8v1m1-22v1m0 3v4m0 5v1m0 7v1m1-26v1m0 2v11m0 9v3m1-30v1m0 3v3m0 4v1m0 5v4m0 7v1m1-29v2m0 2v1m0 1v4m0 4v1m0 14v1m1-28v6m0 1v2m0 1v4m0 1v1m0 9v4m1-30v2m0 1v3m0 1v3m0 4v2m0 3v2m0 6v2m1-30v1m0 10v9m0 1v1m0 5v1m1-27v3m0 12v1m0 4v1m0 7v1m1-29v1m0 2v1m0 4v1m0 3v2m0 5v1m0 7v1m1-26v1m0 3v2m0 11v1m0 8v1m1-31v3m0 8v7m1-17v1m0 16v5m0 7v1m1-32v5m0 4v2m0 4v5m0 4v2m0 4v1m1-25v5m0 2v5m0 2v2m0 8v1m1-32v1m0 1v3m0 16v5m0 4v3m1-36v3m0 1v1m0 18v3m0 10v1m1-34v2m0 31v2m1-34v5m0 3v3m0 3v4m0 1v1m0 11v1m1-31v2m0 16v1m0 3v3m0 5v1m1-33v1m0 30v1m1-32v1m0 3v1m0 13v2m0 3v2m0 7v1m1-37v1m0 7v2m1-10v4m0 6v1m1-10v1m0 7v2m1 0v1m1-13v1m0 9v3m1-9v1m0 4v5m1-13v1m0 12v1m1-12v1m0 8v2m1-12v1m0 8v1m1-10v1m0 10v1m1-12v2m0 2v7m1-12v1m0 10v2m1-11v3m1-3v1m1-4v3m0 6v2m1-9v1m0 8v2m1-12v3m0 8v2m1-13v1m0 10v1m1-12v1m0 5v1m0 3v1m1-13v1m0 11v1m1-12v1m0 12v1m1-15v1m0 11v2m1-13v1m0 10v1m1-11v2m0 9v1m1-1v1m1-14v1m0 11v1m1-12v1m1-2v1m0 11v2m1-14v1m0 10v1m1-12v1m0 11v1m1-14v1m0 15v1m1-15v2m0 8v1m1-12v1m0 12v2m1-14v1m0 1v2m0 7v1m1-12v1m0 12v1m1-16v1m0 12v1"/><path stroke="#d4e4f4" d="M36.5 218v1m1 0v1m0 15v1m0 1v1m1-1v1m1 1v2m0 2v1m1-26v1m0 18v1m0 1v1m1-21v1m0 18v1m1-20v1m0 7v1m0 12v2m1-19v1m0 5v1m0 1v1m0 7v1m1-23v1m0 20v1m2-17v1m0 5v1m0 1v1m0 7v1m1-19v2m0 2v1m0 2v2m0 8v1m1-14v1m1-4v1m0 16v1m1-22v2m0 11v1m1-14v1m0 20v1m1-21v1m0 2v1m0 8v2m0 6v1m1-21v1m0 14v1m0 4v1m1-19v1m0 9v1m0 1v1m0 5v1m1-20v2m0 2v1m0 2v7m1-16v2m1 2v1m0 6v1m0 10v1m1-14v2m0 4v1m1-16v1m0 21v1m1-20v1m0 20v1m1-22v1m0 4v1m1-3v1m0 7v1m0 6v1m1-17v2m0 5v1m1-9v1m0 17v1m1-19v3m0 16v1m1-11v2m1-12v1m0 4v2m0 12v1m1-18v2m0 9v1m0 4v1m1-18v1m0 16v1m1-19v1m0 2v2m0 14v1m1-21v1m0 18v1m1-20v1m0 19v1m1-7v1m1-13v1m0 17v1m1-24v5m0 18v1m1-7v2m0 5v1m1-21v1m0 6v1m0 10v1m1-12v4m0 2v1m1-9v1m0 1v1m0 5v3m0 3v1m1-19v1m1 15v1m1-18v1m0 6v3m0 10v1m1-19v1m0 1v1m0 2v6m0 1v1m0 4v1m1-17v1m0 2v7m0 4v2m0 2v1m1-20v1m0 2v1m0 4v2m1 1v1m0 6v1m1-24v3m0 12v2m1-1v1m1-15v1m0 8v2m1-9v1m0 1v1m0 8v3m0 4v1m2-22v3m0 10v2m0 6v1m1-18v2m0 2v1m0 1v1m0 11v1m1-8v1m1-18v2m0 13v1m0 8v1m1-16v2m0 12v1m1-11v2m0 8v1m1-10v2m0 1v1m1-15v2m0 6v5m0 6v1m1-14v7m0 3v1m0 4v1m1-20v2m0 2v1m0 6v4m0 3v1m1-20v4m0 8v3m1-12v1m0 3v2m0 6v1m1-20v1m1-2v3m0 3v3m0 7v1m1-11v1m0 1v6m0 1v3m1-15v4m0 11v1m0 4v2m1-24v2m0 8v2m1-10v1m0 2v1m0 1v3m0 2v1m0 4v1m0 4v1m1-24v1m0 6v1m0 4v1m0 1v2m0 3v2m0 4v1m1-26v4m0 2v2m0 4v1m1-10v1m0 10v2m0 9v1m1-33v2m0 22v1m0 7v1m1-21v4m0 3v1m0 11v1m1-26v3m0 1v1m0 8v1m0 11v1m1-19v1m0 2v5m0 2v1m0 3v1m0 3v1m1-23v1m0 2v3m0 1v1m0 4v3m0 2v3m0 1v1m1-28v2m0 3v3m0 11v2m0 5v1m1-22v1m0 3v1m0 4v1m0 6v2m0 7v1m1-33v1m0 2v3m0 16v2m0 7v1m1-26v1m0 7v1m0 2v5m0 2v1m1-7v4m0 2v4m0 3v1m1-20v3m0 10v1m0 5v1m1-24v2m0 11v4m0 4v1m1-26v3m0 3v1m0 4v2m0 2v1m0 4v1m0 5v1m1-26v2m0 6v1m0 2v1m0 1v1m0 10v3m1-18v1m0 6v1m0 2v1m0 4v1m1-24v1m0 3v1m0 3v1m0 2v1m0 7v2m1-23v3m0 4v3m0 15v1m1-23v1m0 9v2m0 1v1m0 2v1m0 1v1m0 5v1m1-27v2m0 1v1m0 2v1m0 1v3m0 8v1m0 5v1m1-24v3m0 14v1m0 6v1m1-27v3m0 4v1m0 7v4m0 7v1m1-28v1m0 13v2m0 5v1m0 5v1m1-26v1m0 2v1m1 13v1m0 6v1m1-30v1m0 3v1m0 7v5m0 1v2m0 5v1m0 2v1m1-28v1m0 5v1m0 10v1m0 3v2m2-19v1m0 1v1m0 3v3m0 11v1m0 4v1m1-28v3m0 6v1m0 4v2m0 1v3m0 7v1m1-19v3m0 4v5m1-24v3m0 1v1m0 10v2m0 7v1m1-23v1m2-2v3m1-10v1m0 9v2m1-11v2m0 6v1m1-5v1m0 1v2m2-5v1m1 5v1m1-8v1m1 0v2m1-4v1m0 8v1m1 0v1m1 0v1m1-11v1m1-1v3m0 4v1m1-7v1m0 6v1m1-10v1m0 8v1m1-6v1m0 1v3m1-11v1m0 9v1m1-10v1m0 10v1m1-13v1m0 9v1m1-1v1m1-8v1m1-5v1m0 6v1m0 2v3m1-12v3m0 7v1m1-10v1m0 11v1m1-14v1m1-1v1m0 8v1m1-10v1m0 9v1m1-12v1m0 13v1m1-12v1m0 6v1m1-10v1m1 0v1m0 5v2m1-8v3m0 4v2m0 2v1m1-14v1m0 10v1"/><path stroke="#c6dbef" d="M36.5 237v1m1-4v1m0 1v1m1-20v1m0 9v1m1-8v1m0 20v1m1-12v2m0 4v1m0 1v1m1-19v2m0 15v1m1-18v1m0 5v1m0 1v1m0 10v1m1-16v1m0 3v1m0 6v1m2-17v1m0 7v3m0 2v2m1-11v5m1-3v2m0 5v1m1-12v3m0 1v1m0 1v3m0 10v1m1-19v1m1 6v1m0 1v1m0 6v1m1-21v1m0 8v1m1-6v2m0 3v3m0 2v1m1-14v1m0 12v1m1-12v1m0 7v1m1-6v2m0 7v1m1-15v1m0 11v1m0 6v1m1-12v1m0 4v1m1 0v1m1-14v1m0 12v1m0 4v1m1-18v1m0 9v1m0 8v1m1-15v1m1 5v1m1-13v2m0 2v5m0 1v1m0 7v1m1-12v5m1-3v4m1-12v1m0 7v1m0 2v1m1-9v1m0 2v1m0 3v2m1-9v2m0 3v1m0 4v1m1-13v2m1-3v2m0 15v1m1-17v2m0 8v1m0 4v1m1-18v1m0 11v1m1-11v1m0 9v1m0 1v1m0 4v1m2-19v1m0 7v3m1-11v1m0 8v3m1 4v1m1 1v1m1-18v1m0 9v1m1-11v1m0 7v5m1-17v1m0 14v1m1-13v6m0 3v4m1-11v1m0 11v1m1-12v2m0 14v1m1-18v2m0 4v1m0 2v1m0 6v1m2-20v3m0 8v1m0 2v1m0 3v1m2-15v4m0 10v1m1-12v1m0 8v3m1-5v1m0 2v1m1-17v1m0 12v1m1-11v2m0 13v1m1-1v1m1-22v1m0 11v1m0 1v2m0 5v1m1-21v1m0 4v1m0 2v1m0 1v3m0 1v2m1 0v1m0 2v1m1-5v1m0 4v1m1-19v2m0 9v1m2-10v2m0 11v3m1-22v3m0 19v1m1-16v3m0 9v1m1-20v2m0 13v1m0 7v1m1-23v1m0 1v1m0 7v3m0 4v1m1-3v1m0 5v1m1-6v4m1-4v1m0 2v2m1-17v1m0 3v2m0 8v2m1-22v1m0 4v1m0 1v1m0 2v1m0 4v3m0 2v1m0 2v1m1-21v2m0 2v1m0 15v1m1-17v2m0 3v1m0 4v1m1-24v2m0 22v1m1-11v3m0 5v3m1-9v1m0 8v1m1-14v1m1-5v2m0 5v3m0 9v1m1-19v1m0 5v2m0 2v1m0 4v1m1-18v3m0 1v4m0 9v1m0 5v1m1-31v2m0 3v1m0 5v1m0 8v1m0 3v1m1-16v1m0 2v1m0 17v1m1-2v1m2-6v1m0 1v2m1-18v1m0 1v1m0 3v2m0 6v1m0 3v1m1-16v2m0 3v1m0 8v1m1-7v2m0 1v1m1-11v2m0 10v1m0 2v1m1-24v4m0 14v1m0 2v1m1-21v1m0 4v4m0 9v1m1-18v2m1 14v1m0 1v1m1-20v1m0 15v1m1-20v1m0 2v2m0 5v3m1-11v2m2-3v1m0 1v2m0 8v1m0 8v2m1-26v1m0 3v1m0 1v5m0 2v3m0 6v2m0 5v1m1-31v1m0 29v1m1-26v1m0 22v1m1-24v1m0 6v1m0 2v1m0 9v1m1-27v1m0 14v1m0 2v1m0 5v1m0 4v1m1-19v4m0 10v1m1-30v1m1 2v1m0 4v1m1-5v1m1-4v1m0 5v1m1-7v1m0 1v4m1-3v1m1 6v1m1-3v1m1-9v1m1 8v1m2-10v1m1 2v1m1-3v1m0 3v5m1-9v2m0 2v1m3-2v1m1-6v1m2 0v2m1 4v1m1-9v1m2 5v2m1-6v1m0 4v2m1 2v1m1-3v1m1-10v1m1-1v1m2 1v1m0 4v1m1 2v1m1-8v1m0 1v1m0 2v2m1-7v1"/><path stroke="#afd1e7" d="M36.5 230v3m1-13v1m1 5v1m0 1v1m1 0v2m0 11v1m1-14v1m0 2v1m0 2v1m1-14v1m0 7v1m1-10v1m1 3v1m0 1v1m0 4v1m1-15v1m0 11v1m0 6v1m1-18v1m0 5v1m0 3v2m0 4v1m1-6v1m1 4v1m1-11v1m0 3v1m1-8v1m0 9v1m1-15v1m0 4v1m0 7v1m1-7v1m0 1v1m1-5v3m1-7v1m0 13v1m1 2v1m1 1v1m1-8v1m0 4v1m1-16v1m0 3v1m1 7v1m0 2v1m1-6v1m1-3v1m0 1v1m1-12v1m0 2v1m0 4v1m0 8v1m1-15v1m0 8v1m0 3v1m2-12v1m0 5v1m0 5v1m1-15v1m0 8v3m0 3v1m1-2v1m1-18v1m0 1v1m0 4v3m1 4v3m1-14v1m0 6v2m0 4v1m1-10v1m0 8v1m1-18v2m0 9v1m1-11v1m0 6v1m0 9v1m1-12v1m0 3v1m1-10v1m0 4v6m0 4v2m1-13v3m0 9v1m1-17v1m0 1v1m0 10v1m0 3v1m1-19v1m0 1v1m0 2v1m0 6v1m1-14v1m0 5v1m1-3v1m0 3v4m0 4v1m0 1v1m1-16v1m0 1v5m0 5v1m0 2v1m1-7v1m0 1v1m2 1v1m0 1v1m1-6v1m0 5v1m1-14v3m2-6v1m0 2v1m0 3v1m1 3v1m0 3v1m1-5v1m1 0v1m2-6v1m0 7v1m1-10v1m0 1v3m2-15v1m0 5v2m0 2v1m0 4v1m1-15v4m0 4v1m0 3v1m0 2v1m1 0v2m2-15v1m0 2v1m1 9v1m0 2v1m2-16v1m0 6v1m0 3v1m1 3v1m1-21v1m0 11v1m0 1v1m1-15v1m0 4v1m0 2v1m0 11v1m4-6v2m1-19v1m0 6v2m0 11v2m1-15v3m1-8v1m0 1v2m0 2v1m0 13v1m1-9v1m0 7v1m1-12v1m0 2v1m0 3v1m0 2v1m1-16v3m1-3v1m0 12v1m2-17v1m0 6v2m0 7v1m1-2v1m1-16v1m0 1v1m1-3v2m1 15v2m1-4v2m1-2v1m1-15v1m0 13v1m0 1v1m1-9v1m0 6v1m1-2v1m0 1v1m3-17v1m0 8v2m1 2v1m0 3v1m1-4v1m0 1v3m1-20v1m0 13v3m1-22v2m0 4v3m1 12v1m0 2v1m1-7v1m1-18v1m0 2v1m0 1v1m1-9v1m0 1v1m0 7v2m1-13v2m2 3v1m0 3v1m0 17v1m1-29v1m0 14v2m0 7v1m1 4v1m1-30v1m1 0v2m1-7v1m1-3v2m0 1v1m0 2v2m1-5v1m2-3v1m1 2v1m1 3v1m1-6v1m2-1v1m1 6v1m1-5v1m1-2v2m1-2v1m0 2v1m1-5v1m0 4v1m1-3v1m0 1v1m2-10v1m0 6v2m1-8v1m0 8v1m1-11v1m2 2v1m0 6v1m1-12v1m0 4v1m1-2v1m0 2v1m2 1v1m2-1v1m2-6v1m1-4v1m0 8v1m2-4v1m0 2v2m1-12v1"/><path stroke="#97c6df" d="M36.5 233v1m0 2v1m1-15v1m0 10v1m1-16v4m0 1v3m0 3v3m1-11v1m0 4v3m0 2v1m0 6v1m1-12v2m1-3v4m0 1v1m0 4v1m2-11v1m0 9v1m0 1v1m1-20v2m0 10v1m1 2v1m1-3v1m0 4v1m2 1v1m1-16v1m0 9v1m0 2v1m1-18v1m0 2v1m0 1v1m0 2v1m0 4v1m0 3v1m1-19v1m0 9v1m0 1v1m1 1v1m0 3v1m1-17v1m0 15v1m1-10v1m0 4v1m1 0v1m1-5v1m1-8v3m0 12v1m1-4v1m1-15v1m0 2v4m1-6v1m0 10v1m0 5v1m1-13v2m0 1v2m1-7v2m0 7v3m1-2v3m1-16v1m0 2v1m0 7v1m1-6v1m0 8v2m1-17v1m0 5v1m0 4v1m1-12v1m0 10v1m0 4v1m1-13v1m1 0v4m0 2v4m1-12v1m0 1v1m0 1v1m0 6v1m1-13v1m0 5v1m1-9v2m0 3v1m0 5v1m0 3v1m1-10v2m1-7v1m0 9v1m0 2v1m1-12v1m1-3v1m0 1v1m0 3v1m0 6v2m1-16v1m0 1v1m1 9v1m1-12v1m0 13v1m1-14v1m1-6v3m0 9v1m0 3v2m1 2v1m1-3v1m2-5v1m1 0v1m1-11v2m0 9v1m3-12v1m0 1v1m1 8v2m1-15v1m0 5v2m1 0v1m0 3v1m1-1v1m0 3v1m1-19v5m0 2v2m0 6v1m0 2v1m1-1v1m3-15v2m0 7v1m0 1v3m3-11v4m1 6v1m1-16v2m0 5v2m0 3v1m1 1v1m1 1v1m2-4v2m2-19v3m1 13v1m1-15v1m0 5v2m1-16v1m0 5v1m2 0v1m0 2v1m0 15v1m1-1v1m2-18v1m0 13v1m1 3v1m1-24v1m0 6v1m0 2v1m1 7v1m2 2v1m0 1v1m2-4v1m1-7v1m0 4v1m1 0v1m3-19v1m0 1v1m0 15v1m1-2v2m2-19v1m1 0v2m0 14v1m0 3v1m2-6v1m0 3v1m1-19v1m1-7v1m0 25v1m1-27v2m0 2v1m1 17v1m0 1v1m1-15v2m1-14v2m0 7v1m0 14v1m0 1v1m2-32v1m1 2v2m1-3v1m1-1v2m3 5v1m2-9v1m0 2v2m1 2v1m2-7v3m0 2v1m1-4v1m0 2v1m3-4v1m2 1v1m3-5v1m0 2v1m2-7v1m0 6v1m3-4v1m2-6v1m0 6v1m1-7v1m0 5v1m1-7v1m0 5v1m1 3v1m1-6v1m1 1v1m1-5v1m1-1v2m1 2v1"/><path stroke="#7ab6d9" d="M36.5 219v1m0 9v1m0 4v2m1-15v1m0 1v1m1-2v1m0 9v1m0 3v1m1-12v1m1-7v1m0 13v2m1-12v3m0 9v1m1-11v1m0 3v1m1 3v2m0 2v1m1-17v1m0 7v1m0 2v1m1-12v1m0 3v1m0 9v1m1-3v1m1-1v1m1-3v1m1 0v1m1-12v2m0 3v2m0 6v1m1-13v1m0 7v1m0 1v1m0 4v1m2-2v1m1-3v1m0 1v1m2-4v1m2 2v1m1-14v1m0 4v1m0 2v1m0 5v1m1-9v1m1-8v2m0 8v1m0 4v1m1-8v1m1 0v1m1 2v1m0 2v1m1-13v1m0 10v1m1-14v2m1 9v1m1-7v1m1-4v1m1 0v1m0 3v3m1-8v2m0 2v1m1-6v1m0 6v1m0 4v1m1-14v1m0 2v1m0 3v1m1-5v1m0 7v2m1-14v1m0 9v1m1 5v1m1-14v1m0 10v1m3-1v1m2-3v1m3 3v1m1 0v1m1-13v1m0 9v1m1-3v1m2-11v1m4 11v1m4-3v1m0 2v1m1-5v1m1 2v2m2-14v1m0 10v3m1-1v1m1-19v1m0 3v1m0 3v1m1-4v2m0 10v2m1-5v1m0 2v1m5 0v1m1-5v1m1-18v1m0 1v1m0 7v2m0 6v1m1-7v2m0 5v2m1-2v1m1 0v1m2-16v1m0 1v1m2-6v1m0 4v2m0 1v3m0 5v1m0 3v1m6-9v4m2 3v1m1-4v1m1-17v1m0 19v1m1-3v1m2-19v1m0 19v1m2-3v2m3-3v1m1-21v2m1 19v1m1-20v1m0 18v1m1-24v2m0 21v1m1-23v1m0 4v1m1-11v1m2-3v1m5 5v1m1-6v2m3 1v2m1-2v2m1-5v2m2 1v1m1 0v1m1-7v1m0 2v1m1-4v1m0 1v1m1-4v2m0 3v1m1-2v2m0 1v2m1-9v1m0 5v1m2-4v1m1-5v2m1 2v1m1-4v1m0 8v1m3-5v1m1-8v1m1 4v2m1 1v1"/><path stroke="#5fa6d1" d="M36.5 223v1m1 8v1m2-11v1m0 1v1m0 7v1m0 4v1m2-6v1m1-11v1m0 15v1m5-5v2m1 2v1m1-14v1m0 9v1m1-1v2m1-17v2m2 9v1m0 3v1m1-14v1m0 12v1m2-12v1m3-3v1m1 2v2m0 11v1m1-6v4m1-10v1m2 7v2m1-10v1m1-3v3m1 7v2m1-10v1m1-2v1m1 6v1m0 1v1m1-9v2m0 4v1m1-9v1m0 3v1m0 4v2m1-12v2m1-2v2m1-2v1m0 12v1m2-4v1m1-14v1m2 15v1m1-16v1m0 7v1m3 3v1m0 1v1m2-1v2m1-9v1m0 6v1m1 0v1m1-1v1m3-11v1m2 7v2m1-1v2m1-2v2m6-12v1m2-6v1m8 16v1m1-10v2m2-11v2m0 15v1m3-15v1m2-7v1m1 21v1m2-2v1m5-2v1m1-2v1m4 0v1m1-2v1m2-2v3m2 1v1m1-21v1m0 3v2m0 7v1m0 7v1m2-22v2m0 17v1m1-23v1m1 19v1m1-29v2m9-1v1m0 3v2m10-5v1m3-4v1m1 4v1m0 1v1m1-8v2m3 2v1m1-5v1m0 3v1m7-7v1m0 3v1m0 2v1"/><path stroke="#4896c8" d="M37.5 230v2m1 1v1m1-11v1m0 12v1m2-3v1m1-2v1m2-6v1m0 7v1m4-5v1m1 3v1m2-14v1m0 1v1m1 8v1m0 1v1m1-15v1m1 4v1m2-8v1m0 15v1m3-8v2m0 3v1m1-12v1m0 3v2m3 5v1m1-12v2m1 1v1m1 7v1m0 2v1m1-1v1m3-4v1m1 1v1m1-11v1m0 3v1m1 4v1m0 2v1m2-16v1m1 2v1m0 1v1m6 9v1m3-5v1m1 0v1m1-8v1m1 7v1m4-14v1m1 11v1m0 2v1m5-3v2m6-13v1m8 9v3m1-12v1m0 11v1m6-1v1m1-21v1m10 18v1m4 0v1m16-32v1m1 2v1m9-1v1m0 1v1m2-5v1m1-1v2m3-2v2m0 2v1m1-3v2m0 1v1m3 0v1m1-9v1m0 3v1m1-3v1m2 6v1m2-10v1m3 1v1m0 1v2"/><path stroke="#3484bf" d="M36.5 224v1m0 3v1m1-5v2m1 9v1m3-3v1m1-11v2m0 5v1m0 1v1m2 0v1m1-12v1m3 10v1m1-8v1m0 2v1m0 1v1m3 3v1m1-9v4m2 4v1m1-11v1m0 8v1m1-2v1m3-10v1m3 7v1m14 2v1m1-11v1m0 9v1m0 2v1m3-14v1m0 3v1m3 5v1m1 1v1m1 0v1m6-13v1m0 8v1m12-10v2m0 11v1m2-5v2m13-1v1m1 1v1m10-1v1m3-1v1m6-6v1m14-24v1m0 1v1m7-2v1m10 1v1m1-5v1m1-1v2m2-6v2m2 4v1"/><path stroke="#2070b4" d="M36.5 220v1m0 1v1m2 11v1m1 0v1m1-10v1m2 4v1m0 2v1m0 2v1m2-12v2m1-4v1m1 9v1m0 1v1m2 0v1m1-11v2m0 1v1m2-7v1m2-2v3m1-3v1m0 2v1m2 8v1m6-8v2m4 5v1m9 0v1m1-10v1m2-6v3m3-1v1m4 10v2m4-2v2m3 0v1m12-3v1m16 0v1m1 1v1m13-2v1m4-1v2m1-19v1m0 1v1m0 13v1m3-20v1m11-7v1m8-4v2m4-3v1m1 2v2m5-5v2m3 5v1m5-9v1"/><path stroke="#125ea6" d="M36.5 225v1m3 7v1m3 1v2m2-15v1m0 11v2m1-13v1m3 10v1m5-9v1m1-2v1m2 3v1m4 4v1m3-2v1m3 2v1m9-4v1m6-11v1m11 0v2m21-1v1m0 10v2m6-1v1m1-1v1m1-3v1m18-11v1m3-6v1m1-5v1m0 2v1m0 19v1m7-25v1m1-3v1m19-7v1m4-1v1m0 5v1m5-7v1"/><path stroke="#084c95" d="M36.5 227v1m1-2v1m2 7v1m5-10v1m7 7v1m3-10v1m2-2v1m4 13v1m11-4v2m11 1v1m11-2v1m18-2v1m0 1v1m28-17v1m0 5v2m0 2v1m26-21v1m5 0v1m3-6v1"/><path stroke="#083979" d="M36.5 221v1m0 4v1m1 0v3m3-10v6m4-3v2m2 10v1m2-1v2m3-3v3m4-1v3m1-18v2m0 3v3m1 5v4m2-3v2m1-2v2m13-1v2m2-4v2m3 0v2m3-12v3m1 6v2m10-1v1m1 0v1m11-2v3m7-3v1m2-24v4m0 3v5m8 11v2m18-12v1m0 2v2m0 3v2m0 1v3m3-22v2m1-3v2m0 18v2m7-31v7m1-4v2m14-5v3m5-3v4m3-4v3m1-3v5m2-6v4"/></g>
<rect x="82" y="198.2" width="61.7" height="145" fill="none" stroke="#1a1a1a" stroke-width="0.9" stroke-dasharray="2.8 1.6"/>
<rect x="35.5" y="197.75" width="144.9" height="145.45" fill="none" stroke="#8a8a8a" stroke-width="1"/>
<path d="M36.3 343.7v2.2M50.52 343.7v1.4M64.74 343.7v2.2M78.96 343.7v1.4M93.18 343.7v2.2M107.4 343.7v1.4M121.62 343.7v2.2M135.84 343.7v1.4M150.06 343.7v2.2M164.28 343.7v1.4M178.5 343.7v2.2M35 335.95h-1.4M35 299.3h-2.2M35 262.65h-1.4M35 226h-2.2" stroke="#666" stroke-width="0.8" fill="none"/>
<text x="36.8" y="352.1" text-anchor="middle" font-size="7.4" fill="#333">0.0</text>
<text x="65.24" y="352.1" text-anchor="middle" font-size="7.4" fill="#333">0.2</text>
<text x="93.68" y="352.1" text-anchor="middle" font-size="7.4" fill="#333">0.4</text>
<text x="122.12" y="352.1" text-anchor="middle" font-size="7.4" fill="#333">0.6</text>
<text x="150.56" y="352.1" text-anchor="middle" font-size="7.4" fill="#333">0.8</text>
<text x="179" y="352.1" text-anchor="middle" font-size="7.4" fill="#333">1.0</text>
<text x="32" y="302" text-anchor="end" font-size="7.4" fill="#333">2.0</text>
<text x="32" y="228.7" text-anchor="end" font-size="7.4" fill="#333">2.5</text>
<text transform="translate(14.5 270.48) rotate(-90)" text-anchor="middle" font-size="8.6">Bandgap (eV)</text>
<text transform="translate(108.25 363.8) scale(1.085 1)" text-anchor="middle" font-size="8" letter-spacing="0.2"><tspan>x of (</tspan><tspan>Cs</tspan><tspan dy="1.8" font-size="6.0">3</tspan><tspan dy="-1.8">Sb</tspan><tspan dy="1.8" font-size="6.0">2</tspan><tspan dy="-1.8">Br</tspan><tspan dy="1.8" font-size="6.0">9</tspan><tspan dy="-1.8">)</tspan><tspan dy="1.8" font-size="6.0">1 − x</tspan><tspan dy="-1.8">(</tspan><tspan>Cs</tspan><tspan dy="1.8" font-size="6.0">3</tspan><tspan dy="-1.8">Bi</tspan><tspan dy="1.8" font-size="6.0">2</tspan><tspan dy="-1.8">Br</tspan><tspan dy="1.8" font-size="6.0">9</tspan><tspan dy="-1.8">)</tspan><tspan dy="1.8" font-size="6.0">x</tspan></text>
<rect x="184.6" y="197.75" width="8.8" height="145.45" fill="url(#cbg)" stroke="#777" stroke-width="0.7"/>
<path d="M193.4 343.2h2.2M193.4 260.09h2.2M193.4 301.64h1.4M193.4 218.53h1.4" stroke="#666" stroke-width="0.8" fill="none"/>
<text x="196.6" y="345.9" font-size="7.4" fill="#333">0</text>
<text x="196.6" y="262.79" font-size="7.4" fill="#333">100</text>
<text transform="translate(213.4 270.48) rotate(90)" text-anchor="middle" font-size="8.3">Number of pixels</text>
<text x="0.2" y="201.3" font-size="13.6" font-weight="bold" fill="#000">d</text>
<text x="112.7" y="332.5" text-anchor="middle" font-size="8.8">N = 129,378</text>
<g><text x="113.8" y="277.9" text-anchor="middle" font-size="8.9">Transition</text><text x="113.8" y="288.5" text-anchor="middle" font-size="8.9">region</text></g>
<rect x="285.6" y="196.95" width="85.9" height="145.25" fill="#efefef"/>
<g fill="none" stroke-width="1" filter="url(#sb)"><path stroke="#f0f6fd" d="M271.5 226v3m0 4v2m0 47v2m0 2v2m0 2v2m1-75v3m0 1v3m0 2v1m0 51v2m0 3v2m0 1v5m1-59v1m0 2v2m0 7v1m0 28v1m0 10v8m1-74v5m0 2v2m0 1v4m0 64v3m0 2v1m1-76v2m0 4v2m0 20v1m0 14v1m0 13v3m0 1v8m0 1v1m1-69v5m0 1v2m0 43v2m0 9v6m1-69v2m0 2v2m0 1v3m0 52v1m0 5v5m1-73v2m0 4v1m0 4v3m0 19v1m0 21v7m0 5v1m0 2v5m1-67v1m0 2v2m0 3v1m0 7v4m0 4v1m0 3v1m0 11v2m0 5v2m0 2v1m1-53v4m0 7v1m0 15v3m0 5v3m0 9v3m0 2v2m0 2v7m1-70v4m0 8v5m0 8v2m0 1v1m0 10v1m0 1v1m0 6v2m0 1v10m0 2v4m1-61v4m0 2v5m0 4v3m0 2v1m0 2v1m0 6v9m0 3v10m0 5v2m1-71v5m0 52v6m0 9v8m1-83v1m0 1v2m0 4v1m0 59v5m0 6v7m1-85v1m0 3v3m0 73v4m0 2v4m1-95v1m0 3v2m0 3v6m0 6v1m0 8v1m0 52v2m1-74v1m0 6v5m0 4v1m0 15v1m0 6v1m0 4v1m0 28v1m0 2v3m1-82v2m0 9v1m0 2v1m0 25v1m0 37v2m0 2v3m1-64v14m0 5v4m0 7v4m0 17v3m0 2v1m1-70v3m0 1v6m0 2v2m0 7v6m0 3v3m0 1v3m0 8v1m0 16v1m0 2v3m1-71v1m0 5v1m0 17v1m0 6v1m0 3v3m0 10v2m0 18v6m1-75v2m0 8v2m0 63v1m1-50v3m0 2v6m0 3v2m0 1v2m0 2v1m0 8v1m0 16v1m1-78v3m0 3v2m0 2v6m0 58v5m1-66v3m0 2v2m0 1v5m0 1v2m0 1v3m0 6v3m0 2v7m0 19v2m0 5v2m0 2v1m1-53v3m0 2v4m0 6v2m0 1v4m0 22v2m1-31v11m0 2v1m0 11v2m1-52v4m0 2v7m0 2v3m0 3v1m0 9v3m0 29v1m1-67v3m0 2v4m0 51v2m1-55v7m0 1v1m0 2v4m0 13v3m0 25v1m1-71v3m0 11v1m0 15v1m0 39v4m1-67v2m0 8v1m0 1v1m0 3v1m0 22v2m0 16v4m1-65v3m0 1v2m0 8v2m0 45v1m0 5v2m0 3v1m1-71v1m0 10v2m0 2v3m0 13v1m0 1v4m0 26v1m1-54v3m0 4v3m0 6v13m0 26v2m1-50v1m0 16v1m0 8v1m0 7v1m0 3v3m0 2v2m0 2v1m0 2v1m1-58v3m0 2v4m0 2v4m0 3v3m0 1v10m0 4v1m0 14v1m1-47v2m0 11v3m0 6v4m0 5v3m0 13v1m1-51v2m0 1v3m0 2v1m0 4v3m0 2v1m0 3v4m0 2v2m0 7v2m0 2v1m0 7v1m1-43v5m0 4v5m0 4v2m0 22v1m1-51v4m0 3v1m0 19v4m0 21v1m1-54v3m0 1v1m0 3v1m0 4v2m0 5v6m0 29v2m1-60v3m0 2v8m0 7v3m0 5v2m0 23v4m1-63v1m0 1v6m0 49v1m0 7v1m1-45v3m0 14v6m0 4v2m0 4v1m0 2v4m1-46v5m0 2v9m0 2v9m0 13v1m0 5v1m0 1v2m1-65v3m0 1v2m0 56v2m0 3v2m1-53v4m0 2v13m0 1v2m0 25v1m1-31v7m0 1v3m0 14v5m1-43v2m0 3v1m0 1v10m0 2v3m0 2v1m0 11v3m1-35v1m0 2v1m0 1v3m0 1v4m0 2v5m0 19v2m1-49v1m0 2v2m0 4v2m0 4v3m0 1v1m0 19v2m0 2v4m1-51v2m0 14v1m0 1v1m0 33v1m1-41v1m0 14v1m0 20v1m1-39v1m0 2v1m0 5v2m0 1v2m0 1v3m0 19v1m1-45v2m0 18v3m0 24v1m1-39v8m0 24v7m1-47v2m0 1v5m0 3v1m0 6v2m0 8v1m0 17v1m1-46v2m0 8v5m0 2v1m0 3v2m0 19v1m1-40v1m0 9v3m0 25v1m0 2v7m1-39v12m0 6v1m0 13v2m0 2v1m1-51v9m0 8v1m0 29v4m1-51v2m0 1v2m0 1v3m0 5v3m0 3v6m0 5v1m0 6v1m0 6v1m1-36v1m0 4v2m0 2v3m0 30v1m1-45v2m0 2v11m0 2v1m0 9v2m0 10v2m1-54v5m0 1v3m0 46v1m1-50v2m0 1v6m0 37v2m1-44v4m0 2v4m0 4v2m0 12v1m0 4v4m0 2v3m1-50v3m0 1v5m0 3v1m0 1v1m0 7v3m0 1v1m0 2v1m0 22v1m1-41v5m0 3v1m0 4v8m0 16v2m1-56v4m0 2v3m0 10v1m0 27v2m0 2v1m0 1v3m1-58v6m0 47v1m0 2v2m1-50v6m0 2v1m0 40v2m1-50v1m0 3v1m0 6v2m0 2v3m0 13v2m0 13v1m1-47v8m0 1v2m0 13v3m0 23v3m1-43v8m0 6v2m0 7v1m0 11v2m0 2v2m1-51v1m0 3v1m0 1v3m0 3v4m0 3v1m0 11v2m0 13v2m0 1v3m1-51v4m0 4v3m0 28v1m0 4v1m1-49v3m0 1v3m0 7v3m0 3v7m0 22v2m1-50v4m0 9v2m0 31v4m0 2v2m1-52v7m0 3v2m0 5v5m0 2v1m0 18v2m0 2v2m1-47v5m0 1v6m0 3v9m0 21v1m1-53v2m0 17v1m0 27v2m0 1v2m0 2v1m1-50v12m0 22v12m1-52v3m0 1v4m0 5v4m0 3v4m0 23v5m1-36v2m0 8v3m0 3v1m0 15v6m1-55v4m0 4v4m0 3v4m0 4v3m0 2v2m0 1v1m0 6v1m0 4v6m0 2v4m1-58v7m0 6v1m0 4v1m0 34v4m1-47v3m0 11v4m0 29v2m1-48v2m0 10v3m0 2v4m0 1v1m0 16v4m0 2v1m1-57v5m0 3v1m0 1v5m0 8v1m0 6v1m0 15v2m0 1v1m0 3v6m1-63v2m0 3v6m0 9v5m0 1v4m0 20v2m0 6v1m1-56v4m0 7v3m0 1v1m0 3v2m0 3v4m0 1v1m0 5v2m0 7v6m0 3v3m1-57v1m0 4v1m0 3v3m0 12v1m0 31v1m1-65v1m0 3v1m0 3v1m0 55v1m1-55v6m0 3v1m0 3v1m0 2v2m0 6v1m0 24v1m1-49v2m0 14v3m0 3v6m0 11v4m0 3v2m0 3v4m1-62v3m0 1v4m0 1v4m0 3v1m0 1v2m0 1v3m0 26v1m0 5v2m1-53v7m0 3v5m0 1v4m0 30v1m0 3v2m0 1v3m1-67v2m0 3v8m0 2v2m0 33v4m0 2v2m0 3v2m1-68v2m0 3v4m0 1v1m0 6v1m0 8v4m0 4v1m0 29v5m1-71v2m0 3v1m0 4v1m0 23v3m0 4v2m0 4v3m1-56v6m0 42v1m0 9v3m1-62v4m0 4v2m0 54v3m1-55v1m0 2v3m0 1v3m0 4v2m0 16v1m0 6v10m1-57v3m0 1v1m0 4v6m0 2v1m0 4v1m0 6v1m0 2v5m0 3v7m1-42v1m0 5v2m0 6v1m0 32v5m1-54v2m0 2v10m0 16v1m0 5v2m0 4v3m0 2v4m1-53v1m0 1v5m0 7v1m0 29v4m0 2v4m1-50v3m0 4v2m0 1v9m0 3v1m0 5v2m0 2v1m0 3v2m0 2v1m1-55v9m0 41v1m0 1v3m1-56v10m0 14v1m0 16v2m0 13v4m1-59v2m0 2v2m0 43v1m0 9v1m1-64v2m0 3v2m0 2v1m0 5v2m0 40v1m0 1v5m0 4v2m1-59v3m0 2v7m0 35v1m0 2v1m0 2v6m1-61v3m0 1v2m0 2v4m0 3v1m0 11v3m0 9v4m0 2v1m1-53v3m0 2v4m0 2v1m0 2v1m0 9v1m0 28v6m0 2v2m1-61v4m0 1v2m0 1v4m0 8v2m0 4v1m0 21v1m0 1v1m0 1v1m1-35v2m0 1v3m0 3v1m0 17v8m1-45v8m0 30v1m0 8v2m1-60v1m0 3v9m0 2v8m0 5v3m0 5v15m1-55v4m0 52v1m0 10v2m1-67v6m0 7v1m0 32v1m0 1v1m0 3v1m0 3v3m0 1v1m1-55v3m0 50v1m0 4v2m1-64v9m0 20v1m0 4v1m0 2v1m0 8v3m1-51v1m0 2v1m0 3v1m0 3v1m0 2v1m0 14v2m0 14v1m0 2v4m1-52v3m0 2v3m0 1v3m0 11v3m0 18v4m1-42v1m0 6v1m0 21v1m0 14v2m1-52v2m0 2v6m0 4v1m0 24v4m0 3v1m1-53v4m0 2v2m0 1v1m0 39v2m0 3v3m1-43v6m0 4v2m0 19v3m0 5v1m1-51v3m0 38v1m0 1v4m0 5v3m1-61v8m0 40v5m1-41v1m0 4v1m0 4v1m0 14v1m0 15v1m0 3v1m1-43v13m0 6v2m0 4v7m1-33v2m0 6v3m0 12v2m0 8v5m0 1v2m1-45v5m0 1v6m0 11v1m0 7v2m0 6v2m0 2v2m1-40v5m0 23v5m0 2v4m1-39v1m0 35v2m0 2v2m1-38v1m0 22v1m0 4v1m1-49v1m0 9v1m0 40v1m0 5v3m1-52v2m0 32v1m0 4v2m1-41v4m0 3v1m0 30v6m1-43v4m0 12v2m0 1v2m0 4v1m0 3v2m0 1v3m0 1v5"/><path stroke="#e2edf8" d="M271.5 229v4m0 5v1m0 13v1m0 27v2m0 6v2m1-63v4m0 4v1m0 7v1m0 33v1m0 2v3m0 2v1m1-53v2m0 2v3m0 2v2m0 4v2m0 2v1m0 4v3m0 8v2m0 2v1m0 1v5m0 1v4m1-57v1m0 57v1m0 9v1m0 3v2m1-73v4m0 2v1m0 3v3m0 12v1m0 1v1m0 12v1m0 1v1m0 5v2m0 4v1m0 3v1m1-51v1m0 23v1m0 7v7m0 2v2m0 2v3m0 3v3m1-61v2m0 6v3m0 3v3m0 10v2m0 5v2m0 2v4m0 8v10m0 1v5m1-66v4m0 1v4m0 3v1m0 16v2m0 1v1m0 11v3m0 3v3m0 7v5m1-58v2m0 2v3m0 1v7m0 4v1m0 2v1m0 1v3m0 1v1m0 3v7m1-26v1m0 14v2m0 1v2m0 3v1m0 3v1m0 2v2m1-37v1m0 6v1m0 4v2m0 7v1m0 3v6m1-31v1m0 2v1m0 3v2m0 4v6m0 9v3m1-49v1m0 20v3m0 34v1m0 6v2m1-74v1m0 2v1m0 2v1m0 1v1m0 16v1m0 40v1m0 6v1m0 3v1m1-77v3m0 3v3m0 64v3m0 2v1m0 4v2m1-90v1m0 1v1m0 2v3m0 6v1m0 4v1m0 1v1m0 5v2m0 1v2m0 1v2m0 40v1m0 3v3m1-55v4m0 10v1m0 1v6m0 6v1m0 2v6m0 4v2m0 5v8m1-74v9m0 4v1m0 7v2m0 14v1m0 1v1m0 6v1m0 1v3m0 5v2m0 17v1m0 2v2m1-47v5m0 4v7m0 4v1m0 2v1m0 11v2m0 3v2m1-55v4m0 2v1m0 12v1m0 3v1m0 1v3m0 2v1m0 1v1m0 3v1m0 7v1m0 2v1m1-58v17m0 1v1m0 3v2m0 1v3m0 3v1m0 11v1m0 16v1m1-67v8m0 2v1m0 12v1m0 43v3m0 2v1m1-38v3m0 2v1m0 5v4m0 5v1m0 2v2m0 5v3m0 2v1m1-69v2m0 6v1m0 7v1m0 6v7m0 10v2m0 13v3m0 4v4m1-54v1m0 5v1m0 6v1m0 4v1m0 3v2m0 7v4m0 6v2m0 9v1m0 3v1m0 2v2m1-35v1m0 4v2m0 3v2m0 14v1m1-15v4m0 5v2m1-28v1m0 3v3m0 1v1m0 3v1m0 3v2m0 22v1m1-57v2m0 27v4m0 16v2m1-44v2m0 4v3m0 3v2m0 3v2m0 3v2m0 12v1m0 9v1m1-67v1m0 2v8m0 9v1m0 5v1m0 5v2m0 1v2m0 22v5m0 2v1m1-61v8m0 3v3m0 1v4m0 5v6m0 5v2m0 2v1m0 12v3m1-55v4m0 3v1m0 2v1m0 10v2m0 31v1m0 1v5m1-52v2m0 3v7m0 3v3m0 8v1m0 15v1m0 1v3m0 2v1m1-24v2m0 22v2m1-47v4m0 4v3m0 4v1m0 1v1m0 3v4m0 3v1m0 3v1m0 1v1m0 1v1m0 3v2m0 5v2m1-48v2m0 21v1m0 2v1m0 1v2m0 1v11m1-18v3m0 3v13m1-48v1m0 3v2m0 1v1m0 2v1m0 6v3m0 4v2m0 2v3m0 3v1m0 2v2m0 1v2m0 4v1m1-37v1m0 2v1m0 11v2m0 4v1m0 6v3m0 3v3m1-42v2m0 6v1m0 4v6m0 4v3m0 12v6m1-48v1m0 3v1m0 5v1m0 3v1m0 6v3m0 6v1m0 18v1m1-55v2m0 8v1m0 3v3m0 3v1m0 3v1m0 2v1m0 4v1m0 12v5m1-58v1m0 6v2m0 2v2m0 1v2m0 39v1m0 1v2m0 4v1m1-21v4m1-28v2m0 9v2m0 9v3m0 9v1m0 1v1m0 3v1m0 1v1m1-57v1m0 2v3m1 26v1m0 23v1m1-23v1m0 3v2m0 7v5m1-36v3m0 12v2m0 6v1m0 2v2m0 4v1m1-30v2m0 17v1m0 14v4m1-46v2m0 17v5m0 12v2m0 2v2m1-45v1m0 3v7m0 2v1m0 31v5m1-20v1m0 11v4m1-37v2m0 8v1m0 6v2m0 15v2m1-42v7m0 5v3m0 2v1m0 3v1m0 21v2m1-30v2m0 3v2m0 5v1m0 10v1m1-38v1m0 5v3m0 1v2m0 1v3m0 2v1m0 2v2m0 2v1m0 1v1m0 10v6m1-30v2m0 6v9m0 5v3m0 1v1m1-38v9m0 3v3m0 4v1m0 7v2m0 6v2m0 1v2m1-20v6m0 1v2m0 10v1m0 2v2m1-41v1m0 3v4m0 1v1m0 2v5m0 3v2m0 15v1m1-42v1m0 11v3m0 12v2m0 3v1m0 6v1m1-28v2m0 3v8m0 21v1m1-26v1m0 6v1m0 3v5m0 3v2m1-47v1m0 3v5m0 18v2m0 16v1m0 3v1m1-40v2m0 1v18m0 10v1m0 4v1m1-38v2m0 10v4m0 2v6m0 1v4m1-32v1m0 1v1m0 3v2m0 3v2m0 3v1m0 4v2m0 15v5m1-35v3m0 13v2m0 2v4m0 3v2m0 2v1m1-45v1m0 8v1m0 1v1m0 9v2m0 17v2m1-47v4m0 10v1m0 2v1m0 5v3m0 5v3m1-23v8m0 1v4m0 23v4m1-47v3m0 3v1m0 2v1m0 2v2m0 3v3m0 12v1m0 5v3m1-34v1m0 2v1m0 4v2m0 4v2m0 3v1m0 13v3m0 4v2m1-24v4m0 1v2m0 1v1m0 5v1m0 3v1m1-44v3m0 16v5m0 2v1m0 2v1m0 2v1m0 3v1m0 6v2m0 2v1m1-44v1m0 2v1m0 3v6m0 1v2m0 6v4m0 4v1m0 1v3m0 1v4m1-41v2m0 3v2m0 3v1m0 1v1m0 7v2m0 12v2m0 4v2m1-44v1m0 2v2m0 3v1m0 2v3m0 4v5m0 17v2m0 4v2m1-43v3m0 2v5m0 8v1m0 4v11m0 1v1m1-36v1m0 18v2m0 3v1m0 9v3m0 2v1m1-50v5m0 1v2m0 7v2m0 1v1m0 28v1m1-33v15m0 4v3m1-16v1m0 3v1m0 3v1m0 13v1m1-14v4m0 6v1m0 3v1m1-17v2m0 2v2m0 1v4m0 6v2m1-40v1m0 1v2m0 1v2m0 8v2m0 3v2m0 7v2m0 7v1m1-40v1m0 3v3m0 31v2m0 3v1m1-23v1m0 3v2m0 4v1m0 9v2m1-51v3m0 7v4m0 2v2m0 1v6m0 1v1m0 3v3m0 3v1m0 3v1m0 2v1m0 1v1m0 1v1m1-46v2m0 1v3m0 1v2m0 5v1m0 4v2m0 7v2m0 6v3m1-31v3m0 2v3m0 6v5m0 2v1m0 3v3m0 6v3m1-53v3m0 4v1m0 3v2m0 1v4m0 3v2m0 1v5m0 8v1m0 16v1m1-63v3m0 1v3m0 1v2m0 3v1m0 5v1m0 37v1m0 1v4m1-44v3m0 1v2m0 13v6m0 6v1m0 1v6m1-20v11m0 9v1m0 1v1m1-45v3m0 4v1m0 3v2m0 3v3m0 17v1m0 1v5m1-31v6m0 22v2m0 1v3m1-48v2m0 2v5m0 10v1m0 1v1m0 19v2m0 2v3m1-64v3m0 6v1m0 2v1m0 10v1m0 15v1m0 4v1m0 2v1m0 6v2m0 4v2m1-64v3m0 1v1m0 4v5m0 16v2m0 3v4m0 2v4m1-47v1m0 40v1m0 1v9m1-55v1m0 2v1m0 2v2m0 6v1m0 39v2m0 3v1m1-51v2m0 7v4m0 2v2m0 4v6m0 3v1m0 1v6m1-42v2m0 1v1m0 12v1m0 1v1m0 4v1m0 1v2m0 5v3m1-34v1m0 3v1m0 2v2m0 2v2m0 1v3m0 23v3m0 2v1m1-47v2m0 10v1m0 12v3m0 1v1m0 3v1m0 2v1m0 1v2m1-43v1m0 8v1m0 4v1m0 9v2m0 3v3m0 9v2m0 4v2m1-37v1m0 9v3m0 11v3m1-41v2m0 1v2m0 28v1m0 3v2m0 1v1m1-41v2m0 5v3m0 5v1m0 17v1m0 6v6m1-49v3m0 6v2m0 31v1m0 1v1m0 4v4m1-61v3m0 5v1m0 3v1m0 2v1m0 18v1m0 6v2m0 6v1m0 4v1m1-34v3m0 31v1m0 4v2m1-49v2m0 4v3m0 1v1m0 3v7m0 3v9m1-37v2m0 8v5m0 27v2m0 6v2m1-55v1m0 7v4m0 3v1m0 2v1m0 2v1m0 1v1m0 4v2m0 6v2m0 3v3m0 3v1m1-32v1m0 3v1m0 1v1m0 1v4m0 4v3m0 3v3m1-29v1m0 3v2m0 2v2m0 5v2m0 12v1m0 1v1m0 3v4m1-35v1m0 2v2m0 7v1m1-36v4m0 49v2m0 2v6m1-59v2m0 4v1m0 1v1m0 4v1m0 25v1m0 3v3m0 1v3m0 3v1m1-51v3m0 41v2m0 1v3m0 1v4m1-53v2m0 12v3m0 4v1m0 1v2m0 1v2m1-38v2m0 5v3m0 4v1m0 8v1m0 3v1m0 2v4m0 4v2m0 3v1m1-37v1m0 3v1m0 3v2m0 8v1m0 12v5m0 4v2m0 1v2m1-46v6m0 1v3m0 11v2m0 3v2m0 1v1m0 3v1m1-26v1m0 13v8m0 1v1m0 4v3m1-44v1m0 1v2m0 20v1m0 10v6m1-29v1m0 2v1m0 2v2m0 8v1m0 5v3m0 3v2m0 1v2m1-40v1m0 3v1m0 14v2m0 5v5m1-39v1m0 2v2m0 5v1m0 28v1m1-32v1m0 1v1m0 4v2m0 2v6m0 2v2m0 1v1m0 4v1m0 7v2m0 1v3m1-29v1m0 2v3m0 2v1m0 1v2m1-24v1m0 2v3m0 3v5m0 1v2m0 3v1m0 2v8m0 5v1m1-31v2m0 3v2m0 5v7m0 2v6m1-29v9m0 2v4m0 4v4m0 5v2m1-34v6m0 20v1m0 6v2m1-31v1m0 4v8m0 4v5m0 1v4m1-47v5m0 1v1m0 3v1m0 38v1m0 1v5m1-47v2m0 2v3m0 13v7m0 4v1m0 1v4m1-35v3m0 1v1m0 8v3m0 8v1m0 6v3m1-33v5m0 6v1m0 2v1m0 2v4m0 1v3m0 2v1"/><path stroke="#d4e4f4" d="M271.5 239v1m0 11v1m0 1v1m0 9v2m0 6v3m0 3v3m1-49v4m0 1v1m0 5v1m0 1v1m0 12v2m0 11v1m0 4v2m1-37v2m0 8v2m0 1v1m0 2v1m0 3v8m0 2v2m0 7v1m1-41v1m0 2v1m0 8v1m0 32v1m0 5v2m0 2v1m1-60v1m0 1v1m0 3v1m0 3v2m0 9v1m0 14v1m0 3v1m0 2v1m0 1v2m1-45v8m0 6v2m0 14v1m0 7v2m0 7v3m1-47v3m0 3v1m0 2v3m0 6v1m0 6v2m0 4v1m0 6v1m1-23v2m0 9v2m0 7v1m1-21v2m0 7v3m1-22v3m0 1v1m0 9v1m0 5v1m0 6v3m0 1v2m1-34v1m0 1v4m0 7v1m0 1v3m1-18v2m1-20v1m0 4v2m0 12v1m0 12v2m0 12v1m0 3v1m0 7v6m1-68v2m0 3v1m0 2v2m0 12v2m0 3v2m0 30v1m1-54v1m0 2v2m0 5v4m0 3v1m0 34v5m0 6v1m0 3v2m1-82v1m0 13v1m0 2v1m0 3v1m0 2v2m0 5v1m0 2v4m0 5v1m0 15v1m0 13v1m0 1v3m1-48v2m0 3v3m0 17v2m0 6v1m0 2v1m0 5v2m1-52v1m0 5v1m0 2v3m0 3v2m0 3v3m0 3v2m0 3v1m0 1v1m0 3v1m0 3v1m0 2v1m0 8v3m0 4v1m1-21v2m0 1v1m0 5v5m1-44v2m0 18v1m0 3v2m0 3v3m0 7v1m0 1v2m1-36v1m0 10v5m0 3v1m0 18v1m1-55v1m0 12v3m0 3v1m0 39v2m1-19v1m0 2v2m0 2v5m0 3v2m1-59v2m0 1v1m0 2v1m0 1v1m0 4v1m0 7v7m0 2v1m0 8v1m0 5v1m1-29v1m0 2v1m0 17v1m0 4v1m0 2v1m0 1v1m0 3v1m0 3v3m1-23v1m0 4v3m0 10v1m1-6v1m1-25v3m0 3v1m0 5v3m0 2v1m0 4v2m0 10v5m1-43v2m0 6v2m0 5v1m0 4v1m0 3v2m0 2v1m0 4v3m1-33v3m0 2v3m0 7v8m0 3v1m0 1v1m0 7v1m1-65v2m0 9v1m0 6v1m0 14v1m0 12v2m0 9v1m0 5v2m1-41v2m0 1v2m0 6v5m0 13v1m0 2v1m1-48v3m0 4v2m0 7v1m0 18v1m0 12v2m1-33v3m0 15v1m0 12v1m0 3v2m1-21v3m0 16v3m1-41v1m0 2v1m0 3v1m0 2v1m0 3v1m0 1v1m0 14v1m1-11v2m0 4v1m2-28v2m0 21v3m0 8v1m1-32v2m0 14v1m0 2v1m0 1v3m0 2v1m0 3v1m0 1v1m1-37v6m0 1v4m0 13v1m0 10v1m1-41v2m0 4v1m0 5v1m0 10v2m0 3v1m0 1v1m0 4v1m0 8v4m1-43v1m0 9v1m0 1v1m0 4v4m0 1v2m0 2v1m1-37v2m0 2v1m0 2v1m0 8v1m0 3v1m0 29v1m0 2v1m1-14v1m0 2v1m1-9v1m0 11v1m0 1v1m1-53v2m0 3v1m0 8v1m0 39v1m1-23v2m0 14v7m1-16v1m0 2v1m0 2v1m1-7v2m0 2v1m0 2v1m1-9v1m0 12v1m1-18v1m0 8v3m1-38v1m0 1v1m0 7v2m0 30v2m1-19v1m0 2v1m0 4v2m1-8v3m0 11v1m1-29v1m0 3v2m0 14v1m0 7v4m1-26v3m0 2v5m0 1v1m1-16v1m0 6v2m0 2v2m0 3v2m0 7v1m1-7v3m0 5v1m1-22v2m0 1v1m0 1v2m0 4v1m1 2v2m0 5v3m1-26v2m0 5v1m0 1v1m0 2v2m0 11v2m1-12v3m0 2v1m0 3v1m1-14v1m0 16v1m0 2v1m1-22v4m0 9v1m0 1v1m1-36v2m0 10v4m0 4v1m0 14v1m0 1v3m1-37v1m0 18v1m0 5v1m0 4v1m0 2v1m1-21v2m1-20v1m0 6v3m0 22v1m0 3v1m1-12v2m0 9v2m1-36v1m0 3v2m0 23v1m1-39v2m0 7v1m0 1v2m0 5v1m0 11v1m0 11v1m1-28v1m0 4v1m0 14v3m0 4v1m1-36v2m0 11v1m0 2v2m0 4v1m0 11v1m0 2v1m1-34v1m0 2v1m0 2v1m0 2v1m0 6v1m0 11v1m0 3v1m0 2v1m1-18v1m0 4v2m0 2v1m0 1v3m1-16v2m0 6v1m0 6v1m1-38v2m0 10v1m0 2v3m0 7v4m0 1v1m1-31v3m0 6v1m0 12v3m0 3v4m0 5v1m1-41v2m0 2v3m0 6v1m0 2v1m0 5v1m0 6v3m0 6v1m1-1v1m1-14v3m0 5v1m0 7v2m1-44v1m0 2v1m0 3v3m0 4v1m0 1v2m0 3v1m0 13v1m0 3v1m1-15v1m0 2v1m1-12v3m0 1v3m0 1v1m0 4v1m0 1v3m0 2v1m1-9v1m0 4v1m0 3v1m1-14v2m1-24v1m0 5v2m0 4v2m0 2v1m0 1v1m0 8v1m0 2v7m1-38v3m0 6v1m0 4v1m0 21v1m0 4v1m1-21v3m0 2v1m0 2v1m0 1v1m0 3v1m1-31v2m0 13v1m0 3v3m0 1v1m0 1v1m0 6v1m1-43v1m0 3v1m0 14v7m0 2v1m0 3v2m1-6v3m1-36v2m0 6v1m0 4v3m0 8v1m0 2v2m0 2v1m0 16v1m1-52v3m0 1v1m0 3v1m0 1v1m0 10v2m0 25v1m1-25v1m0 16v1m1 7v1m1-31v3m0 3v1m0 15v1m1-18v1m0 3v2m0 15v1m1-33v1m0 8v1m0 3v1m0 13v1m1-43v2m0 4v1m0 3v3m0 5v1m0 6v1m0 7v1m0 4v3m0 2v1m0 2v4m1-55v1m0 6v2m0 13v1m1-27v1m0 16v1m0 7v1m0 3v1m0 5v1m1-43v2m0 10v1m0 19v5m0 6v1m0 5v1m0 2v1m0 2v3m1-33v4m0 6v1m0 1v1m1-32v1m0 10v1m0 5v1m0 2v1m1-21v1m0 1v1m0 5v2m0 6v1m0 5v1m0 4v2m0 1v5m0 3v1m0 3v2m1-33v1m0 4v3m0 9v1m0 1v1m0 4v1m1-31v1m0 1v1m0 2v1m0 1v2m0 9v1m0 3v1m0 3v3m0 1v1m2-41v1m0 2v1m0 12v2m0 3v5m0 4v1m0 1v1m0 1v1m0 2v1m1-34v1m0 15v2m0 6v1m0 3v2m0 3v1m1-40v2m0 3v1m0 2v1m0 35v2m1-48v3m0 28v1m0 2v1m0 4v1m0 1v4m1-30v1m0 11v1m0 9v1m0 2v3m0 2v1m1-31v3m1-12v1m0 2v1m0 6v1m0 6v2m0 8v3m0 4v2m1-33v3m0 4v2m0 3v1m0 2v1m0 2v6m1-15v1m0 6v4m0 3v3m1-23v1m0 2v2m0 2v1m0 2v2m0 2v2m0 4v2m0 3v1m0 3v3m1-30v2m0 5v1m0 2v1m1-31v3m0 44v1m0 3v2m1-51v1m0 9v1m0 1v2m1-4v1m0 16v1m0 2v1m0 13v1m0 2v1m1-43v1m0 4v2m0 3v2m0 5v1m0 2v1m1-18v8m0 1v3m0 7v1m0 2v1m0 2v3m1-31v3m0 6v1m0 27v1m1-34v1m0 7v3m0 2v3m0 4v1m0 1v1m1-30v1m0 5v1m0 2v1m0 17v1m1-32v2m0 12v1m0 6v1m0 8v1m1-22v2m0 5v8m0 1v1m0 3v1m0 8v1m1-37v1m0 1v1m0 1v1m0 2v1m0 9v1m0 2v1m1-29v2m0 2v3m0 1v1m0 1v4m0 8v2m0 13v1m1-34v3m0 5v1m0 3v2m0 6v2m0 9v1m0 4v2m1-22v2m0 6v1m1-21v2m0 11v1m0 2v1m1-10v1m0 1v1m0 2v1m0 2v1m1-4v2m1-9v1m0 18v1m0 1v1m0 4v1m1-28v4m0 8v4m1-32v1m0 5v1m0 32v2m0 2v1m1-38v2m0 3v5m0 1v1m0 1v1m0 11v1m0 2v1m1-24v1m0 6v1m0 3v1m0 8v1m0 4v1m1-25v1"/><path stroke="#c6dbef" d="M271.5 262v1m0 2v2m1-30v1m0 3v1m0 12v3m0 12v1m0 1v2m0 1v1m1-21v2m1-24v1m0 5v1m0 1v2m0 1v1m0 6v1m0 41v2m1-58v1m0 5v3m0 2v6m0 4v1m0 9v1m0 6v1m0 4v1m1-35v4m0 4v1m0 5v1m0 1v1m1-15v2m0 10v1m0 2v1m0 9v2m0 3v1m1-36v1m0 11v2m0 6v1m0 9v1m0 4v2m3-33v1m0 12v1m0 3v2m2-37v1m0 2v1m0 9v1m0 8v1m0 18v1m0 2v1m0 1v3m1-48v2m0 6v3m0 3v1m0 3v3m0 14v3m0 14v1m0 1v2m0 8v1m0 1v1m1-66v1m0 3v5m0 4v3m0 1v3m0 29v2m0 5v6m1-61v2m0 5v2m0 14v2m0 2v1m0 1v1m0 5v1m0 7v1m0 1v1m0 4v3m1-36v3m0 3v2m0 24v1m0 4v3m1-49v2m0 2v1m0 6v1m0 6v1m0 8v1m0 1v1m0 14v4m0 2v2m0 3v2m0 1v1m1-16v2m1-3v1m1-29v2m0 16v1m0 6v1m0 7v2m0 4v1m1-53v1m0 3v2m0 9v3m0 1v1m0 4v5m0 13v1m0 8v2m0 1v1m1-17v1m1-38v1m0 1v2m0 6v1m0 20v1m0 15v1m0 2v1m1-35v2m0 19v4m0 4v1m1-11v2m0 14v1m1-9v1m1-3v1m0 14v1m1-49v5m0 8v1m0 4v1m0 2v1m0 10v1m0 1v1m0 2v2m0 1v1m0 2v1m1-7v3m0 6v1m0 2v1m1-47v1m0 6v1m0 11v1m0 16v1m1-28v1m0 27v2m1-32v1m0 3v1m0 2v4m0 18v4m1-16v1m0 1v1m0 1v1m0 9v1m2-32v2m0 5v2m0 5v1m3 19v3m1-18v2m0 5v2m0 5v1m1-11v1m0 1v1m0 6v1m1-36v2m0 4v1m0 14v1m0 1v1m0 8v1m1-31v2m0 8v1m0 13v1m0 1v1m0 5v1m1-36v1m0 10v1m0 1v1m0 10v2m2 14v1m1-39v1m0 1v1m0 8v1m0 15v2m0 6v1m1-15v1m0 4v2m0 6v1m1-8v2m0 1v2m1-1v1m1-6v1m1-5v1m0 2v2m1-31v1m0 19v1m0 17v3m1-12v1m0 9v1m1-6v2m1-28v1m0 2v1m0 19v1m0 1v1m2-2v1m1 3v2m1-16v1m0 16v1m1-4v3m0 1v1m1-32v1m0 1v1m0 14v1m0 9v1m0 4v2m1-4v1m0 1v1m1-12v1m0 4v4m0 6v1m0 1v2m1-23v2m0 14v1m1-33v5m0 9v2m1 5v2m0 2v1m0 1v1m0 1v1m0 2v2m2-16v1m0 4v2m0 2v1m0 1v1m1-3v1m0 1v1m1-39v1m0 2v4m0 6v1m0 5v1m0 2v1m0 3v3m1-29v1m0 3v1m0 7v1m0 7v1m0 3v1m0 4v1m0 2v1m1-14v1m0 3v1m0 12v4m1-21v2m0 2v1m0 7v1m0 3v1m0 4v2m1-32v2m0 4v2m0 8v1m0 15v2m1-10v2m1-5v2m0 6v1m1-19v3m1-1v2m0 3v1m0 1v1m0 6v1m0 1v1m1-26v2m0 7v3m0 2v1m0 3v1m1-10v1m0 2v1m1 2v1m0 4v1m0 2v1m1-35v3m0 8v1m0 11v1m0 6v1m0 1v1m0 1v1m1-13v2m1 3v1m0 4v1m1-7v1m0 5v2m2-27v4m0 5v1m0 3v1m0 4v1m1-22v1m0 8v1m0 6v2m0 2v1m0 12v2m1-14v2m1-11v2m0 9v1m3-15v1m0 4v1m0 2v1m0 4v1m0 7v2m1-44v1m0 3v1m0 2v1m0 4v2m0 2v1m0 13v1m0 1v1m0 6v1m1-22v1m0 1v1m0 6v1m0 4v1m2 0v1m1-16v3m0 6v1m0 6v2m0 1v1m1-28v1m0 9v1m0 7v2m1-30v1m0 11v1m0 6v1m0 1v1m0 10v2m1-50v2m0 9v1m0 4v1m1-23v1m0 2v1m0 1v1m0 3v2m0 3v2m0 4v1m0 13v1m0 3v1m1-35v5m0 2v1m0 5v4m0 3v1m0 16v1m0 3v1m0 1v2m1-16v1m1-19v2m0 4v2m1-19v1m0 18v2m0 1v1m0 2v1m0 2v1m0 5v1m1-21v1m0 6v1m0 6v1m1-24v1m0 4v1m0 2v1m0 3v1m0 2v2m0 5v3m0 3v1m2-36v2m0 1v1m0 12v1m0 8v1m0 3v1m1-34v1m0 2v1m0 15v1m0 14v1m0 1v1m1-37v3m0 29v2m0 2v1m0 3v2m1-39v1m0 16v1m0 10v1m0 2v1m1-23v1m0 5v2m0 2v1m0 1v1m0 9v2m0 3v2m2-38v2m0 12v2m0 2v2m0 4v2m1-11v2m2-14v2m0 8v2m0 6v1m0 5v1m0 1v1m1-15v1m1-26v6m1 0v1m0 1v1m0 4v1m0 16v2m0 3v1m1-33v1m0 6v1m0 16v2m0 1v1m0 11v1m1-38v4m0 2v1m0 1v1m0 5v1m1 7v2m1-20v1m0 12v2m0 5v1m1-21v3m0 17v1m1-26v1m0 3v2m0 1v1m0 7v1m1-21v5m0 6v1m0 1v1m0 6v3m0 2v3m2-27v1m0 3v2m0 1v1m0 7v1m0 4v2m0 1v1m1-26v1m0 13v1m0 6v1m1-19v2m0 21v1m0 5v1m2-15v2m1-11v1m0 4v2m1 3v1m0 2v1m1-16v4m0 11v3m0 3v1m0 2v1m2-28v2m0 21v1m1-23v1m0 1v1m0 1v1m0 2v1m0 8v2m1-22v3m0 14v1m0 5v1m1-19v1"/><path stroke="#afd1e7" d="M271.5 240v1m0 9v1m0 3v1m0 3v2m0 10v1m0 3v1m0 1v1m1-39v1m0 1v1m0 23v5m0 4v1m2-37v1m0 6v1m0 7v1m0 33v1m0 2v1m1-32v1m0 13v2m1-25v2m0 11v2m0 1v2m1 7v1m0 1v1m1-34v1m0 2v3m0 4v1m0 15v1m2-19v1m0 7v1m3-31v2m0 7v3m0 29v2m1-36v1m0 3v1m0 22v1m0 3v2m0 11v1m0 13v1m1-64v1m1 24v2m0 15v1m0 14v1m1-8v1m1-41v2m0 12v1m0 11v1m0 8v1m0 1v1m0 8v2m0 7v1m1-13v3m1-2v2m1-8v1m0 8v4m1-51v3m0 19v1m0 5v1m0 11v1m0 1v1m0 4v1m0 4v1m1-15v2m1-14v2m0 8v1m0 5v1m0 5v1m1-2v1m1-6v1m1 3v1m1-5v3m1-32v2m0 3v1m0 3v1m0 1v2m0 7v1m0 7v1m0 7v2m1 4v2m1-47v1m0 3v1m0 33v1m0 1v1m1-12v1m0 6v1m1-35v1m0 4v1m0 5v2m0 4v1m0 9v1m1-4v1m1 2v1m0 14v1m1-13v1m5-1v1m1-21v1m0 14v1m0 4v1m0 2v1m1-6v1m0 6v2m1-34v1m0 2v1m0 2v1m0 1v2m0 8v2m0 22v2m1-11v1m1-7v1m0 2v1m0 3v1m1-41v1m0 5v1m0 36v1m1-15v1m0 2v1m2 6v1m1-6v1m1-5v2m0 4v1m1-19v1m0 3v1m0 6v2m0 9v1m1-13v2m0 4v1m0 2v1m1 1v1m1-14v1m0 10v1m0 4v1m1-10v1m0 3v2m0 2v1m1-6v3m2-6v1m1 8v1m1-30v1m0 29v1m1-1v1m1-10v1m0 2v1m2-20v1m0 3v1m0 9v1m1 3v2m0 3v1m2-7v1m0 2v2m0 3v2m1-4v1m1-37v2m0 11v1m0 3v1m0 13v2m1-31v1m0 1v2m0 23v2m0 7v1m1-18v1m0 1v1m0 2v2m0 3v1m1-9v1m0 1v1m1 2v2m0 5v1m2-2v1m2-7v1m0 8v1m1-13v2m2 4v1m1-16v1m0 1v1m0 1v1m0 3v1m0 10v1m2-9v1m0 5v1m1-5v1m0 1v1m3-16v3m0 5v2m0 1v1m0 4v2m0 1v1m3-12v1m0 1v1m2-11v1m0 2v1m0 7v1m0 1v1m0 4v2m1-44v1m0 9v1m0 22v1m0 1v1m1-15v1m0 8v1m2-10v1m0 4v2m0 6v1m1-10v1m0 4v1m0 4v1m0 2v1m1-30v1m0 3v1m0 9v3m0 3v1m0 2v1m0 1v1m1-35v2m0 22v2m1-23v2m1-24v2m0 19v1m0 7v1m0 1v1m1-21v1m0 3v1m0 4v1m0 6v1m0 5v1m0 4v1m3-20v1m0 1v1m0 4v2m0 11v1m1-26v1m0 6v1m1-5v1m2-15v1m0 5v1m0 5v2m0 6v3m1-28v2m0 5v1m0 2v1m0 6v1m0 16v1m1-5v1m0 2v1m1-31v1m1 8v1m0 6v1m2 11v1m3-8v3m0 3v1m1-13v1m1-21v1m0 2v1m0 18v4m1-32v1m0 1v1m0 4v1m0 21v1m0 2v3m1-27v1m0 2v1m0 13v1m0 5v1m0 9v1m1-30v1m0 7v1m2-9v1m0 5v1m0 5v1m0 3v1m1-17v1m0 2v1m1-14v2m0 8v1m0 1v2m0 2v1m1-15v4m0 8v1m0 5v2m1 1v1m1-12v1m0 7v1m1-18v1m0 12v1m0 1v1m0 1v1m0 4v1m1-7v1m5-13v3m0 15v2m2-35v1m0 5v2m0 2v1m0 8v1m0 10v1m0 3v2m2-28v3m0 14v3m1-22v1m0 2v1"/><path stroke="#97c6df" d="M271.5 241v1m0 13v1m0 4v1m0 6v1m0 7v1m1-37v1m0 5v1m0 3v1m0 3v1m0 5v1m0 3v1m2-28v1m0 8v1m0 26v1m0 10v1m1-25v1m1-6v3m0 1v1m0 5v1m1-13v1m0 2v1m0 4v2m0 13v1m1-32v2m0 6v1m0 13v1m0 4v1m2-15v2m3-25v1m0 2v1m0 4v1m0 25v1m1 0v4m1-23v1m0 10v1m0 10v1m0 5v1m1-14v1m0 1v2m0 11v1m2-30v2m0 3v1m0 20v1m2 4v3m1-13v2m0 11v1m1-40v1m0 13v3m0 10v2m0 2v4m0 6v1m0 1v2m2-43v1m0 1v1m0 22v1m0 5v1m0 10v1m1-1v1m1-4v1m0 3v1m1-7v1m2-30v1m0 7v1m0 6v1m1 20v1m1-31v1m0 9v1m0 17v1m2-34v1m3 27v1m5 4v1m1-7v2m0 3v1m0 5v1m1-9v1m1-31v2m0 1v2m0 16v1m1 9v1m1-5v2m1 0v2m0 6v1m0 2v1m1-18v2m0 3v1m0 4v1m3-6v2m0 7v1m1-11v1m1-11v1m1 8v1m0 7v1m1-10v1m0 3v1m0 5v1m1-31v2m0 17v3m2 5v1m0 1v1m2-12v1m0 6v1m2-3v1m2-1v1m2 2v1m0 3v2m5-25v1m0 13v1m0 4v2m1-35v2m0 12v1m0 17v1m1-14v2m0 4v1m0 2v1m0 1v1m1-7v1m1 1v2m2 9v1m3-6v1m0 3v1m1-14v2m1 9v2m1-19v1m0 8v1m0 4v1m2-8v1m1 5v1m2-8v1m0 2v1m1-20v2m0 10v1m0 1v1m0 12v1m1-3v1m0 1v1m2-10v1m2 4v1m0 1v2m1-41v1m0 5v2m0 4v1m0 5v1m0 16v2m3-7v1m0 1v1m2-24v2m0 2v1m0 1v1m0 9v3m0 4v1m1-22v2m0 5v1m1-11v1m1-11v1m0 11v1m0 5v1m1-25v1m0 1v1m0 6v2m0 1v1m0 12v1m3-18v1m0 17v1m2-21v2m3-9v1m0 7v1m1-16v1m0 1v1m0 25v1m1-27v1m0 16v1m0 5v2m1-17v1m0 3v1m0 3v1m0 6v1m2-17v1m0 18v1m5-36v2m0 34v1m1-43v1m0 12v1m0 6v1m0 4v1m1-23v1m0 2v1m0 12v1m0 11v1m0 7v1m3-20v1m2-9v1m0 2v1m1-9v2m0 3v1m1 9v1m1-16v1m0 1v2m1-1v1m0 3v1m0 5v1m0 1v1m1 3v1m0 1v1m4-12v2m1-8v4m0 3v1m2-25v5m0 14v1m0 5v1m1-13v2m1 5v1"/><path stroke="#7ab6d9" d="M271.5 249v1m0 6v2m0 3v1m0 7v1m1-20v1m0 1v1m2-20v1m0 1v1m0 35v1m0 1v1m0 8v1m1-23v1m0 5v1m1-10v1m2-9v1m0 1v1m0 11v1m0 6v1m2-19v5m3-21v1m0 8v1m0 5v1m0 13v1m1-33v1m0 8v1m0 13v2m0 4v1m0 10v1m0 3v1m1-18v1m0 1v1m0 14v1m1-17v1m0 7v4m0 4v1m5 2v1m0 2v2m1-35v1m0 19v1m0 4v2m2-28v1m0 26v1m1 12v1m1-4v1m1-1v1m1 6v4m1-40v2m0 14v1m1 20v1m1-48v1m0 17v1m0 14v1m1 0v1m0 4v1m1-33v1m0 16v1m0 2v1m0 3v1m1 7v1m2-3v1m5 0v1m0 3v1m1 4v1m1-9v1m1-14v1m0 18v1m3-42v1m0 2v2m0 13v1m0 21v1m1-6v1m3 0v1m0 3v1m1-7v1m1-11v1m0 13v1m1-2v1m1-4v1m1-6v1m0 7v1m1 0v2m3-10v1m0 9v1m2-4v1m0 1v1m2-5v1m0 10v1m2-29v1m0 1v1m0 11v1m0 11v1m5-26v2m0 5v1m0 1v1m1-13v1m0 9v1m1 1v1m0 4v1m1 1v1m0 1v1m1-4v1m0 3v1m2 0v2m3-4v1m2-5v1m1-2v3m5-6v1m1-6v1m5 3v1m0 1v1m0 4v1m1-29v1m0 13v3m1 3v1m0 1v1m2-9v1m0 2v1m0 1v1m0 1v1m1-7v1m0 1v1m0 2v1m0 2v1m1-20v1m1 4v1m1-23v1m0 6v1m1-10v1m1-3v1m0 20v3m4-22v2m0 5v2m3-19v1m0 2v1m0 3v1m1 1v1m0 5v1m0 3v1m1-20v1m0 1v1m0 3v1m0 11v2m1-23v1m0 4v1m0 6v1m0 1v1m0 2v1m1-9v1m0 13v1m2-3v1m0 6v2m5-22v1m0 6v1m1-12v1m0 8v1m0 1v2m1-23v1m0 5v1m0 1v1m0 4v1m0 1v1m0 11v1m3-24v2m0 13v3m1-15v2m1 2v1m1-4v2m1 8v1m1-16v1m0 2v2m1-8v1m0 10v1m0 8v1m1-4v1m0 4v1m5-13v1m2 6v1m3-23v2"/><path stroke="#5fa6d1" d="M271.5 247v2m0 19v1m1-18v1m0 10v1m2-29v1m0 11v1m0 2v1m0 24v1m0 12v2m4-39v1m5-16v1m0 22v1m0 2v1m1-27v1m0 5v1m0 36v2m1-4v1m1 1v2m0 4v1m0 2v1m5-7v2m1-12v2m2 1v2m2 14v1m2-3v1m0 3v1m1-21v1m1 20v1m1-44v1m0 7v1m0 24v1m1-2v2m1-28v1m0 15v1m0 2v1m1 5v1m0 7v1m9-5v1m1-17v1m0 6v2m0 3v1m2 5v1m1-36v2m0 13v1m0 27v2m1-8v1m3 2v2m2-23v1m0 6v1m0 5v1m1 5v1m1-1v1m1 0v1m1-8v1m0 1v1m1 3v1m2-9v1m2 3v2m0 4v1m2 3v1m2-3v1m3-13v1m2-5v1m0 5v2m1-18v1m0 6v1m0 12v1m0 3v1m2-6v1m6 2v1m2-6v1m1-4v1m2-2v1m3-3v1m1 3v1m0 2v1m1 1v1m5-30v1m0 7v1m0 2v2m0 15v1m1-9v1m2-11v1m0 6v1m1-3v1m0 4v2m3-33v1m1-16v1m0 1v1m0 2v1m0 1v1m0 3v2m0 16v1m1-10v2m0 16v1m7-34v1m1-5v2m1 4v1m0 9v1m0 4v1m1-20v1m0 4v1m1-2v2m0 12v1m2-17v1m0 9v1m5 1v1m0 3v1m0 3v3m1-28v1m0 1v1m0 2v1m1-16v1m0 7v1m0 1v1m0 2v1m0 19v2m3-21v2m6-14v1m0 2v1m0 5v1m0 7v1m1-3v1m5-5v1m2-7v1m0 8v2m2-13v1m0 3v1"/><path stroke="#4896c8" d="M271.5 246v1m1 13v1m2-8v1m0 11v1m0 15v1m1-21v1m3 3v1m5-23v1m0 20v1m0 1v2m1-34v1m0 17v1m0 23v1m1-26v1m0 6v2m0 11v1m0 3v1m1-12v1m6 19v1m2-3v1m2 1v1m0 3v1m5-33v1m0 19v2m0 1v1m0 7v1m1-4v2m1-31v1m0 17v1m0 2v1m1 10v1m10-16v1m0 11v2m2 3v1m1-2v1m1-2v2m3-1v1m0 1v1m2-22v1m0 6v1m1 12v1m1-7v2m0 6v1m1-15v1m0 11v2m1-6v1m5 5v1m2 0v1m2-23v1m0 16v1m3-4v1m3-9v1m3 9v1m0 1v1m5 0v1m3-14v1m2 3v1m9-1v1m1-3v1m0 6v1m3-16v2m5-38v1m0 15v1m0 12v1m1 5v1m7-31v1m1 0v2m0 7v1m1-14v1m0 16v1m1-21v1m0 3v1m0 5v1m1 7v2m7-17v2m0 1v1m2-6v1m0 20v1m9-30v2m0 15v1m6-9v1m2-9v1"/><path stroke="#3484bf" d="M271.5 242v1m1 3v1m0 1v1m2 15v1m0 5v1m0 8v2m1-16v1m2-13v2m1 9v1m5-21v1m1 29v2m1-13v1m0 9v1m1 11v2m8-7v1m2 4v1m0 3v1m2 1v1m3-19v1m0 4v1m2-2v1m1 7v1m0 2v1m1 5v1m6-9v1m0 1v1m1 4v1m2-24v1m0 11v2m2 4v1m1-29v1m0 14v1m0 7v1m4 5v1m2-13v1m0 3v1m3-3v1m10 4v1m3-2v1m3 7v1m3-5v1m8-10v1m12-11v2m0 16v1m7-34v1m0 1v1m1-17v1m0 15v1m8-22v1m1 16v1m1 2v1m1-24v1m0 18v1m1 4v2m2-17v1m0 8v2m5-16v1m0 17v1m1-18v2m0 2v1m1-6v1m0 16v1m0 1v1m17-27v1m0 4v1m0 3v1"/><path stroke="#2070b4" d="M272.5 261v1m2-15v1m0 6v2m0 10v1m0 11v1m11-15v2m0 8v1m1-13v1m6-16v1m0 38v1m9-39v2m0 7v1m0 5v1m0 10v2m2 5v1m0 1v1m2-3v1m0 2v2m7 4v1m2-20v1m0 14v1m3 3v1m6-21v1m0 12v1m0 4v1m3-11v1m8 16v1m2-7v1m6-1v2m17-7v2m13-40v2m2 22v1m7-36v1m1 14v1m1-13v1m0 5v2m1-14v1m3 6v1m5-12v1m0 3v1m0 7v1m0 10v1m0 3v1m2-3v1m17-25v1"/><path stroke="#125ea6" d="M272.5 247v1m2 0v1m1 13v1m0 1v1m9-7v1m1-7v2m1 9v1m6-15v1m2 31v1m7-18v1m2 22v1m8-1v1m6 1v1m6-8v1m0 2v1m13-1v2m0 4v1m17-15v1m12-3v1m7-22v1m1-4v1m11-4v1m8-18v1m0 20v1m0 3v2m1-16v1m1-3v1m0 1v1m19-12v1"/><path stroke="#084c95" d="M274.5 267v1m1-5v1m8-2v1m1-8v1m0 5v1m1 4v1m7 18v1m6 3v2m3-7v1m4 2v2m12-23v1m0 7v1m0 1v1m13 11v1m0 1v1m53-54v1m0 11v1m1-12v1m0 1v1m0 8v1m8-6v1m1-4v1m18-19v1"/><path stroke="#083979" d="M271.5 243v3m3 10v8m0 4v2m0 5v3m9-26v6m0 5v1m1-11v2m0 4v2m1-7v4m0 9v4m7-23v1m9 36v2m2-5v1m0 1v3m1-5v3m1-3v2m0 2v1m0 2v5m7-3v2m2-6v5m3-31v5m0 4v4m0 3v6m6 3v2m7 1v1m4 3v2m2-5v1m29-15v2m8-26v3m10-14v3m0 2v3m1-10v1m8-11v2m0 2v2m0 6v3m2-3v1m17-18v3m0 7v3m2-8v2"/></g>
<rect x="285.6" y="197.4" width="85.9" height="144.8" fill="none" stroke="#1a1a1a" stroke-width="0.9" stroke-dasharray="2.8 1.6"/>
<rect x="270.5" y="196.95" width="144.9" height="145.25" fill="none" stroke="#8a8a8a" stroke-width="1"/>
<path d="M271.3 342.7v2.2M285.52 342.7v1.4M299.74 342.7v2.2M313.96 342.7v1.4M328.18 342.7v2.2M342.4 342.7v1.4M356.62 342.7v2.2M370.84 342.7v1.4M385.06 342.7v2.2M399.28 342.7v1.4M413.5 342.7v2.2M270 336.05h-1.4M270 299.3h-2.2M270 262.55h-1.4M270 225.8h-2.2" stroke="#666" stroke-width="0.8" fill="none"/>
<text x="271.8" y="351.1" text-anchor="middle" font-size="7.4" fill="#333">0.0</text>
<text x="300.24" y="351.1" text-anchor="middle" font-size="7.4" fill="#333">0.2</text>
<text x="328.68" y="351.1" text-anchor="middle" font-size="7.4" fill="#333">0.4</text>
<text x="357.12" y="351.1" text-anchor="middle" font-size="7.4" fill="#333">0.6</text>
<text x="385.56" y="351.1" text-anchor="middle" font-size="7.4" fill="#333">0.8</text>
<text x="414" y="351.1" text-anchor="middle" font-size="7.4" fill="#333">1.0</text>
<text x="267" y="302" text-anchor="end" font-size="7.4" fill="#333">2.0</text>
<text x="267" y="228.5" text-anchor="end" font-size="7.4" fill="#333">2.5</text>
<text transform="translate(249.5 269.57) rotate(-90)" text-anchor="middle" font-size="8.6">Bandgap (eV)</text>
<text transform="translate(343.25 362.8) scale(1.085 1)" text-anchor="middle" font-size="8" letter-spacing="0.2"><tspan>x of (</tspan><tspan>Cs</tspan><tspan dy="1.8" font-size="6.0">3</tspan><tspan dy="-1.8">Sb</tspan><tspan dy="1.8" font-size="6.0">2</tspan><tspan dy="-1.8">I</tspan><tspan dy="1.8" font-size="6.0">9</tspan><tspan dy="-1.8">)</tspan><tspan dy="1.8" font-size="6.0">1 − x</tspan><tspan dy="-1.8">(</tspan><tspan>Cs</tspan><tspan dy="1.8" font-size="6.0">3</tspan><tspan dy="-1.8">Bi</tspan><tspan dy="1.8" font-size="6.0">2</tspan><tspan dy="-1.8">Br</tspan><tspan dy="1.8" font-size="6.0">9</tspan><tspan dy="-1.8">)</tspan><tspan dy="1.8" font-size="6.0">x</tspan></text>
<rect x="419.7" y="196.95" width="9.1" height="145.25" fill="url(#cbg)" stroke="#777" stroke-width="0.7"/>
<path d="M428.8 342.2h2.2M428.8 271h2.2M428.8 199.8h2.2M428.8 306.6h1.4M428.8 235.4h1.4" stroke="#666" stroke-width="0.8" fill="none"/>
<text x="432" y="344.9" font-size="7.4" fill="#333">0</text>
<text x="432" y="273.7" font-size="7.4" fill="#333">50</text>
<text x="432" y="202.5" font-size="7.4" fill="#333">100</text>
<text transform="translate(448.8 269.57) rotate(90)" text-anchor="middle" font-size="8.3">Number of pixels</text>
<text x="235.2" y="200.9" font-size="13.6" font-weight="bold" fill="#000">e</text>
<text x="328.8" y="333.3" text-anchor="middle" font-size="8.8">N = 131,865</text>
<g><text x="329.6" y="214.6" text-anchor="middle" font-size="8.9">Transition</text><text x="329.6" y="225.2" text-anchor="middle" font-size="8.9">region</text></g>
<rect x="541.3" y="197" width="74.4" height="144.9" fill="#efefef"/>
<g fill="none" stroke-width="1" filter="url(#sb)"><path stroke="#f0f6fd" d="M500.5 221v4m0 2v1m0 4v1m0 3v4m0 2v2m0 2v4m1-29v2m0 33v1m1-38v1m0 29v1m0 6v1m1-36v1m0 18v5m0 3v4m0 2v2m1-37v2m0 24v1m0 5v1m0 7v3m1-38v1m0 30v2m1-34v4m0 1v1m0 22v2m0 1v1m0 1v2m1-35v4m0 29v1m0 4v9m1-50v3m0 2v1m0 19v3m0 5v2m1-25v1m0 10v4m0 3v2m0 3v2m0 3v5m1-36v2m0 29v3m1-37v5m0 6v1m0 2v1m0 5v2m0 9v2m1-31v1m0 28v1m0 3v2m1-6v2m0 4v5m1-42v1m0 35v1m1-27v1m0 24v2m0 5v1m0 6v2m1-49v3m0 1v1m0 24v1m0 5v7m1-43v2m0 1v1m0 25v2m0 4v4m0 2v1m1-35v5m0 15v1m0 1v2m0 3v9m1-36v2m0 29v1m1-33v1m0 33v4m0 1v3m1-42v5m0 29v4m1-45v2m0 2v3m0 26v2m0 4v1m1-30v2m0 4v1m0 3v1m0 6v1m0 15v1m1-31v1m0 28v2m0 2v3m0 1v1m1-36v2m0 11v2m0 12v1m1 4v5m1-44v1m0 32v5m1-35v1m0 31v2m0 3v2m0 2v2m1-39v2m0 1v2m0 16v1m0 2v7m0 3v1m0 1v2m1-36v3m0 14v1m0 13v6m1-33v1m0 24v2m1-23v1m0 16v3m0 4v1m0 2v4m1-39v1m0 31v3m0 3v2m1-33v2m0 7v3m0 11v5m1-34v3m0 28v2m0 7v1m0 1v1m1-42v3m0 34v2m0 2v5m0 1v4m1-48v4m0 1v1m0 24v1m1-29v6m0 20v6m1-38v1m0 4v2m0 24v2m0 2v3m0 2v1m1-36v2m0 3v2m0 17v6m0 6v2m1-50v1m0 6v4m0 45v2m0 1v6m0 7v1m1-59v3m0 2v1m0 6v1m0 28v1m1-34v3m0 14v1m0 6v2m0 3v1m1-46v7m0 5v3m0 3v2m0 2v2m0 4v1m0 20v1m0 1v3m1-47v1m0 3v2m0 13v1m0 18v4m1-51v3m0 4v1m0 3v1m0 2v4m0 12v3m0 10v1m0 1v1m0 4v1m0 2v1m1-41v5m0 11v1m0 7v1m0 2v2m1-40v11m0 43v4m0 3v7m1-61v5m0 3v3m0 27v7m0 8v3m1-67v1m0 4v1m0 2v1m0 3v4m0 35v4m0 7v1m0 5v2m0 3v3m1-56v1m0 1v1m0 19v3m0 3v1m1-29v1m0 25v1m0 4v1m0 3v3m1-63v2m0 7v1m0 2v1m0 2v1m0 6v4m0 36v1m0 2v5m0 2v1m1-70v4m0 2v7m0 35v1m0 8v2m0 2v3m0 5v1m0 1v8m0 1v6m1-64v1m0 5v2m0 3v2m0 9v1m0 3v2m0 2v5m1-38v1m0 34v2m0 2v1m0 3v1m1-40v2m0 22v2m0 3v1m1-45v4m0 2v6m0 11v1m0 31v1m0 1v1m0 2v5m1-54v1m0 3v1m0 2v1m0 22v5m1-38v1m0 6v2m0 35v1m1-54v3m0 4v3m0 3v1m0 32v6m0 2v5m1-40v8m0 3v1m0 1v1m0 6v2m0 2v2m0 1v6m1-38v1m0 33v1m0 3v1m0 6v1m1-54v3m0 8v2m0 8v1m0 3v1m0 8v2m0 5v2m1-54v1m0 3v5m0 11v2m0 1v3m0 28v2m0 4v3m0 3v5m0 3v2m1-79v4m0 1v5m0 3v6m0 36v1m0 2v2m0 8v2m0 1v3m0 2v5m1-76v3m0 4v5m0 1v1m0 49v6m0 2v1m0 4v2m1-52v1m0 22v5m1-31v1m0 24v1m0 2v3m1-49v3m0 16v1m0 16v1m0 7v1m0 4v5m1-39v5m0 2v1m0 20v2m0 1v3m0 3v3m0 2v1m0 1v2m1-65v3m0 2v2m0 2v1m0 4v9m0 3v1m0 1v3m0 19v1m0 5v6m0 11v1m1-37v2m0 3v1m1-22v1m0 8v1m0 17v5m0 4v2m0 3v4m1-61v2m0 4v3m0 6v1m0 4v1m0 28v5m0 6v5m0 2v2m0 10v1m1-83v2m0 16v6m0 2v2m0 16v1m0 3v1m0 6v8m1-61v2m0 14v2m0 20v3m0 4v1m0 3v1m0 4v5m0 4v1m1-40v2m0 17v1m0 5v1m1-62v7m0 2v1m0 1v2m0 1v2m0 4v3m0 4v1m0 40v2m0 1v10m0 20v1m1-97v3m0 2v7m0 4v2m0 1v2m0 2v2m0 4v1m0 2v1m0 22v1m0 5v1m0 1v4m0 4v1m1-63v2m0 17v2m0 1v2m0 2v5m0 13v3m0 1v2m0 2v3m1-39v3m0 6v1m0 22v1m0 1v1m0 5v1m1-69v6m0 4v5m0 1v3m0 3v3m0 28v1m0 7v2m0 8v4m0 1v3m1-74v1m0 2v4m0 4v6m0 34v2m0 4v4m0 3v4m0 1v4m0 2v4m1-63v6m0 5v5m0 26v3m1-26v1m0 3v8m0 4v9m1-60v7m0 7v1m0 9v1m0 6v2m0 4v2m0 1v3m0 9v2m0 1v3m0 1v5m0 2v2m0 4v6m1-64v1m0 8v3m0 2v1m0 2v2m0 30v4m1-60v2m0 4v4m0 1v1m0 3v3m0 4v5m0 4v2m0 7v4m0 2v3m0 7v7m1-67v3m0 17v2m0 1v1m0 4v1m0 11v1m0 16v8m0 2v1m1-43v1m0 2v3m0 29v3m1-82v3m0 5v6m0 1v4m0 2v1m0 1v6m0 5v1m0 6v1m0 2v1m0 33v3m0 7v1m0 2v5m0 2v4m0 7v2m1-76v8m0 40v2m1-79v8m0 4v1m0 3v1m0 2v1m0 16v2m0 26v2m0 4v5m0 7v1m0 1v9m1-59v2m0 1v4m0 27v2m1-46v9m0 1v1m0 4v2m0 33v4m0 16v3m1-70v3m0 1v5m0 20v1m0 8v1m1-45v3m0 5v5m0 5v4m0 26v5m0 1v5m0 2v7m0 2v1m1-63v2m0 3v2m0 4v4m0 1v1m0 10v4m0 2v3m0 3v3m0 2v2m1-84v3m0 2v2m0 2v6m0 3v1m0 3v1m0 3v7m0 62v1m0 2v4m0 4v1m0 2v2m0 4v4m1-92v2m0 6v7m0 2v4m0 2v1m0 2v2m0 4v3m0 14v5m0 2v1m0 2v3m1-80v3m0 3v2m0 5v2m0 4v1m0 28v2m0 26v1m0 4v2m0 1v1m0 4v1m0 6v7m0 5v3m1-108v3m0 5v5m0 4v4m0 1v5m0 2v4m0 7v1m0 28v9m0 2v6m0 9v3m1-85v4m0 13v2m0 5v4m0 1v1m0 3v1m0 17v5m0 1v2m0 1v5m1-67v2m0 17v2m0 6v4m0 2v3m0 1v1m0 4v10m0 4v2m0 3v2m1-66v4m0 4v4m0 2v12m0 1v5m0 12v1m0 3v4m0 5v2m0 2v1m0 2v10m1-77v7m0 5v1m0 4v4m0 5v2m0 5v2m0 30v1m0 8v3m1-50v3m0 14v1m0 14v1m0 3v7m1-52v4m0 3v4m0 3v1m0 1v1m0 24v7m0 9v4m0 5v4m1-87v3m0 3v6m0 4v1m0 2v1m0 3v1m0 2v5m0 12v3m0 7v1m0 8v14m0 1v6m0 1v6m1-107v2m0 13v2m0 3v3m0 1v2m0 1v7m0 3v2m0 47v6m0 3v2m1-69v2m0 3v3m0 39v2m0 6v5m0 3v1m0 1v2m1-61v4m0 4v5m0 37v1m0 10v1m1-56v2m0 2v1m0 2v1m0 1v3m0 9v1m0 1v2m0 11v6m0 3v3m1-47v5m0 5v2m0 5v2m0 5v7m0 2v1m0 2v3m1-55v1m0 35v4m1-42v5m0 35v2m0 1v2m0 1v3m1-45v4m0 4v2m0 9v2m0 2v2m0 5v1m1-32v3m0 1v2m0 14v2m0 13v4m1-41v4m0 28v1m0 2v3m0 1v4m1-37v1m0 9v2m0 5v2m0 4v1m0 2v3m1-36v1m0 2v3m0 1v1m0 1v1m0 29v4m0 2v2m1-44v4m0 28v2m0 3v4m1-42v2m0 1v1m0 21v2m0 3v5m0 3v1m1-32v4m0 9v2m0 3v2m0 4v2m1-28v1m0 18v2m0 4v2m0 3v1m1-33v8m0 10v4m0 12v3m1-42v3m0 35v3m1-39v4m0 6v2m0 25v3m1-42v2m0 32v2m0 2v3m1-38v4m0 3v1m0 16v2m0 14v1m1-42v4m0 6v2m0 9v1m0 12v1m0 7v1m1-41v1m0 3v1m0 11v1m0 12v2m0 6v1m1-42v5m0 27v10m1-44v4m0 1v2m0 5v4m0 18v10m1-38v1m0 22v1m0 8v2m1-34v3m0 4v1m0 4v4m0 1v6m0 4v6m1-35v3m0 2v3m0 2v2m0 18v2m0 1v1m1-36v2m0 1v1m0 29v4m1-27v3m0 13v1m0 1v8m1-31v4m0 23v7m1-31v2m0 23v8m1-30v1m0 6v1m0 3v2m0 6v5"/><path stroke="#e2edf8" d="M500.5 228v3m0 2v3m0 8v2m1-23v1m0 2v2m0 25v3m1-36v2m0 5v2m0 21v1m0 2v3m1-34v1m0 1v5m0 10v1m0 5v3m1-27v4m0 11v1m0 3v1m0 3v1m0 1v1m0 2v2m0 1v1m0 5v1m1-34v1m0 28v1m1-18v2m0 11v1m0 4v1m1-29v1m0 8v2m0 10v2m0 5v1m0 1v1m0 2v1m1-38v2m0 18v2m1-14v2m0 4v4m0 4v3m0 2v3m1-24v2m1-2v6m0 4v2m0 1v2m0 2v1m0 3v1m1-24v1m0 2v1m0 18v3m0 2v1m1-29v1m0 30v4m1-36v2m0 3v1m0 25v1m0 2v1m1-25v1m0 8v7m0 6v2m1-28v1m0 5v1m0 16v1m0 1v1m0 2v2m1-32v1m0 20v1m0 5v4m1-23v1m0 2v2m0 8v2m0 4v3m1-25v5m0 21v3m1-31v1m0 31v1m1-29v2m0 18v3m0 4v2m1-34v1m0 24v1m0 5v1m1-27v1m0 4v3m0 5v2m0 8v8m1-29v3m0 16v3m0 5v1m0 2v2m1-29v5m0 8v1m0 3v5m0 1v2m1-30v4m0 2v5m0 18v1m1-33v1m0 28v3m1-29v1m0 29v1m0 2v3m0 2v2m1-26v6m0 3v1m0 1v2m0 11v1m1-31v4m0 11v1m0 11v1m1-26v6m0 8v2m1-12v1m0 13v2m0 3v4m1-31v3m0 6v1m0 12v4m0 4v1m1-23v4m0 6v2m0 2v7m1-26v1m0 24v3m1-27v1m0 7v1m0 20v1m0 2v2m1-28v1m0 21v2m1-22v1m0 3v1m0 14v1m1-31v1m0 28v1m1-24v3m0 2v1m0 11v5m0 6v1m0 2v3m1-37v3m0 29v2m0 1v1m0 6v3m1-36v6m0 13v1m0 13v2m1-30v1m0 12v1m0 1v1m0 3v2m0 2v1m0 1v1m1-30v3m0 6v4m0 14v7m1-41v3m0 2v1m0 4v1m0 6v1m0 1v1m0 3v8m0 3v1m1-33v2m0 4v1m0 6v2m0 6v1m0 8v1m0 3v3m0 2v2m1-35v2m0 2v1m0 5v1m0 1v3m0 2v2m1-24v6m0 36v1m0 4v3m1-43v5m0 21v1m1-48v4m0 4v1m0 1v1m0 4v1m0 4v2m0 12v1m0 14v1m0 4v7m1-39v3m0 4v12m0 3v3m1-27v4m0 2v1m0 12v2m0 3v1m0 1v4m1-46v2m0 4v3m0 7v1m0 29v6m0 1v2m1-58v2m0 7v2m0 1v10m0 23v1m0 4v3m0 2v2m0 3v3m0 1v1m1-39v3m0 2v1m0 3v5m0 1v3m0 2v2m1-32v11m0 22v1m0 5v3m1-37v1m0 20v1m0 2v3m1-32v1m0 1v4m0 4v1m0 1v1m0 10v3m0 6v3m0 7v1m0 3v2m1-48v3m0 1v2m0 1v1m0 11v6m0 3v1m1-32v1m0 3v2m0 2v3m0 22v5m0 4v1m1-39v3m0 17v3m0 6v3m1-19v3m0 3v1m0 2v3m0 2v2m1-28v1m0 24v1m0 6v1m0 1v3m1-33v3m0 1v3m0 2v1m0 1v1m0 1v1m0 5v2m0 2v1m0 3v1m1-43v8m0 2v1m0 2v1m0 3v2m0 24v2m0 2v1m0 2v1m1-53v3m0 6v3m0 5v1m0 11v1m0 16v2m0 2v2m0 3v3m1-51v1m0 1v2m0 35v4m0 5v3m0 6v2m1-44v1m0 4v1m0 5v2m0 4v5m1-25v6m0 6v3m0 8v1m1-23v1m0 2v2m0 6v5m0 1v1m0 5v1m0 1v1m0 2v1m1-26v1m0 13v6m0 6v3m0 6v1m1-60v2m0 2v2m0 14v3m0 5v4m0 7v8m0 1v1m0 2v2m1-17v3m1-20v4m0 3v1m0 2v1m0 7v3m0 2v3m0 5v4m1-50v4m0 3v6m0 1v4m0 24v1m0 3v1m0 5v2m0 1v3m1-35v1m0 4v1m0 6v1m0 2v1m0 1v3m0 1v1m0 3v2m1-35v6m0 9v1m0 7v1m0 1v2m1-19v3m0 12v2m0 5v1m1-51v1m0 5v4m0 3v1m0 2v1m0 1v1m0 32v7m1-45v1m0 11v2m0 1v7m0 14v1m0 3v3m1-31v1m0 2v2m0 5v1m0 5v1m0 5v1m0 3v1m1-22v1m0 20v1m0 1v1m0 1v2m0 1v2m1-40v1m0 2v2m0 19v1m0 1v3m0 3v1m0 2v5m0 1v2m1-49v1m0 3v1m0 4v1m0 4v2m0 14v1m0 5v4m0 4v3m1-32v1m0 7v2m0 9v2m0 3v2m1-22v3m0 8v2m0 1v1m1-36v6m0 4v1m0 1v2m0 4v4m0 2v1m0 3v3m0 5v1m0 12v2m1-33v1m0 6v2m0 9v2m0 3v4m0 1v2m1-29v2m0 1v1m0 3v1m0 3v2m0 4v2m0 3v2m0 4v1m1-36v3m0 2v1m0 5v1m0 3v1m0 1v1m0 9v6m1-31v2m0 3v1m0 5v2m0 6v15m1-65v1m0 4v2m0 8v1m0 3v1m0 1v1m0 4v1m0 1v2m0 1v2m0 7v1m0 20v3m0 3v7m1-45v1m0 38v1m1-64v3m0 4v8m0 10v1m0 6v3m0 11v5m0 2v1m0 2v1m0 5v1m0 4v2m1-46v1m0 4v2m0 16v9m1-33v1m0 2v1m0 2v1m0 30v2m1-38v2m0 2v3m0 4v1m0 6v2m0 1v2m0 5v1m1-8v2m0 9v1m1-23v1m0 2v1m0 5v1m0 4v2m0 3v3m0 3v2m1-75v2m0 10v3m0 1v3m0 7v6m0 3v1m0 14v1m0 23v2m0 9v1m0 3v2m0 9v2m1-61v2m0 12v4m0 3v1m0 4v2m0 8v2m1-69v5m0 7v4m0 2v4m0 5v2m0 13v1m0 7v1m0 16v1m0 1v1m0 2v1m0 4v1m0 1v2m0 1v6m1-66v2m0 4v1m0 4v2m0 1v2m0 2v3m0 15v2m0 3v1m1-26v3m0 1v1m0 5v3m0 4v4m1-15v1m0 2v1m0 10v4m1-33v1m0 5v1m0 8v3m0 8v5m0 5v2m1-60v5m0 9v2m0 1v2m0 9v1m0 11v2m0 7v2m0 6v1m0 5v4m1-44v2m0 11v1m0 5v1m1-28v3m0 4v3m0 3v1m0 22v1m1-46v1m0 2v1m0 4v3m0 8v2m0 8v2m0 9v1m0 5v4m0 14v1m1-68v1m0 7v3m0 9v1m0 36v3m0 6v3m1-65v3m0 3v6m0 3v3m0 22v5m0 17v1m1-46v8m0 4v1m0 12v2m0 3v7m1-39v2m0 9v5m0 4v6m0 4v1m1-30v5m0 4v1m0 4v5m0 7v2m1-48v4m0 1v2m0 17v5m0 1v5m1-33v1m0 29v2m0 5v1m1-35v1m0 2v1m0 2v1m0 7v1m0 2v2m0 2v1m1-21v4m0 9v1m0 2v2m0 3v1m0 6v1m1-33v1m0 23v4m1-25v1m0 3v5m0 2v1m0 6v4m0 1v2m1-27v1m0 3v1m0 15v1m0 6v1m1-27v1m0 26v1m0 2v3m1-34v1m0 4v3m0 9v1m0 1v2m0 2v3m0 5v3m1-27v1m0 5v3m0 7v4m1-25v7m0 10v1m0 2v1m0 2v1m0 2v3m1-24v2m0 7v1m0 4v2m0 6v2m0 1v1m1-36v2m0 25v2m0 4v2m1-32v1m0 26v3m0 2v1m1-37v5m0 1v1m0 11v2m0 8v4m1-27v3m0 5v1m0 13v1m0 1v1m0 4v7m1-37v2m0 3v1m0 2v2m0 9v1m0 6v4m1-31v3m0 1v5m0 5v1m0 1v1m0 6v2m0 1v2m0 4v1m0 1v2m1-36v4m0 22v1m1-27v5m0 4v1m0 15v2m1-27v2m0 6v1m0 8v1m0 3v1m0 1v1m0 4v3m1-24v1m0 2v1m0 4v1m0 6v4m1-21v2m0 2v1m0 11v3m0 2v1m1-28v3m0 18v3m0 2v3m1-20v1m0 2v4m0 4v2m1-17v3m0 15v5m1-22v8m0 13v2m1-21v6m0 1v1m0 1v1m0 2v6"/><path stroke="#d4e4f4" d="M501.5 224v2m0 2v1m1-7v1m0 25v1m0 2v2m1-30v1m0 5v1m1 4v2m0 1v1m0 1v1m0 1v1m0 5v2m0 4v5m1-32v2m0 9v1m0 8v8m1-25v1m0 9v1m0 6v4m1-22v1m0 6v1m0 14v1m0 3v1m0 3v2m1-34v1m1 6v1m0 2v1m1-6v1m0 18v1m0 6v1m1-17v1m0 5v3m1-22v2m0 1v1m0 16v1m0 3v2m1-27v3m0 24v1m1-28v3m0 25v1m0 1v2m1-8v1m1-16v1m0 1v1m0 8v2m0 8v2m1-29v5m0 16v3m1-16v2m0 2v1m0 2v2m0 2v1m1-11v1m0 19v1m1-27v1m0 9v5m0 5v1m0 7v3m1-26v5m0 19v1m1-4v1m0 1v1m1-25v3m0 12v1m0 5v1m1-18v1m0 3v1m0 3v4m0 10v2m1-10v3m0 5v1m1-24v2m0 9v1m1-18v1m0 14v1m0 5v1m0 5v1m2-18v1m0 4v1m0 6v1m1-9v1m0 1v2m0 5v1m0 2v1m0 9v1m1-19v1m0 2v5m1-4v3m0 1v2m0 1v1m1-12v2m0 9v1m0 4v4m1-10v2m1 3v3m1-23v1m0 7v1m0 11v2m0 4v2m0 1v2m1-25v1m0 4v1m0 13v2m1-17v1m0 1v1m0 3v2m0 6v2m1-29v1m0 1v1m0 2v1m0 2v2m0 11v1m0 3v3m1-15v2m0 6v1m0 12v2m1-31v2m0 14v1m0 11v1m0 2v1m0 1v2m0 1v3m1-26v1m0 7v1m0 2v1m0 1v1m0 10v2m1-27v1m0 5v4m0 1v1m0 3v3m0 5v1m1-15v1m0 11v1m1-23v1m0 4v1m0 3v1m0 10v1m0 1v1m1-25v4m0 4v1m0 1v1m0 8v4m1-22v2m0 1v1m0 3v1m0 5v2m1 15v5m1-30v1m0 2v13m0 1v4m1-38v1m0 9v1m0 2v2m0 4v1m0 6v1m0 12v1m1-24v1m1-2v2m0 1v2m0 4v2m0 3v1m0 4v1m1-23v1m0 27v1m1-38v1m0 31v1m0 5v1m0 13v1m1-30v1m1-8v1m0 12v1m0 3v3m0 1v1m1-27v4m0 15v1m1-25v1m0 4v1m0 1v2m0 3v1m0 8v1m0 3v1m0 11v4m1-17v1m0 1v1m1-30v3m0 7v5m0 16v1m0 7v2m1-35v1m0 15v1m0 8v1m1-9v2m1-20v1m0 24v6m1-25v1m0 6v1m0 6v2m0 5v3m1-34v2m0 9v5m0 18v1m0 5v2m1-40v1m0 3v1m0 1v1m0 2v2m0 21v1m0 7v1m0 1v1m1-44v1m0 9v5m0 5v1m0 13v1m0 4v1m0 2v2m1-32v4m0 1v1m0 9v1m1-14v1m0 4v1m0 3v1m0 5v2m1-21v2m0 2v4m0 1v1m0 11v1m0 3v2m1-24v5m0 5v3m1-6v1m0 16v2m2-28v3m0 10v1m0 3v2m1-19v1m0 3v1m0 4v2m0 10v2m0 1v1m0 10v1m1-31v1m0 2v1m0 6v1m0 1v2m0 9v1m1-27v2m0 8v1m0 2v1m0 4v1m1-14v1m0 6v1m0 3v1m0 3v1m0 2v1m1-36v2m0 3v2m0 5v1m0 15v3m0 5v1m1-12v1m0 3v3m0 2v1m1-13v1m0 5v1m0 3v1m1 3v1m0 6v1m1-37v2m0 2v7m0 4v1m0 12v1m0 10v1m1-46v3m0 1v1m0 2v1m0 1v1m0 2v1m0 15v1m1-14v5m0 4v1m0 7v1m0 4v1m1-7v1m1-24v1m0 19v5m1-17v4m0 1v1m0 6v5m0 2v1m0 1v1m0 4v1m1-25v1m0 5v1m0 15v1m0 2v1m1-29v1m0 3v1m0 1v1m0 1v1m0 3v1m0 7v1m1-19v1m0 3v1m1-26v3m0 3v1m0 10v1m0 1v1m0 5v1m0 12v2m0 4v1m1 6v1m1-48v4m0 3v1m0 3v2m0 3v1m0 3v1m0 4v6m0 8v2m0 10v1m1-37v1m1-8v2m0 32v2m1-34v2m0 3v4m0 1v2m0 2v2m0 8v2m1-21v1m1 3v2m0 1v5m1-25v3m0 1v1m0 1v1m0 6v2m0 2v1m0 34v1m1-26v3m1-36v2m0 4v1m0 3v1m0 2v1m0 2v2m0 5v1m0 3v2m0 14v2m0 9v2m0 6v1m1-50v1m0 2v1m0 5v2m0 22v1m1-20v1m0 3v1m0 6v1m1-10v2m1-11v1m0 5v2m1-21v1m0 21v2m0 15v2m0 2v1m0 1v2m1-38v1m0 1v1m0 10v1m0 4v1m0 7v1m1-23v1m0 18v3m1-44v2m0 18v1m0 6v1m0 5v1m0 4v1m0 2v1m0 2v1m1-36v1m0 7v2m0 25v6m0 2v1m1-41v3m0 3v1m0 12v2m0 3v4m1 1v1m0 2v3m1-25v1m0 2v1m0 15v1m0 2v1m1-22v2m1-25v1m0 18v1m0 5v1m1-27v1m0 3v3m0 6v2m0 16v1m0 1v1m1-31v2m0 4v3m0 3v1m0 8v4m1-21v1m0 7v1m0 5v3m0 1v1m0 4v1m1-31v1m0 8v1m0 12v1m1-20v1m0 10v1m0 2v1m1-13v1m0 9v1m0 5v1m0 3v2m0 1v1m0 3v1m1-31v1m0 2v1m0 21v1m1-27v1m0 6v1m0 7v1m0 1v1m1-11v1m0 3v1m1-4v1m0 5v4m0 4v2m1 3v1m0 2v1m1-31v6m0 14v3m0 2v1m0 2v1m1-29v1m0 3v1m0 15v6m0 3v2m1-31v1m0 1v5m0 4v2m0 2v1m1-12v1m0 10v1m0 7v1m0 1v1m0 2v1m1-28v1m0 7v1m0 9v1m0 2v3m1-18v3m0 1v1m0 8v1m0 2v1m0 7v1m1-30v1m0 10v2m0 4v3m0 1v1m2-24v1m0 3v2m0 6v3m0 1v3m0 3v1m0 2v1m1-20v2m1 3v2m0 5v1m0 3v2m1-24v1m0 16v1m0 3v2m1-16v2m0 4v4m1-12v1m0 2v2m0 5v5m1-9v13m1-11v1"/><path stroke="#c6dbef" d="M501.5 240v1m0 6v2m0 3v1m1-30v1m0 1v2m0 2v1m1 0v1m1-6v1m0 7v1m0 4v1m0 3v2m1-8v1m1-1v1m0 3v1m0 3v2m1 5v3m1-20v1m0 7v1m1-9v2m1-4v2m0 4v1m0 10v1m2-18v1m0 4v1m1-8v1m1 0v1m0 16v1m0 4v2m1-19v3m0 4v1m0 12v1m1-25v1m0 6v1m0 2v1m0 10v1m1-15v3m0 7v1m1-6v1m0 2v2m1-9v3m0 5v1m0 6v1m1-22v1m0 7v1m0 5v1m0 5v4m0 2v1m1-16v2m0 12v1m0 1v1m1-30v1m0 27v1m1-16v1m0 10v2m1-16v1m0 1v1m0 1v1m0 9v1m0 3v3m1-17v2m0 3v1m1-2v1m0 13v1m1-27v1m0 9v1m0 1v2m0 4v1m1 1v4m0 3v1m1-21v4m0 8v2m1-10v1m0 2v1m0 11v6m1-17v2m1-4v1m0 3v1m0 3v1m0 2v1m1-18v1m0 4v1m0 3v1m0 6v2m2-17v1m0 2v2m0 3v3m1-9v1m0 7v1m0 15v1m1-19v1m0 8v3m1-11v2m0 13v1m1-26v1m0 4v2m0 2v1m0 9v1m0 1v1m0 1v1m1-14v2m1-6v1m0 12v1m0 19v1m1-22v1m0 5v1m0 1v2m0 9v2m1-22v1m0 3v1m0 4v1m1 5v1m0 3v1m1-27v1m0 2v1m0 11v2m0 9v1m1-20v2m0 3v1m0 5v1m1-11v3m1 0v1m0 16v2m0 3v1m1-24v2m0 13v1m1-27v3m0 14v1m0 2v1m0 4v3m0 3v1m2-19v2m0 1v1m0 2v1m0 1v1m0 3v2m1-21v4m0 14v2m0 3v1m0 1v2m1-26v3m0 21v1m1-15v2m1-6v3m0 7v2m0 1v1m0 1v1m0 3v1m1-15v1m0 6v1m1-18v1m0 13v1m0 9v1m0 3v3m1-30v1m0 3v1m0 5v1m0 7v1m1-14v1m0 9v2m0 10v2m1-32v3m0 11v1m2-13v1m1 12v1m0 1v1m1-8v1m0 5v2m0 7v3m1-31v1m0 1v1m0 3v2m0 2v1m0 4v1m0 5v4m0 3v3m0 9v1m1-42v4m0 4v1m0 9v1m0 1v1m0 18v2m1-21v1m0 2v1m1-10v1m0 2v1m0 5v1m0 3v1m1-11v1m0 11v1m1-9v1m1-2v1m0 4v1m2-9v6m1-12v1m0 1v1m0 7v1m0 2v1m0 10v2m1-20v1m0 6v1m0 11v2m1-24v3m0 3v1m0 2v2m1-2v1m0 1v1m0 7v2m1-28v1m0 19v1m0 7v1m1-4v2m1-8v1m1-10v3m1-2v4m0 14v2m1-32v2m0 3v2m0 3v1m1 4v2m0 3v4m0 2v1m0 3v2m3-17v1m0 3v1m0 11v1m1-12v2m0 14v2m1-27v1m0 1v1m0 3v1m0 8v2m0 1v1m1-8v3m1-27v3m0 8v1m0 1v1m0 22v1m1-28v2m0 14v2m0 16v1m1-34v3m0 5v4m0 23v1m0 1v1m1-35v1m0 12v2m1-17v1m0 24v3m1-20v2m0 7v1m0 1v1m1-11v1m0 7v1m0 7v1m2-33v1m0 1v1m0 7v2m0 9v1m0 23v2m1-21v1m0 2v1m1-27v2m0 2v1m0 16v1m0 6v1m0 7v1m1-37v2m0 11v3m0 11v1m0 2v2m1-18v3m0 4v1m2-15v5m1-6v7m0 1v1m0 4v1m0 2v1m0 2v1m0 2v1m0 2v1m0 5v1m1-35v1m0 8v1m0 8v2m0 4v1m1-13v1m0 5v1m0 2v1m1-20v6m0 7v1m0 2v1m1-23v1m0 3v2m0 22v1m0 6v2m1-30v1m0 4v1m0 5v1m0 1v1m1-11v1m0 2v1m0 1v2m0 8v1m1-18v2m0 17v2m2-41v1m0 2v2m1-8v1m0 1v1m0 3v1m0 7v3m0 10v1m0 3v1m1-21v3m1-7v1m0 4v2m0 11v1m0 2v1m1-29v2m0 4v2m0 1v1m0 3v2m0 5v1m1-18v2m0 9v2m1 2v1m0 2v1m1-20v2m0 15v1m0 5v1m1-23v1m0 7v4m1-5v1m2 3v1m0 7v1m0 3v1m1-29v2m0 6v1m0 19v2m1-27v3m0 3v1m0 11v1m2-13v1m0 18v2m1-26v2m0 6v1m0 4v1m0 4v2m1-12v1m0 4v1m0 3v1m1-12v2m0 5v1m0 2v1m0 3v1m1-15v1m0 9v1m0 3v1m1-22v3m0 3v1m2 0v1m0 4v1m0 3v1m1-13v1m2 0v2m0 2v1m0 3v1"/><path stroke="#afd1e7" d="M501.5 229v1m0 5v1m1-12v1m0 5v1m1 0v1m0 3v2m0 1v1m1-13v3m0 3v1m1-5v1m0 3v2m0 4v1m0 6v1m1-4v2m1-15v1m0 17v1m1-21v1m0 7v1m2 15v1m2-14v1m1-8v1m0 7v2m1 8v1m0 2v1m1-14v1m0 12v1m1-18v1m0 4v2m1 0v1m1 0v1m1-1v1m0 3v1m0 5v2m0 1v1m0 1v1m1-24v1m0 16v1m0 5v2m1-17v2m0 10v1m0 4v1m1-6v1m1-8v1m1-6v1m0 4v1m0 4v1m1-6v1m1-2v1m0 4v1m0 5v1m1-24v1m0 3v1m0 4v1m0 7v1m0 1v1m1-18v1m0 2v1m0 12v2m0 2v1m0 4v1m2-10v1m0 2v1m0 4v1m0 1v1m2-12v1m0 1v1m1-9v1m0 2v1m0 5v2m0 3v1m2-13v1m0 17v1m1-18v1m0 7v1m0 5v1m0 5v1m0 1v1m1-15v1m0 1v1m0 11v1m1-12v3m0 2v1m0 3v1m1-15v1m0 11v1m1-9v4m0 1v1m1-13v2m0 9v1m0 12v1m1 4v1m0 2v2m1-23v3m1 5v1m0 4v1m0 1v3m2-5v1m2-19v1m0 3v1m0 8v1m0 7v1m0 5v1m2-19v1m1-2v1m1 2v1m0 4v1m1 7v1m0 1v1m1-21v2m0 15v1m0 5v1m2-12v1m0 4v1m1-17v2m0 4v1m0 5v2m1-10v1m0 5v1m1-8v1m1 14v1m1-21v1m0 6v4m0 5v1m0 3v1m2-25v1m0 3v1m0 17v1m1-6v1m1-6v1m1-14v1m0 9v1m0 5v1m0 7v1m0 1v1m1-25v2m0 1v1m0 13v2m0 6v4m1-16v1m1-3v2m1 9v1m0 1v1m1-12v1m1 3v1m3-10v1m0 9v2m0 6v1m1-15v1m1 0v1m1 0v5m0 4v1m1-17v1m0 19v1m1-11v1m0 4v1m0 1v1m1 0v1m0 1v1m1-12v1m0 9v2m1-9v1m0 5v1m1-8v1m0 5v1m1 1v2m3-4v1m2-11v1m0 15v1m1-16v3m0 3v1m1-8v1m0 1v1m0 16v1m1-27v2m0 33v1m1-42v1m0 1v1m0 42v1m1-27v2m0 3v1m1-11v1m1 13v1m1-14v1m0 2v1m0 1v1m0 3v1m0 9v1m2-1v2m0 3v1m0 7v1m2-34v1m0 10v1m0 11v1m0 1v1m0 1v1m1-12v1m1-3v2m3-11v1m0 6v2m0 1v2m0 4v2m1-26v1m0 3v2m0 7v1m0 4v4m1-20v4m0 3v1m0 5v1m0 1v2m1-4v1m0 5v2m1-34v4m0 7v1m0 20v1m1-24v1m0 1v1m0 1v1m0 4v1m0 1v1m0 3v1m1 1v1m0 2v1m3-35v1m0 12v1m1-18v1m0 5v1m0 3v1m2-1v1m0 14v2m1-26v1m0 16v1m2-15v1m0 3v1m0 5v1m0 7v1m0 4v1m0 1v1m1-26v1m0 5v2m0 5v1m0 1v1m0 3v1m1-24v2m1 5v2m1-1v1m0 3v1m1-6v1m0 3v1m0 12v1m1-17v1m1 5v2m1-10v1m0 2v1m0 5v1m0 1v1m1-10v1m0 4v1m1-4v1m1 4v1m0 1v1m1-16v1m0 6v1m0 1v1m1 6v1m0 1v1m1-14v1m0 2v1m0 11v2m2-16v2m1-10v1m0 2v1m0 1v1m0 2v1m0 6v1m2-4v1"/><path stroke="#97c6df" d="M501.5 230v1m0 10v1m0 2v3m2-10v1m1-9v3m1 2v2m0 8v1m1-15v1m0 4v1m0 5v1m1-12v2m0 2v1m1-2v1m0 2v1m0 4v1m2 6v1m0 7v1m2-24v1m0 6v1m0 6v1m1-16v1m0 12v1m1-5v1m0 5v1m1 7v1m1-23v2m0 14v1m1-15v1m0 2v1m0 4v1m2 2v1m0 2v4m0 4v1m1-22v1m3 9v1m0 6v1m0 1v1m1-9v1m0 6v2m1-7v2m1 8v1m0 2v2m1-27v1m0 15v1m0 3v1m0 2v1m1-23v2m0 15v1m0 7v2m2-11v2m0 6v1m2-10v1m1-7v2m0 8v1m0 1v1m2-13v1m0 3v1m0 5v1m1-5v1m0 8v1m0 1v1m0 1v1m0 3v1m1-16v2m0 9v2m1 0v1m1-13v2m0 5v1m1-1v1m1-10v1m1 13v1m0 7v1m0 3v1m2-9v1m1-17v2m1 16v2m2-13v1m0 16v3m0 4v1m2-26v1m0 12v1m0 6v3m1-21v1m2-1v1m0 3v1m0 11v1m1-4v2m0 7v1m2-13v2m1-9v1m0 1v2m0 5v1m1-3v1m1-9v1m0 2v1m0 2v1m1-4v1m1-6v1m2-5v2m2 10v1m0 2v1m0 2v1m0 5v1m1-2v1m1-22v1m0 16v1m0 4v1m1-10v1m0 4v2m1-2v1m0 1v1m1 0v1m2-6v1m3-8v1m1 4v1m1-3v2m1 6v1m1-1v1m0 5v1m0 1v1m1-11v1m0 2v1m1-5v1m0 6v1m1-10v1m0 7v1m0 2v1m0 2v1m1-12v1m1-8v1m0 2v2m0 5v1m4-2v2m3-1v1m1 6v1m0 3v2m1-25v1m0 12v1m0 2v1m0 5v1m1-32v1m1 19v1m0 1v1m1 6v1m0 3v1m2-21v1m0 1v2m0 10v1m0 2v3m2-24v1m0 31v1m0 3v1m1-17v2m1-31v1m0 9v1m0 16v1m0 9v1m0 1v1m1-19v1m0 8v2m5-16v1m0 4v1m1-6v1m0 4v1m0 2v1m1-1v1m1-22v1m0 7v2m0 2v1m0 4v1m0 2v1m1-15v1m0 5v1m0 2v1m1-4v2m0 4v1m0 2v1m0 1v2m3-35v1m0 7v1m0 4v1m1-10v1m0 12v2m2-15v1m1-6v1m0 1v1m2 0v1m0 1v1m0 8v1m0 4v1m0 6v1m1-20v1m0 2v1m0 3v1m1-10v1m3 2v1m0 1v1m0 9v2m1-18v1m0 2v1m0 8v1m1-12v1m0 9v1m1-11v2m0 7v1m0 1v1m0 2v1m1-18v1m0 7v1m2 3v1m1-11v1m0 3v1m0 4v2m1-9v1m0 10v1m4-14v2m0 1v1m2 0v2"/><path stroke="#7ab6d9" d="M501.5 236v1m0 2v1m0 2v2m0 5v1m1-3v1m1-16v1m0 1v1m4-3v2m0 12v1m1-15v1m0 6v2m2 5v2m2-12v1m0 2v1m0 1v1m0 1v3m1-13v2m0 6v1m0 2v1m0 1v1m0 6v1m1-10v2m0 5v1m1-10v1m0 10v1m1-8v1m1-3v2m0 2v1m2-5v2m1-9v1m0 11v1m1-3v1m0 3v1m2-5v1m0 6v1m3-7v2m0 3v1m0 6v2m1-26v1m0 6v1m0 1v1m0 1v1m1 2v1m0 1v1m0 3v1m5 1v1m2-6v1m0 11v1m1-1v1m2 0v2m1-10v1m0 2v2m2 8v1m1-8v1m0 12v1m3-17v1m0 2v1m3-1v2m0 1v1m0 4v1m0 13v1m2-22v1m0 4v1m0 7v1m1-14v1m2 15v1m1-16v1m0 4v1m0 1v1m0 2v1m0 3v1m2-11v1m1-3v1m0 4v1m0 1v1m2-12v1m0 5v2m1 5v1m0 2v1m0 1v1m1-18v1m0 3v1m0 10v1m0 1v1m4-10v2m0 6v2m1-14v1m0 7v1m2-4v1m3-1v1m0 1v1m1 2v2m3-7v1m0 10v1m4-22v1m0 24v1m2-9v1m1 7v2m2-12v1m6 5v1m1-4v1m1-8v1m0 3v1m0 6v1m1-4v1m0 13v2m0 2v1m2-23v1m0 3v1m1 6v1m0 3v1m2-22v1m0 8v1m0 7v2m2-25v1m0 16v1m0 4v1m0 4v1m0 10v2m2-47v1m0 13v1m0 15v1m1-5v2m0 2v1m5-7v1m1-5v1m0 3v2m2-8v1m1-4v1m4-17v1m0 7v1m1-7v1m0 15v1m2-18v2m1-7v1m0 10v1m0 2v1m2-12v1m0 8v1m2-8v2m2-1v1m0 1v1m1-4v2m1-3v1m0 2v1m1 5v1m2-12v1m3-1v1m1 3v1m0 1v2m1-5v2m2 3v1m0 1v1m1-14v1m0 7v1m0 3v1"/><path stroke="#5fa6d1" d="M501.5 251v1m4-23v1m0 13v1m2-6v1m1-11v3m0 6v2m2 3v1m0 2v1m0 6v1m0 2v1m2-14v1m2-11v1m0 9v2m0 2v1m0 3v1m1-11v1m0 13v1m1-12v1m0 8v1m4-12v1m0 9v1m1-2v1m0 3v1m1-22v1m4 23v1m1-12v1m0 11v2m1-9v1m7 0v1m0 5v1m0 3v3m1-15v1m1 11v1m2-3v1m2 1v1m0 7v1m0 1v1m0 2v1m1 2v2m2-5v1m4-15v1m0 16v1m2-11v1m0 7v1m3-12v1m0 1v1m0 6v2m0 1v1m1-6v1m0 1v2m0 3v1m3-6v1m1 7v1m1-18v1m1 4v1m0 10v1m3-14v1m0 4v1m0 6v1m2-2v2m0 2v1m1-13v1m0 3v1m1 7v1m2-3v1m2-7v1m8-10v1m0 11v1m3 4v2m1-4v1m1-7v1m0 4v3m6 4v1m2-3v1m1-5v2m0 11v1m2-21v1m1-3v1m0 1v1m0 17v2m2-20v1m2 11v1m0 1v1m0 10v1m0 4v1m2-32v1m1 10v1m6-6v1m2-5v2m0 4v1m0 1v2m0 1v1m0 5v1m1-17v1m1 7v2m4-26v1m0 7v1m0 5v1m3-12v1m0 4v1m2-5v1m1-8v1m0 2v1m0 4v1m0 1v1m0 4v1m0 1v1m3-13v1m3-1v2m0 1v1m1 5v1m2-9v1m0 1v1m2-11v1m1 6v1m0 2v1m0 2v1m4-16v1m0 9v1"/><path stroke="#4896c8" d="M501.5 234v1m0 15v1m1-20v1m1 1v1m2 5v1m0 2v1m1-12v1m0 1v2m1 9v2m1-15v1m2 2v1m0 2v1m0 1v1m0 3v1m0 9v2m2-21v1m0 11v1m1-9v1m0 3v2m0 8v1m2-12v1m2-6v2m0 8v2m3-10v1m0 11v1m1-2v1m1 4v1m4-1v1m0 1v1m1-17v1m1 0v1m8 16v1m1 1v1m0 7v1m0 1v1m2-12v1m2-5v1m0 2v4m0 4v1m3 6v1m4-15v1m2 9v1m0 7v1m3-12v1m0 2v1m1 0v1m6 5v1m1 4v1m2-8v2m0 1v3m3-10v1m0 5v1m1 3v1m8 0v1m1-3v1m3-15v1m0 3v1m0 7v1m0 3v1m1-4v2m1 0v1m3-7v1m6 11v1m2-5v3m1-13v1m0 19v1m0 6v2m3-28v1m2 9v2m2-7v1m0 8v1m0 9v1m2-37v1m0 20v1m1 2v1m0 2v2m8-11v1m5-18v1m0 1v1m0 1v1m1 4v1m3-11v1m0 5v1m3-2v1m6-7v2m0 2v1m1 7v1m1-12v1m0 1v1m1 0v1m2-9v1m4 9v1m1-3v2"/><path stroke="#3484bf" d="M501.5 231v1m1 11v1m3-13v1m1 0v1m4 8v1m0 2v1m2-10v1m1 11v1m0 3v1m3-2v1m5-3v1m5 6v1m1-14v1m1 6v1m7 9v1m0 1v1m1-10v1m1 8v1m4 11v2m1-10v1m0 1v1m2 6v1m4-5v1m5 5v1m3-4v1m2 11v1m2-11v1m3-12v1m0 2v1m0 8v1m12-5v2m4 5v1m3-2v1m1 3v1m0 1v1m9-5v2m0 7v1m1 6v1m2-19v1m1-3v1m4-7v1m2 23v1m6-22v1m0 1v1m3 4v1m5-21v1m0 4v1m7 7v1m5-11v1m0 2v1m3-5v1m4 3v1"/><path stroke="#2070b4" d="M501.5 237v2m4 2v1m2 1v1m6-9v1m0 14v1m1-11v1m2 4v1m0 5v1m4-13v2m1 11v2m6-13v1m1 3v1m8 5v1m0 9v1m1 7v1m4-13v1m4 4v2m3-4v1m0 12v1m2-11v1m3 9v1m1-7v1m4 2v1m0 2v1m3-6v1m6 1v1m0 2v1m0 8v1m9-6v1m3-2v1m0 3v1m13 6v1m1-8v1m0 14v1m3-7v1m4-22v1m0 24v1m0 4v1m16-38v1m1 13v2m3-15v1m3-5v2m5 5v1m0 1v1m0 1v1m7-3v1"/><path stroke="#125ea6" d="M502.5 244v1m0 1v1m3-17v1m0 9v1m2 1v1m3-3v1m3 8v1m1-17v1m0 1v2m2 7v1m6-11v1m0 1v1m0 4v1m6 2v1m7 15v1m6-5v1m1 9v1m8-3v1m6 6v1m5-6v1m6 14v1m8 2v1m1-7v1m6 3v1m1 0v1m9 4v1m1-16v1m0 5v1m2-5v1m5 14v1m11 0v1m6-22v1m5-10v1m6 2v1m0 3v1"/><path stroke="#084c95" d="M501.5 232v1m1 9v1m12-9v1m8 0v1m0 4v1m6 5v1m13 22v1m7-2v1m0 8v1m5-8v1m3 1v1m4-2v1m19 1v1m0 1v1m17 10v2m4-19v1m2 21v1m9-5v1m6-19v1"/><path stroke="#083979" d="M501.5 233v1m1-2v10m0 3v1m5-7v3m3-7v2m3-1v2m0 10v1m1-12v3m8-3v3m0 2v12m6-12v2m0 3v2m8 10v2m5 6v2m7 0v1m0 4v3m5-6v2m1-5v2m4 1v2m0 10v2m2-13v3m1-8v1m2-3v2m0 2v4m4-2v2m8 9v2m4-14v3m0 1v1m3 4v3m11-8v5m0 9v4m2-16v2m1-1v9m0 2v1m4-10v5m0 7v2m2-10v3m0 6v2m6-20v1m3 13v3m11-29v2m9 3v4"/></g>
<rect x="541.3" y="197.45" width="74.4" height="144.45" fill="none" stroke="#1a1a1a" stroke-width="0.9" stroke-dasharray="2.8 1.6"/>
<rect x="499.6" y="197" width="144.8" height="144.9" fill="none" stroke="#8a8a8a" stroke-width="1"/>
<path d="M500.4 342.4v2.2M514.61 342.4v1.4M528.82 342.4v2.2M543.03 342.4v1.4M557.24 342.4v2.2M571.45 342.4v1.4M585.66 342.4v2.2M599.87 342.4v1.4M614.08 342.4v2.2M628.29 342.4v1.4M642.5 342.4v2.2M499.1 335.95h-1.4M499.1 299.3h-2.2M499.1 262.65h-1.4M499.1 226h-2.2" stroke="#666" stroke-width="0.8" fill="none"/>
<text x="500.9" y="350.8" text-anchor="middle" font-size="7.4" fill="#333">0.0</text>
<text x="529.32" y="350.8" text-anchor="middle" font-size="7.4" fill="#333">0.2</text>
<text x="557.74" y="350.8" text-anchor="middle" font-size="7.4" fill="#333">0.4</text>
<text x="586.16" y="350.8" text-anchor="middle" font-size="7.4" fill="#333">0.6</text>
<text x="614.58" y="350.8" text-anchor="middle" font-size="7.4" fill="#333">0.8</text>
<text x="643" y="350.8" text-anchor="middle" font-size="7.4" fill="#333">1.0</text>
<text x="496.1" y="302" text-anchor="end" font-size="7.4" fill="#333">2.0</text>
<text x="496.1" y="228.7" text-anchor="end" font-size="7.4" fill="#333">2.5</text>
<text transform="translate(478.6 269.45) rotate(-90)" text-anchor="middle" font-size="8.6">Bandgap (eV)</text>
<text transform="translate(572.3 362.5) scale(1.085 1)" text-anchor="middle" font-size="8" letter-spacing="0.2"><tspan>x of (</tspan><tspan>Cs</tspan><tspan dy="1.8" font-size="6.0">3</tspan><tspan dy="-1.8">Sb</tspan><tspan dy="1.8" font-size="6.0">2</tspan><tspan dy="-1.8">Br</tspan><tspan dy="1.8" font-size="6.0">9</tspan><tspan dy="-1.8">)</tspan><tspan dy="1.8" font-size="6.0">1 − x</tspan><tspan dy="-1.8">(</tspan><tspan>Cs</tspan><tspan dy="1.8" font-size="6.0">3</tspan><tspan dy="-1.8">Bi</tspan><tspan dy="1.8" font-size="6.0">2</tspan><tspan dy="-1.8">I</tspan><tspan dy="1.8" font-size="6.0">9</tspan><tspan dy="-1.8">)</tspan><tspan dy="1.8" font-size="6.0">x</tspan></text>
<rect x="648.5" y="197" width="8.8" height="144.9" fill="url(#cbg)" stroke="#777" stroke-width="0.7"/>
<path d="M657.3 341.9h2.2M657.3 276.33h2.2M657.3 210.77h2.2M657.3 309.12h1.4M657.3 243.55h1.4" stroke="#666" stroke-width="0.8" fill="none"/>
<text x="660.5" y="344.6" font-size="7.4" fill="#333">0</text>
<text x="660.5" y="279.03" font-size="7.4" fill="#333">100</text>
<text x="660.5" y="213.47" font-size="7.4" fill="#333">200</text>
<text transform="translate(677.3 269.45) rotate(90)" text-anchor="middle" font-size="8.3">Number of pixels</text>
<text x="465.6" y="200.9" font-size="13.6" font-weight="bold" fill="#000">f</text>
<text x="577.1" y="333.3" text-anchor="middle" font-size="8.8">N = 201,719</text>
<g><text x="577.7" y="217.5" text-anchor="middle" font-size="8.9">Transition</text><text x="577.7" y="228.1" text-anchor="middle" font-size="8.9">region</text></g>
<path d="M96.6 26.0L86.5 33.8" stroke="#000" stroke-width="1.1"/><path d="M81.8 37.6L84.0 31.4L88.4 36.2Z" fill="#000"/>
</svg></body></html>
